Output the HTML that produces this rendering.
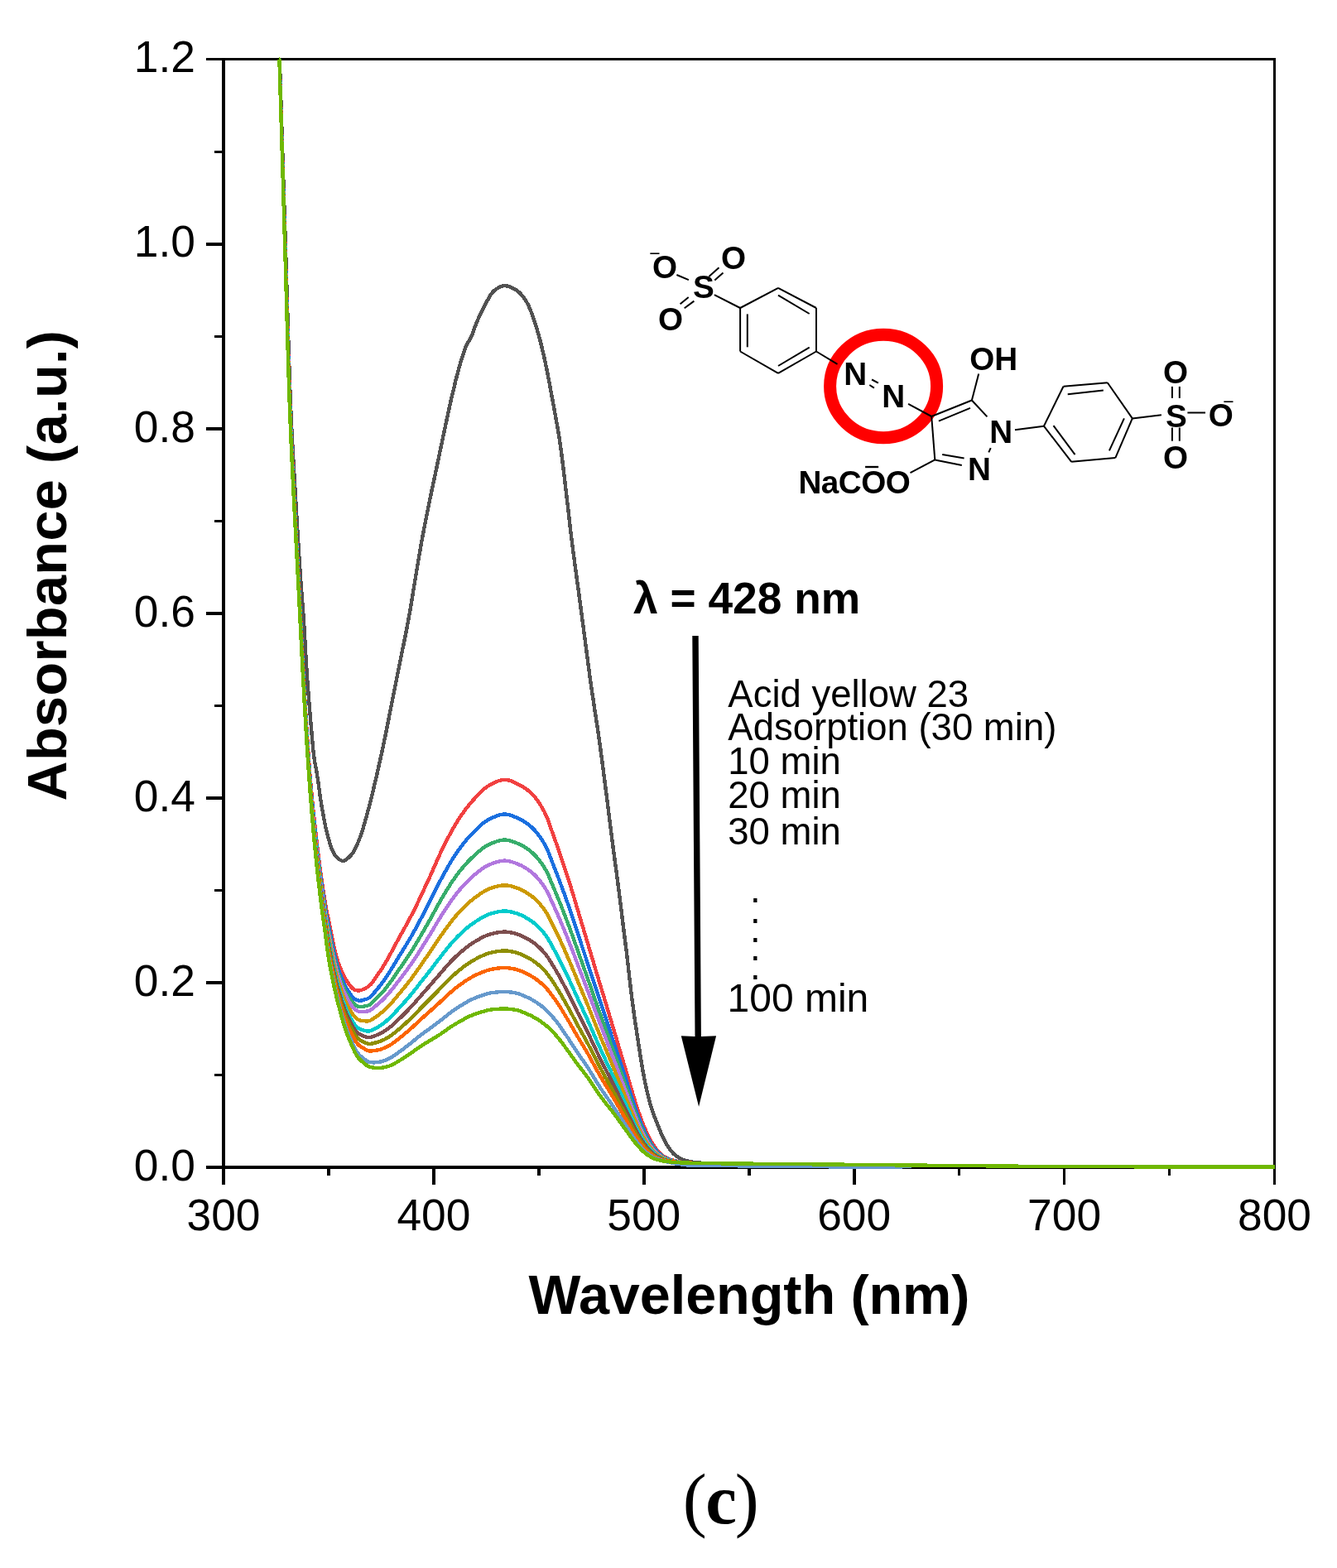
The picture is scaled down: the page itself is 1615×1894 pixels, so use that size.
<!DOCTYPE html>
<html lang="en"><head><meta charset="utf-8"><title>UV-Vis absorbance spectra - Acid yellow 23</title>
<style>
html,body{margin:0;padding:0;background:#fff}
body{width:1615px;height:1894px;overflow:hidden}
svg{display:block}
text{font-family:"Liberation Sans",Arial,Helvetica,sans-serif;fill:#000;font-kerning:none;font-variant-ligatures:none;letter-spacing:0}
.b{font-weight:bold}
.tick{font-size:53.33px}
.ttl{font-size:66.67px;font-weight:bold}
.lg{font-size:45.5px}
  .at{font-size:38.67px;font-weight:bold}
.ch{font-size:22px}
.cap{font-family:"Liberation Serif","DejaVu Serif",serif}
.bond line{stroke:#000;stroke-width:2;stroke-linecap:butt}
.cv path{fill:none;stroke-width:4.4;stroke-linejoin:round;stroke-linecap:butt}
</style></head><body>
<svg width="1615" height="1894" viewBox="0 0 1615 1894">
<rect width="1615" height="1894" fill="#fff"/>

<g fill="#000" shape-rendering="crispEdges">
<rect x="249" y="70" width="1292" height="3"/>
<rect x="268" y="70" width="4" height="1361"/>
<rect x="249" y="1408" width="1292" height="4"/>
<rect x="1538" y="70" width="3" height="1361"/>
<rect x="249" y="293" width="21" height="4"/>
<rect x="249" y="516" width="21" height="4"/>
<rect x="249" y="739" width="21" height="4"/>
<rect x="249" y="962" width="21" height="4"/>
<rect x="249" y="1185" width="21" height="4"/>
<rect x="259" y="182" width="11" height="3"/>
<rect x="259" y="405" width="11" height="3"/>
<rect x="259" y="628" width="11" height="3"/>
<rect x="259" y="851" width="11" height="3"/>
<rect x="259" y="1074" width="11" height="3"/>
<rect x="259" y="1297" width="11" height="3"/>
<rect x="522.1" y="1410" width="3.5" height="21"/>
<rect x="776.0" y="1410" width="3.5" height="21"/>
<rect x="1030.0" y="1410" width="3.5" height="21"/>
<rect x="1283.8" y="1410" width="3.5" height="21"/>
<rect x="395.2" y="1410" width="3.5" height="10"/>
<rect x="649.1" y="1410" width="3.5" height="10"/>
<rect x="903.0" y="1410" width="3.5" height="10"/>
<rect x="1156.9" y="1410" width="3.5" height="10"/>
<rect x="1410.8" y="1410" width="3.5" height="10"/>
</g>
<g class="cv" shape-rendering="crispEdges">
<path stroke="#515151" d="M337.8,71.5 L338.0,78.0 L338.2,86.0 L338.5,94.1 L338.8,102.1 L339.0,110.1 L339.2,118.1 L339.5,126.1 L339.8,134.1 L340.0,142.1 L340.2,150.1 L340.5,158.1 L340.8,166.0 L341.0,174.0 L341.2,181.9 L341.5,189.8 L341.8,197.8 L342.0,205.7 L342.2,213.6 L342.5,221.5 L342.8,229.4 L343.0,237.3 L343.2,245.1 L343.5,253.0 L343.8,260.8 L344.0,268.7 L344.2,276.5 L344.5,284.4 L344.8,292.2 L345.0,300.0 L345.2,307.9 L345.5,315.9 L345.8,324.1 L346.0,332.4 L346.2,340.8 L346.5,349.3 L346.8,357.8 L347.0,366.3 L347.2,374.8 L347.5,383.3 L347.8,391.7 L348.0,400.0 L348.2,408.2 L348.5,416.3 L348.8,424.2 L349.0,432.0 L349.2,439.6 L349.5,447.0 L349.8,454.3 L350.0,461.3 L350.2,468.2 L350.5,474.9 L350.8,481.4 L351.0,487.8 L351.2,494.0 L351.5,500.0 L351.8,505.8 L352.0,511.2 L352.2,516.5 L352.5,521.5 L352.8,526.4 L353.0,531.1 L353.2,535.8 L353.5,540.3 L353.8,544.8 L354.0,549.2 L354.2,553.5 L354.5,557.8 L354.8,562.1 L355.0,566.3 L355.2,570.5 L355.5,574.7 L355.8,578.9 L356.0,583.1 L356.2,587.3 L356.5,591.5 L356.8,595.7 L357.0,600.0 L357.2,604.3 L357.5,608.6 L357.8,612.8 L358.0,617.1 L358.2,621.3 L358.5,625.5 L358.8,629.7 L359.0,633.9 L359.2,638.1 L359.5,642.2 L359.8,646.4 L360.0,650.4 L360.2,654.5 L360.5,658.5 L360.8,662.5 L361.0,666.5 L361.2,670.4 L361.5,674.3 L361.8,678.2 L362.0,682.1 L362.2,685.9 L362.5,689.6 L362.8,693.4 L363.0,697.1 L363.2,700.7 L363.5,704.3 L363.8,707.7 L364.0,711.0 L364.2,714.3 L364.5,717.6 L364.8,720.8 L365.0,724.0 L365.2,727.1 L365.5,730.4 L365.8,733.6 L366.0,736.9 L366.2,740.2 L366.5,743.7 L366.8,747.3 L367.0,751.0 L367.2,754.9 L367.5,758.9 L367.8,763.1 L368.0,767.4 L368.2,771.8 L368.5,776.2 L368.8,780.7 L369.0,785.1 L369.2,789.6 L369.5,793.9 L369.8,798.1 L370.0,802.2 L370.2,806.2 L370.5,810.0 L370.8,813.7 L371.0,817.3 L371.2,820.8 L371.5,824.2 L371.8,827.6 L372.0,830.9 L372.2,834.2 L372.5,837.4 L372.8,840.6 L373.0,843.8 L373.2,846.9 L373.5,849.9 L373.8,853.0 L374.0,856.0 L374.2,858.9 L374.5,861.9 L374.8,864.8 L375.0,867.7 L375.2,870.5 L375.5,873.4 L375.8,876.3 L376.0,879.2 L376.2,882.2 L376.5,885.3 L376.8,888.3 L377.0,891.2 L377.2,894.2 L377.5,897.0 L377.8,899.7 L378.0,902.3 L378.2,904.8 L378.5,907.2 L378.8,909.4 L379.0,911.6 L379.2,913.7 L379.5,915.6 L379.8,917.5 L380.0,919.3 L380.2,920.9 L380.5,922.2 L380.8,923.4 L381.0,924.5 L381.2,925.7 L381.5,926.9 L381.8,928.2 L382.0,929.6 L382.2,931.0 L382.5,932.5 L382.8,934.1 L383.0,935.6 L383.2,937.2 L383.5,938.9 L383.8,940.6 L384.0,942.3 L384.2,944.0 L384.5,945.8 L384.8,947.6 L385.0,949.4 L385.2,951.2 L385.5,953.0 L385.8,954.8 L386.0,956.6 L386.2,958.4 L386.5,960.2 L386.8,961.9 L387.0,963.7 L387.2,965.4 L387.5,967.0 L387.8,968.7 L388.0,970.3 L388.2,971.8 L388.5,973.3 L388.8,974.8 L389.0,976.3 L389.2,977.7 L389.5,979.1 L389.8,980.5 L390.0,981.8 L390.2,983.2 L390.5,984.6 L390.8,985.9 L391.0,987.2 L391.2,988.6 L391.5,989.9 L391.8,991.2 L392.0,992.4 L392.2,993.7 L392.5,994.9 L392.8,996.1 L393.0,997.3 L393.2,998.4 L393.5,999.6 L393.8,1000.7 L394.0,1001.8 L394.2,1002.9 L394.5,1003.9 L394.8,1005.0 L395.0,1006.0 L395.2,1007.0 L395.5,1008.0 L395.8,1009.0 L396.0,1009.9 L396.2,1010.8 L396.5,1011.7 L396.8,1012.6 L397.0,1013.5 L397.2,1014.4 L397.5,1015.3 L397.8,1016.2 L398.0,1017.1 L398.2,1018.0 L398.5,1018.8 L398.8,1019.7 L399.0,1020.5 L399.2,1021.3 L399.5,1022.0 L399.8,1022.8 L400.0,1023.5 L400.2,1024.2 L400.5,1024.9 L400.8,1025.5 L401.0,1026.1 L401.2,1026.7 L401.5,1027.3 L401.8,1027.8 L402.0,1028.4 L402.2,1028.9 L402.5,1029.4 L402.8,1029.8 L403.0,1030.3 L403.2,1030.7 L403.5,1031.1 L403.8,1031.5 L404.0,1031.9 L404.2,1032.3 L404.5,1032.6 L404.8,1032.9 L405.0,1033.3 L405.2,1033.6 L405.5,1033.9 L405.8,1034.2 L406.0,1034.5 L406.2,1034.8 L406.5,1035.0 L406.8,1035.3 L407.0,1035.6 L407.2,1035.8 L407.5,1036.1 L407.8,1036.3 L408.0,1036.6 L408.2,1036.8 L408.5,1037.0 L408.8,1037.2 L409.0,1037.4 L409.2,1037.6 L409.5,1037.8 L409.8,1038.0 L410.0,1038.2 L410.2,1038.4 L410.5,1038.5 L410.8,1038.7 L411.0,1038.8 L411.2,1039.0 L411.5,1039.1 L411.8,1039.2 L412.0,1039.3 L412.2,1039.4 L412.5,1039.5 L412.8,1039.6 L413.0,1039.7 L413.2,1039.7 L413.5,1039.8 L413.8,1039.8 L414.0,1039.8 L414.2,1039.8 L414.5,1039.8 L414.8,1039.7 L415.0,1039.7 L415.2,1039.6 L415.5,1039.5 L415.8,1039.4 L416.0,1039.4 L416.2,1039.3 L416.5,1039.1 L416.8,1039.0 L417.0,1038.9 L417.2,1038.7 L417.5,1038.6 L417.8,1038.4 L418.0,1038.3 L418.2,1038.1 L418.5,1037.9 L418.8,1037.8 L419.0,1037.6 L419.2,1037.4 L419.5,1037.2 L419.8,1037.0 L420.0,1036.8 L421.0,1035.9 L422.0,1035.0 L423.0,1034.0 L424.0,1032.9 L425.0,1031.7 L426.0,1030.3 L427.0,1028.8 L428.0,1027.1 L429.0,1025.3 L430.0,1023.2 L431.0,1021.1 L432.0,1018.7 L433.0,1016.3 L434.0,1013.9 L435.0,1011.3 L436.0,1008.5 L437.0,1005.6 L438.0,1002.4 L439.0,999.2 L440.0,995.7 L441.0,992.2 L442.0,988.6 L443.0,984.9 L444.0,981.3 L445.0,977.6 L446.0,973.9 L447.0,970.0 L448.0,966.0 L449.0,962.0 L450.0,957.9 L451.0,953.7 L452.0,949.5 L453.0,945.3 L454.0,941.0 L455.0,936.7 L456.0,932.4 L457.0,927.9 L458.0,923.5 L459.0,919.0 L460.0,914.4 L461.0,909.8 L462.0,905.2 L463.0,900.5 L464.0,895.7 L465.0,890.9 L466.0,886.0 L467.0,881.0 L468.0,876.0 L469.0,870.9 L470.0,865.8 L471.0,860.7 L472.0,855.7 L473.0,850.6 L474.0,845.6 L475.0,840.6 L476.0,835.6 L477.0,830.6 L478.0,825.6 L479.0,820.6 L480.0,815.6 L481.0,810.6 L482.0,805.6 L483.0,800.6 L484.0,795.6 L485.0,790.7 L486.0,785.8 L487.0,780.9 L488.0,776.1 L489.0,771.2 L490.0,766.2 L491.0,761.1 L492.0,755.9 L493.0,750.6 L494.0,745.1 L495.0,739.3 L496.0,733.4 L497.0,727.4 L498.0,721.3 L499.0,715.1 L500.0,709.0 L501.0,703.0 L502.0,697.0 L503.0,691.1 L504.0,685.1 L505.0,679.1 L506.0,673.1 L507.0,667.2 L508.0,661.5 L509.0,655.9 L510.0,650.4 L511.0,645.0 L512.0,639.8 L513.0,634.6 L514.0,629.6 L515.0,624.5 L516.0,619.5 L517.0,614.6 L518.0,609.6 L519.0,604.7 L520.0,599.9 L521.0,595.1 L522.0,590.3 L523.0,585.6 L524.0,580.9 L525.0,576.2 L526.0,571.5 L527.0,566.8 L528.0,562.0 L529.0,557.3 L530.0,552.5 L531.0,547.7 L532.0,542.9 L533.0,538.1 L534.0,533.4 L535.0,528.6 L536.0,523.9 L537.0,519.2 L538.0,514.6 L539.0,509.9 L540.0,505.3 L541.0,500.6 L542.0,496.0 L543.0,491.4 L544.0,486.9 L545.0,482.4 L546.0,478.1 L547.0,473.8 L548.0,469.7 L549.0,465.6 L550.0,461.5 L551.0,457.5 L552.0,453.6 L553.0,449.8 L554.0,446.1 L555.0,442.5 L556.0,439.0 L557.0,435.7 L558.0,432.4 L559.0,429.3 L560.0,426.2 L561.0,423.3 L562.0,420.7 L563.0,418.2 L564.0,416.0 L565.0,414.2 L566.0,412.6 L567.0,411.0 L568.0,409.3 L569.0,407.4 L570.0,405.0 L571.0,402.4 L572.0,399.5 L573.0,396.6 L574.0,393.9 L575.0,391.4 L576.0,389.0 L577.0,386.7 L578.0,384.4 L579.0,382.1 L580.0,379.9 L581.0,377.8 L582.0,375.7 L583.0,373.7 L584.0,371.7 L585.0,369.8 L586.0,367.9 L587.0,366.1 L588.0,364.3 L589.0,362.5 L590.0,360.7 L591.0,358.9 L592.0,357.2 L593.0,355.6 L594.0,354.2 L595.0,352.9 L596.0,351.9 L597.0,351.0 L598.0,350.2 L599.0,349.5 L600.0,348.8 L601.0,348.2 L602.0,347.6 L603.0,347.0 L604.0,346.5 L605.0,346.1 L606.0,345.8 L607.0,345.5 L608.0,345.2 L609.0,345.1 L610.0,345.1 L611.0,345.2 L612.0,345.4 L613.0,345.6 L614.0,345.9 L615.0,346.2 L616.0,346.6 L617.0,347.0 L618.0,347.4 L619.0,347.9 L620.0,348.4 L621.0,349.0 L622.0,349.5 L623.0,350.1 L624.0,350.7 L625.0,351.5 L626.0,352.3 L627.0,353.1 L628.0,354.1 L629.0,355.1 L630.0,356.2 L631.0,357.3 L632.0,358.5 L633.0,359.9 L634.0,361.3 L635.0,362.9 L636.0,364.5 L637.0,366.4 L638.0,368.3 L639.0,370.5 L640.0,372.8 L641.0,375.2 L642.0,377.8 L643.0,380.6 L644.0,383.5 L645.0,386.4 L646.0,389.5 L647.0,392.5 L648.0,395.6 L649.0,398.9 L650.0,402.3 L651.0,405.9 L652.0,409.6 L653.0,413.4 L654.0,417.4 L655.0,421.5 L656.0,425.8 L657.0,430.1 L658.0,434.6 L659.0,439.3 L660.0,444.1 L661.0,449.1 L662.0,454.2 L663.0,459.5 L664.0,464.8 L665.0,470.2 L666.0,475.6 L667.0,481.0 L668.0,486.3 L669.0,491.6 L670.0,497.0 L671.0,502.4 L672.0,508.0 L673.0,513.6 L674.0,519.4 L675.0,525.5 L676.0,531.9 L677.0,538.8 L678.0,546.0 L679.0,553.7 L680.0,561.8 L681.0,570.1 L682.0,578.6 L683.0,587.3 L684.0,595.8 L685.0,604.2 L686.0,612.8 L687.0,621.5 L688.0,630.3 L689.0,639.0 L690.0,647.5 L691.0,655.7 L692.0,663.5 L693.0,671.1 L694.0,678.5 L695.0,685.8 L696.0,693.1 L697.0,700.4 L698.0,707.8 L699.0,715.2 L700.0,722.7 L701.0,730.3 L702.0,737.8 L703.0,745.3 L704.0,752.9 L705.0,760.4 L706.0,767.9 L707.0,775.5 L708.0,783.2 L709.0,790.8 L710.0,798.4 L711.0,806.0 L712.0,813.4 L713.0,820.7 L714.0,827.8 L715.0,834.7 L716.0,841.5 L717.0,848.1 L718.0,854.7 L719.0,861.3 L720.0,867.8 L721.0,874.4 L722.0,881.1 L723.0,887.9 L724.0,894.9 L725.0,902.1 L726.0,909.5 L727.0,917.0 L728.0,924.6 L729.0,932.3 L730.0,940.1 L731.0,947.9 L732.0,955.7 L733.0,963.5 L734.0,971.5 L735.0,979.5 L736.0,987.5 L737.0,995.5 L738.0,1003.4 L739.0,1011.3 L740.0,1019.0 L741.0,1026.6 L742.0,1034.1 L743.0,1041.5 L744.0,1048.9 L745.0,1056.4 L746.0,1064.0 L747.0,1071.7 L748.0,1079.5 L749.0,1087.5 L750.0,1095.6 L751.0,1103.7 L752.0,1111.9 L753.0,1120.0 L754.0,1128.0 L755.0,1135.9 L756.0,1143.6 L757.0,1151.6 L758.0,1160.1 L759.0,1168.9 L760.0,1177.8 L761.0,1186.6 L762.0,1195.2 L763.0,1203.3 L764.0,1211.0 L765.0,1218.4 L766.0,1225.5 L767.0,1232.5 L768.0,1239.3 L769.0,1245.9 L770.0,1252.5 L771.0,1259.0 L772.0,1265.5 L773.0,1272.0 L774.0,1278.3 L775.0,1284.5 L776.0,1290.3 L777.0,1296.0 L778.0,1301.3 L779.0,1306.3 L780.0,1311.1 L781.0,1315.7 L782.0,1320.0 L783.0,1324.1 L784.0,1328.0 L785.0,1331.8 L786.0,1335.3 L787.0,1338.5 L788.0,1341.6 L789.0,1344.5 L790.0,1347.3 L791.0,1349.9 L792.0,1352.6 L793.0,1355.1 L794.0,1357.6 L795.0,1360.1 L796.0,1362.6 L797.0,1365.1 L798.0,1367.5 L799.0,1369.8 L800.0,1372.1 L801.0,1374.2 L802.0,1376.3 L803.0,1378.2 L804.0,1380.0 L805.0,1381.8 L806.0,1383.5 L807.0,1385.1 L808.0,1386.6 L809.0,1388.1 L810.0,1389.4 L811.0,1390.7 L812.0,1391.8 L813.0,1392.9 L814.0,1393.9 L815.0,1394.8 L816.0,1395.6 L817.0,1396.4 L818.0,1397.1 L819.0,1397.8 L820.0,1398.4 L821.0,1399.0 L822.0,1399.5 L823.0,1400.0 L824.0,1400.4 L825.0,1400.8 L826.0,1401.2 L827.0,1401.5 L828.0,1401.8 L829.0,1402.1 L830.0,1402.3 L831.0,1402.6 L832.0,1402.8 L833.0,1403.0 L834.0,1403.1 L835.0,1403.3 L836.0,1403.5 L837.0,1403.7 L838.0,1403.8 L839.0,1404.0 L840.0,1404.1 L850.0,1405.0 L860.0,1405.2 L870.0,1405.4 L880.0,1405.6 L890.0,1405.7 L900.0,1405.8 L910.0,1405.9 L920.0,1406.0 L930.0,1406.0 L940.0,1406.1 L950.0,1406.2 L960.0,1406.2 L970.0,1406.3 L980.0,1406.3 L990.0,1406.4 L1000.0,1406.5 L1010.0,1406.6 L1020.0,1406.7 L1030.0,1406.8 L1040.0,1406.9 L1050.0,1407.0 L1060.0,1407.1 L1070.0,1407.2 L1080.0,1407.3 L1090.0,1407.4 L1100.0,1407.5 L1110.0,1407.6 L1120.0,1407.7 L1130.0,1407.8 L1140.0,1407.9 L1150.0,1408.0 L1160.0,1408.1 L1170.0,1408.1 L1180.0,1408.2 L1190.0,1408.3 L1200.0,1408.4 L1210.0,1408.5 L1220.0,1408.6 L1230.0,1408.7 L1240.0,1408.7 L1250.0,1408.8 L1260.0,1408.9 L1270.0,1408.9 L1280.0,1409.0 L1290.0,1409.0 L1300.0,1409.0 L1310.0,1409.1 L1320.0,1409.1 L1330.0,1409.1 L1340.0,1409.2 L1350.0,1409.2 L1360.0,1409.3 L1370.0,1409.3 L1380.0,1409.3 L1390.0,1409.3 L1400.0,1409.4 L1410.0,1409.4 L1420.0,1409.4 L1430.0,1409.5 L1440.0,1409.5 L1450.0,1409.5 L1460.0,1409.5 L1470.0,1409.5 L1480.0,1409.6 L1490.0,1409.6 L1500.0,1409.6 L1510.0,1409.6 L1520.0,1409.6 L1530.0,1409.6 L1539.5,1409.6"/>
<path stroke="#F14040" d="M337.5,71.5 L337.8,76.4 L338.0,84.6 L338.2,92.8 L338.5,101.0 L338.8,109.2 L339.0,117.4 L339.2,125.6 L339.5,133.8 L339.8,142.0 L340.0,150.2 L340.2,158.3 L340.5,166.5 L340.8,174.7 L341.0,182.8 L341.2,191.0 L341.5,199.1 L341.8,207.3 L342.0,215.5 L342.2,223.6 L342.5,231.7 L342.8,239.9 L343.0,248.0 L343.2,256.1 L343.5,264.3 L343.8,272.4 L344.0,280.5 L344.2,288.6 L344.5,296.7 L344.8,304.9 L345.0,313.1 L345.2,321.5 L345.5,330.0 L345.8,338.6 L346.0,347.3 L346.2,356.0 L346.5,364.8 L346.8,373.5 L347.0,382.2 L347.2,390.9 L347.5,399.5 L347.8,408.0 L348.0,416.4 L348.2,424.7 L348.5,432.8 L348.8,440.8 L349.0,448.6 L349.2,456.3 L349.5,463.8 L349.8,471.1 L350.0,478.2 L350.2,485.2 L350.5,492.0 L350.8,498.7 L351.0,505.1 L351.2,511.4 L351.5,517.5 L351.8,523.4 L352.0,529.2 L352.2,534.9 L352.5,540.4 L352.8,545.9 L353.0,551.2 L353.2,556.5 L353.5,561.7 L353.8,566.8 L354.0,571.9 L354.2,576.9 L354.5,581.9 L354.8,586.8 L355.0,591.6 L355.2,596.5 L355.5,601.3 L355.8,606.0 L356.0,610.8 L356.2,615.5 L356.5,620.2 L356.8,624.8 L357.0,629.5 L357.2,634.1 L357.5,638.8 L357.8,643.4 L358.0,648.0 L358.2,652.6 L358.5,657.2 L358.8,661.8 L359.0,666.4 L359.2,671.1 L359.5,675.7 L359.8,680.3 L360.0,685.0 L360.2,689.6 L360.5,694.3 L360.8,699.0 L361.0,703.8 L361.2,708.5 L361.5,713.4 L361.8,718.2 L362.0,723.1 L362.2,728.0 L362.5,732.9 L362.8,737.8 L363.0,742.8 L363.2,747.8 L363.5,752.8 L363.8,757.7 L364.0,762.7 L364.2,767.7 L364.5,772.6 L364.8,777.6 L365.0,782.5 L365.2,787.4 L365.5,792.3 L365.8,797.2 L366.0,802.0 L366.2,806.8 L366.5,811.5 L366.8,816.2 L367.0,820.9 L367.2,825.5 L367.5,830.0 L367.8,834.6 L368.0,839.0 L368.2,843.4 L368.5,847.8 L368.8,852.1 L369.0,856.4 L369.2,860.6 L369.5,864.7 L369.8,868.8 L370.0,872.8 L370.2,876.8 L370.5,880.7 L370.8,884.6 L371.0,888.5 L371.2,892.2 L371.5,896.0 L371.8,899.6 L372.0,903.3 L372.2,906.8 L372.5,910.4 L372.8,913.8 L373.0,917.3 L373.2,920.7 L373.5,924.0 L373.8,927.2 L374.0,930.4 L374.2,933.5 L374.5,936.5 L374.8,939.5 L375.0,942.4 L375.2,945.3 L375.5,948.1 L375.8,950.9 L376.0,953.7 L376.2,956.4 L376.5,959.0 L376.8,961.7 L377.0,964.3 L377.2,966.9 L377.5,969.4 L377.8,971.9 L378.0,974.4 L378.2,976.9 L378.5,979.3 L378.8,981.7 L379.0,984.1 L379.2,986.5 L379.5,988.8 L379.8,991.2 L380.0,993.5 L380.2,995.8 L380.5,998.0 L380.8,1000.3 L381.0,1002.5 L381.2,1004.8 L381.5,1007.0 L381.8,1009.2 L382.0,1011.4 L382.2,1013.5 L382.5,1015.7 L382.8,1017.9 L383.0,1020.0 L383.2,1022.1 L383.5,1024.2 L383.8,1026.3 L384.0,1028.4 L384.2,1030.4 L384.5,1032.5 L384.8,1034.5 L385.0,1036.5 L385.2,1038.5 L385.5,1040.5 L385.8,1042.5 L386.0,1044.4 L386.2,1046.3 L386.5,1048.2 L386.8,1050.1 L387.0,1052.0 L387.2,1053.8 L387.5,1055.7 L387.8,1057.5 L388.0,1059.3 L388.2,1061.0 L388.5,1062.8 L388.8,1064.5 L389.0,1066.3 L389.2,1068.0 L389.5,1069.6 L389.8,1071.3 L390.0,1073.0 L390.2,1074.6 L390.5,1076.2 L390.8,1077.8 L391.0,1079.4 L391.2,1081.0 L391.5,1082.5 L391.8,1084.1 L392.0,1085.6 L392.2,1087.1 L392.5,1088.6 L392.8,1090.1 L393.0,1091.5 L393.2,1093.0 L393.5,1094.4 L393.8,1095.8 L394.0,1097.2 L394.2,1098.6 L394.5,1100.0 L394.8,1101.3 L395.0,1102.5 L395.2,1103.7 L395.5,1104.8 L395.8,1105.9 L396.0,1107.0 L396.2,1108.1 L396.5,1109.2 L396.8,1110.3 L397.0,1111.5 L397.2,1112.6 L397.5,1113.9 L397.8,1115.1 L398.0,1116.4 L398.2,1117.6 L398.5,1118.9 L398.8,1120.2 L399.0,1121.6 L399.2,1122.9 L399.5,1124.2 L399.8,1125.5 L400.0,1126.8 L400.2,1128.1 L400.5,1129.4 L400.8,1130.7 L401.0,1132.0 L401.2,1133.2 L401.5,1134.4 L401.8,1135.6 L402.0,1136.7 L402.2,1137.9 L402.5,1139.0 L402.8,1140.1 L403.0,1141.3 L403.2,1142.4 L403.5,1143.5 L403.8,1144.6 L404.0,1145.7 L404.2,1146.8 L404.5,1147.9 L404.8,1148.9 L405.0,1150.0 L405.2,1151.0 L405.5,1152.0 L405.8,1153.0 L406.0,1153.9 L406.2,1154.9 L406.5,1155.8 L406.8,1156.7 L407.0,1157.6 L407.2,1158.5 L407.5,1159.3 L407.8,1160.1 L408.0,1160.9 L408.2,1161.7 L408.5,1162.5 L408.8,1163.3 L409.0,1164.0 L409.2,1164.7 L409.5,1165.4 L409.8,1166.0 L410.0,1166.7 L410.2,1167.3 L410.5,1167.9 L410.8,1168.6 L411.0,1169.2 L411.2,1169.8 L411.5,1170.3 L411.8,1170.9 L412.0,1171.5 L412.2,1172.0 L412.5,1172.6 L412.8,1173.1 L413.0,1173.7 L413.2,1174.2 L413.5,1174.7 L413.8,1175.3 L414.0,1175.8 L414.2,1176.3 L414.5,1176.8 L414.8,1177.3 L415.0,1177.8 L415.2,1178.3 L415.5,1178.8 L415.8,1179.3 L416.0,1179.7 L416.2,1180.2 L416.5,1180.7 L416.8,1181.2 L417.0,1181.6 L417.2,1182.1 L417.5,1182.5 L417.8,1182.9 L418.0,1183.4 L418.2,1183.8 L418.5,1184.2 L418.8,1184.6 L419.0,1185.0 L419.2,1185.4 L419.5,1185.8 L419.8,1186.2 L420.0,1186.6 L421.0,1188.0 L422.0,1189.3 L423.0,1190.6 L424.0,1191.9 L425.0,1193.0 L426.0,1194.0 L427.0,1194.8 L428.0,1195.4 L429.0,1195.7 L430.0,1196.1 L431.0,1196.3 L432.0,1196.5 L433.0,1196.6 L434.0,1196.5 L435.0,1196.3 L436.0,1196.1 L437.0,1195.7 L438.0,1195.3 L439.0,1194.8 L440.0,1194.3 L441.0,1193.9 L442.0,1193.4 L443.0,1192.8 L444.0,1192.2 L445.0,1191.5 L446.0,1190.8 L447.0,1189.9 L448.0,1188.9 L449.0,1187.7 L450.0,1186.4 L451.0,1184.9 L452.0,1183.4 L453.0,1181.9 L454.0,1180.4 L455.0,1179.0 L456.0,1177.6 L457.0,1176.2 L458.0,1174.8 L459.0,1173.4 L460.0,1171.9 L461.0,1170.4 L462.0,1168.9 L463.0,1167.3 L464.0,1165.6 L465.0,1164.0 L466.0,1162.2 L467.0,1160.5 L468.0,1158.7 L469.0,1156.8 L470.0,1155.0 L471.0,1153.2 L472.0,1151.4 L473.0,1149.6 L474.0,1147.7 L475.0,1145.9 L476.0,1144.0 L477.0,1142.2 L478.0,1140.3 L479.0,1138.5 L480.0,1136.6 L481.0,1134.8 L482.0,1132.9 L483.0,1131.1 L484.0,1129.3 L485.0,1127.5 L486.0,1125.7 L487.0,1123.9 L488.0,1122.2 L489.0,1120.4 L490.0,1118.6 L491.0,1116.7 L492.0,1114.9 L493.0,1113.1 L494.0,1111.2 L495.0,1109.4 L496.0,1107.5 L497.0,1105.6 L498.0,1103.7 L499.0,1101.7 L500.0,1099.7 L501.0,1097.7 L502.0,1095.7 L503.0,1093.7 L504.0,1091.6 L505.0,1089.5 L506.0,1087.5 L507.0,1085.4 L508.0,1083.2 L509.0,1081.1 L510.0,1079.0 L511.0,1076.8 L512.0,1074.7 L513.0,1072.5 L514.0,1070.4 L515.0,1068.2 L516.0,1066.1 L517.0,1063.9 L518.0,1061.8 L519.0,1059.6 L520.0,1057.4 L521.0,1055.1 L522.0,1052.9 L523.0,1050.6 L524.0,1048.3 L525.0,1046.1 L526.0,1043.8 L527.0,1041.5 L528.0,1039.3 L529.0,1037.0 L530.0,1034.8 L531.0,1032.6 L532.0,1030.5 L533.0,1028.3 L534.0,1026.3 L535.0,1024.2 L536.0,1022.2 L537.0,1020.2 L538.0,1018.2 L539.0,1016.3 L540.0,1014.3 L541.0,1012.4 L542.0,1010.5 L543.0,1008.6 L544.0,1006.7 L545.0,1004.9 L546.0,1003.1 L547.0,1001.3 L548.0,999.5 L549.0,997.8 L550.0,996.1 L551.0,994.4 L552.0,992.8 L553.0,991.2 L554.0,989.7 L555.0,988.1 L556.0,986.6 L557.0,985.2 L558.0,983.7 L559.0,982.3 L560.0,980.9 L561.0,979.5 L562.0,978.2 L563.0,976.8 L564.0,975.5 L565.0,974.2 L566.0,973.0 L567.0,971.8 L568.0,970.6 L569.0,969.4 L570.0,968.2 L571.0,967.1 L572.0,966.0 L573.0,964.9 L574.0,963.8 L575.0,962.7 L576.0,961.6 L577.0,960.6 L578.0,959.5 L579.0,958.5 L580.0,957.4 L581.0,956.5 L582.0,955.5 L583.0,954.6 L584.0,953.7 L585.0,952.8 L586.0,952.0 L587.0,951.2 L588.0,950.5 L589.0,949.8 L590.0,949.2 L591.0,948.6 L592.0,948.0 L593.0,947.5 L594.0,947.0 L595.0,946.5 L596.0,945.9 L597.0,945.5 L598.0,945.0 L599.0,944.5 L600.0,944.1 L601.0,943.7 L602.0,943.3 L603.0,943.0 L604.0,942.7 L605.0,942.4 L606.0,942.2 L607.0,942.0 L608.0,941.9 L609.0,941.8 L610.0,941.8 L611.0,941.9 L612.0,942.0 L613.0,942.2 L614.0,942.4 L615.0,942.6 L616.0,942.9 L617.0,943.3 L618.0,943.6 L619.0,944.0 L620.0,944.4 L621.0,944.9 L622.0,945.3 L623.0,945.8 L624.0,946.3 L625.0,946.8 L626.0,947.3 L627.0,947.8 L628.0,948.3 L629.0,948.8 L630.0,949.4 L631.0,949.9 L632.0,950.6 L633.0,951.2 L634.0,951.9 L635.0,952.6 L636.0,953.3 L637.0,954.1 L638.0,954.9 L639.0,955.8 L640.0,956.7 L641.0,957.6 L642.0,958.5 L643.0,959.5 L644.0,960.5 L645.0,961.6 L646.0,962.8 L647.0,964.0 L648.0,965.3 L649.0,966.7 L650.0,968.1 L651.0,969.6 L652.0,971.1 L653.0,972.7 L654.0,974.3 L655.0,976.0 L656.0,977.8 L657.0,979.6 L658.0,981.5 L659.0,983.6 L660.0,985.7 L661.0,988.0 L662.0,990.5 L663.0,993.2 L664.0,996.2 L665.0,999.1 L666.0,1002.0 L667.0,1004.8 L668.0,1007.6 L669.0,1010.5 L670.0,1013.3 L671.0,1016.1 L672.0,1018.9 L673.0,1021.8 L674.0,1024.6 L675.0,1027.5 L676.0,1030.4 L677.0,1033.3 L678.0,1036.2 L679.0,1039.2 L680.0,1042.2 L681.0,1045.2 L682.0,1048.2 L683.0,1051.2 L684.0,1054.3 L685.0,1057.3 L686.0,1060.4 L687.0,1063.5 L688.0,1066.7 L689.0,1069.8 L690.0,1073.0 L691.0,1076.2 L692.0,1079.5 L693.0,1082.8 L694.0,1086.1 L695.0,1089.5 L696.0,1092.8 L697.0,1096.2 L698.0,1099.6 L699.0,1103.0 L700.0,1106.4 L701.0,1109.7 L702.0,1113.1 L703.0,1116.4 L704.0,1119.7 L705.0,1123.0 L706.0,1126.4 L707.0,1129.7 L708.0,1133.0 L709.0,1136.3 L710.0,1139.6 L711.0,1143.0 L712.0,1146.3 L713.0,1149.7 L714.0,1153.0 L715.0,1156.4 L716.0,1159.8 L717.0,1163.1 L718.0,1166.5 L719.0,1169.8 L720.0,1173.1 L721.0,1176.4 L722.0,1179.7 L723.0,1182.9 L724.0,1186.2 L725.0,1189.5 L726.0,1192.8 L727.0,1196.1 L728.0,1199.4 L729.0,1202.7 L730.0,1206.0 L731.0,1209.3 L732.0,1212.7 L733.0,1216.0 L734.0,1219.3 L735.0,1222.6 L736.0,1226.0 L737.0,1229.3 L738.0,1232.6 L739.0,1236.0 L740.0,1239.3 L741.0,1242.7 L742.0,1246.1 L743.0,1249.4 L744.0,1252.8 L745.0,1256.1 L746.0,1259.5 L747.0,1262.8 L748.0,1266.2 L749.0,1269.5 L750.0,1272.9 L751.0,1276.2 L752.0,1279.6 L753.0,1282.9 L754.0,1286.2 L755.0,1289.6 L756.0,1292.9 L757.0,1296.3 L758.0,1299.6 L759.0,1303.0 L760.0,1306.4 L761.0,1309.8 L762.0,1313.3 L763.0,1316.7 L764.0,1320.1 L765.0,1323.5 L766.0,1326.7 L767.0,1329.9 L768.0,1333.1 L769.0,1336.1 L770.0,1339.1 L771.0,1342.0 L772.0,1344.9 L773.0,1347.8 L774.0,1350.6 L775.0,1353.3 L776.0,1355.9 L777.0,1358.4 L778.0,1360.9 L779.0,1363.2 L780.0,1365.5 L781.0,1367.7 L782.0,1369.8 L783.0,1371.9 L784.0,1373.9 L785.0,1375.9 L786.0,1377.7 L787.0,1379.5 L788.0,1381.1 L789.0,1382.7 L790.0,1384.2 L791.0,1385.6 L792.0,1387.0 L793.0,1388.2 L794.0,1389.5 L795.0,1390.6 L796.0,1391.7 L797.0,1392.8 L798.0,1393.8 L799.0,1394.7 L800.0,1395.5 L801.0,1396.2 L802.0,1396.9 L803.0,1397.5 L804.0,1398.1 L805.0,1398.6 L806.0,1399.0 L807.0,1399.5 L808.0,1399.9 L809.0,1400.3 L810.0,1400.7 L811.0,1401.0 L812.0,1401.3 L813.0,1401.6 L814.0,1401.8 L815.0,1402.1 L816.0,1402.3 L817.0,1402.5 L818.0,1402.8 L819.0,1403.0 L820.0,1403.2 L821.0,1403.4 L822.0,1403.6 L823.0,1403.8 L824.0,1403.9 L825.0,1404.1 L826.0,1404.2 L827.0,1404.3 L828.0,1404.4 L829.0,1404.5 L830.0,1404.5 L831.0,1404.5 L832.0,1404.6 L833.0,1404.6 L834.0,1404.6 L835.0,1404.6 L836.0,1404.7 L837.0,1404.7 L838.0,1404.7 L839.0,1404.7 L840.0,1404.8 L850.0,1405.0 L860.0,1405.2 L870.0,1405.4 L880.0,1405.5 L890.0,1405.7 L900.0,1405.8 L910.0,1405.8 L920.0,1405.9 L930.0,1406.0 L940.0,1406.1 L950.0,1406.1 L960.0,1406.2 L970.0,1406.2 L980.0,1406.3 L990.0,1406.4 L1000.0,1406.5 L1010.0,1406.6 L1020.0,1406.7 L1030.0,1406.8 L1040.0,1406.9 L1050.0,1407.0 L1060.0,1407.1 L1070.0,1407.2 L1080.0,1407.3 L1090.0,1407.4 L1100.0,1407.5 L1110.0,1407.6 L1120.0,1407.7 L1130.0,1407.8 L1140.0,1407.9 L1150.0,1408.0 L1160.0,1408.1 L1170.0,1408.1 L1180.0,1408.2 L1190.0,1408.3 L1200.0,1408.4 L1210.0,1408.5 L1220.0,1408.6 L1230.0,1408.7 L1240.0,1408.7 L1250.0,1408.8 L1260.0,1408.9 L1270.0,1408.9 L1280.0,1409.0 L1290.0,1409.0 L1300.0,1409.0 L1310.0,1409.1 L1320.0,1409.1 L1330.0,1409.1 L1340.0,1409.2 L1350.0,1409.2 L1360.0,1409.3 L1370.0,1409.3 L1380.0,1409.3 L1390.0,1409.3 L1400.0,1409.4 L1410.0,1409.4 L1420.0,1409.4 L1430.0,1409.5 L1440.0,1409.5 L1450.0,1409.5 L1460.0,1409.5 L1470.0,1409.5 L1480.0,1409.6 L1490.0,1409.6 L1500.0,1409.6 L1510.0,1409.6 L1520.0,1409.6 L1530.0,1409.6 L1539.5,1409.6"/>
<path stroke="#1A6FDF" d="M337.2,71.5 L337.5,72.0 L337.8,77.5 L338.0,85.7 L338.2,93.9 L338.5,102.2 L338.8,110.4 L339.0,118.6 L339.2,126.9 L339.5,135.1 L339.8,143.3 L340.0,151.5 L340.2,159.7 L340.5,167.9 L340.8,176.1 L341.0,184.3 L341.2,192.5 L341.5,200.7 L341.8,208.9 L342.0,217.1 L342.2,225.3 L342.5,233.4 L342.8,241.6 L343.0,249.8 L343.2,258.0 L343.5,266.1 L343.8,274.3 L344.0,282.4 L344.2,290.6 L344.5,298.8 L344.8,307.0 L345.0,315.3 L345.2,323.8 L345.5,332.4 L345.8,341.0 L346.0,349.7 L346.2,358.5 L346.5,367.3 L346.8,376.1 L347.0,384.8 L347.2,393.5 L347.5,402.1 L347.8,410.7 L348.0,419.0 L348.2,427.3 L348.5,435.4 L348.8,443.4 L349.0,451.2 L349.2,458.8 L349.5,466.3 L349.8,473.6 L350.0,480.7 L350.2,487.6 L350.5,494.4 L350.8,501.0 L351.0,507.4 L351.2,513.7 L351.5,519.7 L351.8,525.6 L352.0,531.4 L352.2,537.0 L352.5,542.5 L352.8,547.9 L353.0,553.3 L353.2,558.6 L353.5,563.7 L353.8,568.9 L354.0,573.9 L354.2,578.9 L354.5,583.9 L354.8,588.8 L355.0,593.7 L355.2,598.5 L355.5,603.3 L355.8,608.1 L356.0,612.8 L356.2,617.5 L356.5,622.2 L356.8,626.9 L357.0,631.5 L357.2,636.2 L357.5,640.8 L357.8,645.5 L358.0,650.1 L358.2,654.7 L358.5,659.4 L358.8,664.0 L359.0,668.6 L359.2,673.3 L359.5,677.9 L359.8,682.6 L360.0,687.2 L360.2,691.9 L360.5,696.7 L360.8,701.4 L361.0,706.2 L361.2,711.0 L361.5,715.8 L361.8,720.6 L362.0,725.5 L362.2,730.4 L362.5,735.4 L362.8,740.3 L363.0,745.3 L363.2,750.3 L363.5,755.2 L363.8,760.2 L364.0,765.2 L364.2,770.1 L364.5,775.1 L364.8,780.0 L365.0,784.9 L365.2,789.8 L365.5,794.7 L365.8,799.5 L366.0,804.4 L366.2,809.1 L366.5,813.9 L366.8,818.6 L367.0,823.2 L367.2,827.8 L367.5,832.4 L367.8,836.9 L368.0,841.3 L368.2,845.8 L368.5,850.1 L368.8,854.4 L369.0,858.7 L369.2,862.9 L369.5,867.0 L369.8,871.2 L370.0,875.2 L370.2,879.2 L370.5,883.1 L370.8,887.0 L371.0,890.9 L371.2,894.7 L371.5,898.4 L371.8,902.1 L372.0,905.8 L372.2,909.4 L372.5,912.9 L372.8,916.4 L373.0,919.9 L373.2,923.3 L373.5,926.6 L373.8,929.9 L374.0,933.1 L374.2,936.2 L374.5,939.3 L374.8,942.3 L375.0,945.3 L375.2,948.2 L375.5,951.1 L375.8,954.0 L376.0,956.8 L376.2,959.5 L376.5,962.3 L376.8,965.0 L377.0,967.6 L377.2,970.2 L377.5,972.8 L377.8,975.4 L378.0,978.0 L378.2,980.5 L378.5,983.0 L378.8,985.4 L379.0,987.9 L379.2,990.3 L379.5,992.7 L379.8,995.1 L380.0,997.5 L380.2,999.8 L380.5,1002.1 L380.8,1004.4 L381.0,1006.7 L381.2,1009.0 L381.5,1011.3 L381.8,1013.5 L382.0,1015.7 L382.2,1017.9 L382.5,1020.1 L382.8,1022.3 L383.0,1024.4 L383.2,1026.6 L383.5,1028.7 L383.8,1030.8 L384.0,1032.9 L384.2,1035.0 L384.5,1037.1 L384.8,1039.1 L385.0,1041.2 L385.2,1043.2 L385.5,1045.2 L385.8,1047.2 L386.0,1049.1 L386.2,1051.1 L386.5,1053.0 L386.8,1054.9 L387.0,1056.8 L387.2,1058.7 L387.5,1060.5 L387.8,1062.4 L388.0,1064.2 L388.2,1066.0 L388.5,1067.8 L388.8,1069.6 L389.0,1071.3 L389.2,1073.1 L389.5,1074.8 L389.8,1076.5 L390.0,1078.2 L390.2,1079.8 L390.5,1081.4 L390.8,1083.1 L391.0,1084.7 L391.2,1086.3 L391.5,1087.8 L391.8,1089.4 L392.0,1091.0 L392.2,1092.5 L392.5,1094.0 L392.8,1095.6 L393.0,1097.1 L393.2,1098.6 L393.5,1100.1 L393.8,1101.6 L394.0,1103.1 L394.2,1104.6 L394.5,1106.0 L394.8,1107.4 L395.0,1108.8 L395.2,1110.0 L395.5,1111.3 L395.8,1112.5 L396.0,1113.7 L396.2,1114.8 L396.5,1116.0 L396.8,1117.2 L397.0,1118.4 L397.2,1119.6 L397.5,1120.9 L397.8,1122.2 L398.0,1123.5 L398.2,1124.8 L398.5,1126.1 L398.8,1127.4 L399.0,1128.7 L399.2,1130.0 L399.5,1131.4 L399.8,1132.7 L400.0,1134.0 L400.2,1135.3 L400.5,1136.6 L400.8,1137.8 L401.0,1139.1 L401.2,1140.3 L401.5,1141.5 L401.8,1142.7 L402.0,1143.9 L402.2,1145.0 L402.5,1146.2 L402.8,1147.3 L403.0,1148.4 L403.2,1149.6 L403.5,1150.7 L403.8,1151.8 L404.0,1152.9 L404.2,1154.0 L404.5,1155.1 L404.8,1156.1 L405.0,1157.2 L405.2,1158.2 L405.5,1159.2 L405.8,1160.2 L406.0,1161.2 L406.2,1162.2 L406.5,1163.1 L406.8,1164.0 L407.0,1164.9 L407.2,1165.8 L407.5,1166.7 L407.8,1167.5 L408.0,1168.4 L408.2,1169.2 L408.5,1170.0 L408.8,1170.8 L409.0,1171.5 L409.2,1172.3 L409.5,1173.0 L409.8,1173.7 L410.0,1174.4 L410.2,1175.1 L410.5,1175.8 L410.8,1176.4 L411.0,1177.1 L411.2,1177.7 L411.5,1178.4 L411.8,1179.0 L412.0,1179.6 L412.2,1180.2 L412.5,1180.8 L412.8,1181.4 L413.0,1182.0 L413.2,1182.6 L413.5,1183.2 L413.8,1183.7 L414.0,1184.3 L414.2,1184.9 L414.5,1185.4 L414.8,1186.0 L415.0,1186.5 L415.2,1187.1 L415.5,1187.6 L415.8,1188.1 L416.0,1188.7 L416.2,1189.2 L416.5,1189.7 L416.8,1190.2 L417.0,1190.7 L417.2,1191.2 L417.5,1191.7 L417.8,1192.1 L418.0,1192.6 L418.2,1193.1 L418.5,1193.5 L418.8,1194.0 L419.0,1194.4 L419.2,1194.8 L419.5,1195.3 L419.8,1195.7 L420.0,1196.1 L421.0,1197.7 L422.0,1199.2 L423.0,1200.6 L424.0,1202.0 L425.0,1203.4 L426.0,1204.5 L427.0,1205.5 L428.0,1206.3 L429.0,1207.0 L430.0,1207.5 L431.0,1208.0 L432.0,1208.3 L433.0,1208.6 L434.0,1208.7 L435.0,1208.7 L436.0,1208.6 L437.0,1208.4 L438.0,1208.2 L439.0,1207.9 L440.0,1207.6 L441.0,1207.3 L442.0,1207.0 L443.0,1206.7 L444.0,1206.3 L445.0,1205.8 L446.0,1205.2 L447.0,1204.5 L448.0,1203.7 L449.0,1202.7 L450.0,1201.6 L451.0,1200.4 L452.0,1199.1 L453.0,1197.9 L454.0,1196.6 L455.0,1195.5 L456.0,1194.3 L457.0,1193.1 L458.0,1191.9 L459.0,1190.7 L460.0,1189.4 L461.0,1188.1 L462.0,1186.8 L463.0,1185.5 L464.0,1184.0 L465.0,1182.6 L466.0,1181.1 L467.0,1179.6 L468.0,1178.0 L469.0,1176.4 L470.0,1174.9 L471.0,1173.3 L472.0,1171.7 L473.0,1170.1 L474.0,1168.5 L475.0,1166.8 L476.0,1165.2 L477.0,1163.5 L478.0,1161.8 L479.0,1160.2 L480.0,1158.5 L481.0,1156.9 L482.0,1155.3 L483.0,1153.6 L484.0,1152.0 L485.0,1150.4 L486.0,1148.8 L487.0,1147.2 L488.0,1145.6 L489.0,1144.0 L490.0,1142.3 L491.0,1140.7 L492.0,1139.1 L493.0,1137.4 L494.0,1135.7 L495.0,1134.0 L496.0,1132.4 L497.0,1130.6 L498.0,1128.9 L499.0,1127.1 L500.0,1125.3 L501.0,1123.5 L502.0,1121.7 L503.0,1119.9 L504.0,1118.0 L505.0,1116.2 L506.0,1114.3 L507.0,1112.4 L508.0,1110.5 L509.0,1108.6 L510.0,1106.7 L511.0,1104.8 L512.0,1102.9 L513.0,1101.0 L514.0,1099.0 L515.0,1097.1 L516.0,1095.2 L517.0,1093.3 L518.0,1091.4 L519.0,1089.4 L520.0,1087.4 L521.0,1085.4 L522.0,1083.4 L523.0,1081.4 L524.0,1079.4 L525.0,1077.4 L526.0,1075.3 L527.0,1073.3 L528.0,1071.3 L529.0,1069.3 L530.0,1067.4 L531.0,1065.4 L532.0,1063.5 L533.0,1061.6 L534.0,1059.7 L535.0,1057.9 L536.0,1056.1 L537.0,1054.3 L538.0,1052.5 L539.0,1050.7 L540.0,1048.9 L541.0,1047.2 L542.0,1045.4 L543.0,1043.7 L544.0,1042.0 L545.0,1040.4 L546.0,1038.7 L547.0,1037.1 L548.0,1035.5 L549.0,1034.0 L550.0,1032.5 L551.0,1031.0 L552.0,1029.5 L553.0,1028.0 L554.0,1026.6 L555.0,1025.3 L556.0,1023.9 L557.0,1022.6 L558.0,1021.2 L559.0,1020.0 L560.0,1018.7 L561.0,1017.4 L562.0,1016.2 L563.0,1015.0 L564.0,1013.8 L565.0,1012.7 L566.0,1011.5 L567.0,1010.4 L568.0,1009.3 L569.0,1008.2 L570.0,1007.2 L571.0,1006.2 L572.0,1005.2 L573.0,1004.2 L574.0,1003.2 L575.0,1002.2 L576.0,1001.3 L577.0,1000.3 L578.0,999.4 L579.0,998.4 L580.0,997.5 L581.0,996.6 L582.0,995.8 L583.0,994.9 L584.0,994.1 L585.0,993.3 L586.0,992.6 L587.0,991.9 L588.0,991.2 L589.0,990.6 L590.0,990.1 L591.0,989.5 L592.0,989.0 L593.0,988.6 L594.0,988.1 L595.0,987.6 L596.0,987.2 L597.0,986.8 L598.0,986.4 L599.0,986.0 L600.0,985.6 L601.0,985.2 L602.0,984.9 L603.0,984.6 L604.0,984.3 L605.0,984.1 L606.0,983.9 L607.0,983.7 L608.0,983.6 L609.0,983.6 L610.0,983.6 L611.0,983.6 L612.0,983.7 L613.0,983.9 L614.0,984.1 L615.0,984.3 L616.0,984.6 L617.0,984.9 L618.0,985.2 L619.0,985.6 L620.0,986.0 L621.0,986.3 L622.0,986.8 L623.0,987.2 L624.0,987.6 L625.0,988.1 L626.0,988.5 L627.0,989.0 L628.0,989.5 L629.0,990.0 L630.0,990.5 L631.0,991.1 L632.0,991.6 L633.0,992.3 L634.0,992.9 L635.0,993.6 L636.0,994.3 L637.0,995.0 L638.0,995.8 L639.0,996.5 L640.0,997.4 L641.0,998.2 L642.0,999.1 L643.0,1000.0 L644.0,1001.0 L645.0,1002.0 L646.0,1003.0 L647.0,1004.2 L648.0,1005.4 L649.0,1006.6 L650.0,1007.9 L651.0,1009.2 L652.0,1010.6 L653.0,1012.1 L654.0,1013.6 L655.0,1015.1 L656.0,1016.7 L657.0,1018.4 L658.0,1020.2 L659.0,1022.0 L660.0,1024.0 L661.0,1026.0 L662.0,1028.2 L663.0,1030.7 L664.0,1033.4 L665.0,1036.0 L666.0,1038.6 L667.0,1041.2 L668.0,1043.7 L669.0,1046.3 L670.0,1048.8 L671.0,1051.4 L672.0,1054.0 L673.0,1056.5 L674.0,1059.1 L675.0,1061.8 L676.0,1064.4 L677.0,1067.1 L678.0,1069.8 L679.0,1072.5 L680.0,1075.2 L681.0,1078.0 L682.0,1080.7 L683.0,1083.5 L684.0,1086.3 L685.0,1089.1 L686.0,1091.9 L687.0,1094.8 L688.0,1097.7 L689.0,1100.6 L690.0,1103.5 L691.0,1106.4 L692.0,1109.4 L693.0,1112.4 L694.0,1115.5 L695.0,1118.5 L696.0,1121.6 L697.0,1124.7 L698.0,1127.7 L699.0,1130.8 L700.0,1133.9 L701.0,1136.9 L702.0,1139.9 L703.0,1143.0 L704.0,1146.0 L705.0,1149.0 L706.0,1152.0 L707.0,1155.0 L708.0,1158.0 L709.0,1161.1 L710.0,1164.1 L711.0,1167.1 L712.0,1170.2 L713.0,1173.2 L714.0,1176.3 L715.0,1179.4 L716.0,1182.5 L717.0,1185.6 L718.0,1188.7 L719.0,1191.7 L720.0,1194.8 L721.0,1197.8 L722.0,1200.8 L723.0,1203.8 L724.0,1206.8 L725.0,1209.8 L726.0,1212.8 L727.0,1215.8 L728.0,1218.8 L729.0,1221.8 L730.0,1224.8 L731.0,1227.8 L732.0,1230.8 L733.0,1233.8 L734.0,1236.8 L735.0,1239.8 L736.0,1242.9 L737.0,1245.9 L738.0,1248.9 L739.0,1252.0 L740.0,1255.0 L741.0,1258.1 L742.0,1261.1 L743.0,1264.2 L744.0,1267.2 L745.0,1270.3 L746.0,1273.3 L747.0,1276.4 L748.0,1279.4 L749.0,1282.5 L750.0,1285.5 L751.0,1288.6 L752.0,1291.6 L753.0,1294.7 L754.0,1297.7 L755.0,1300.8 L756.0,1303.8 L757.0,1306.9 L758.0,1309.9 L759.0,1313.0 L760.0,1316.1 L761.0,1319.2 L762.0,1322.3 L763.0,1325.5 L764.0,1328.6 L765.0,1331.6 L766.0,1334.6 L767.0,1337.5 L768.0,1340.3 L769.0,1343.1 L770.0,1345.8 L771.0,1348.4 L772.0,1351.1 L773.0,1353.7 L774.0,1356.2 L775.0,1358.7 L776.0,1361.0 L777.0,1363.3 L778.0,1365.5 L779.0,1367.7 L780.0,1369.7 L781.0,1371.7 L782.0,1373.6 L783.0,1375.5 L784.0,1377.3 L785.0,1379.0 L786.0,1380.7 L787.0,1382.3 L788.0,1383.8 L789.0,1385.2 L790.0,1386.5 L791.0,1387.8 L792.0,1389.0 L793.0,1390.1 L794.0,1391.2 L795.0,1392.2 L796.0,1393.2 L797.0,1394.1 L798.0,1395.0 L799.0,1395.8 L800.0,1396.5 L801.0,1397.2 L802.0,1397.8 L803.0,1398.3 L804.0,1398.8 L805.0,1399.2 L806.0,1399.7 L807.0,1400.1 L808.0,1400.4 L809.0,1400.8 L810.0,1401.1 L811.0,1401.4 L812.0,1401.7 L813.0,1401.9 L814.0,1402.1 L815.0,1402.4 L816.0,1402.6 L817.0,1402.8 L818.0,1403.0 L819.0,1403.2 L820.0,1403.4 L821.0,1403.5 L822.0,1403.7 L823.0,1403.9 L824.0,1404.0 L825.0,1404.1 L826.0,1404.2 L827.0,1404.3 L828.0,1404.4 L829.0,1404.5 L830.0,1404.5 L831.0,1404.5 L832.0,1404.6 L833.0,1404.6 L834.0,1404.6 L835.0,1404.7 L836.0,1404.7 L837.0,1404.7 L838.0,1404.7 L839.0,1404.8 L840.0,1404.8 L850.0,1405.0 L860.0,1405.2 L870.0,1405.4 L880.0,1405.5 L890.0,1405.6 L900.0,1405.7 L910.0,1405.8 L920.0,1405.9 L930.0,1406.0 L940.0,1406.0 L950.0,1406.1 L960.0,1406.2 L970.0,1406.2 L980.0,1406.3 L990.0,1406.4 L1000.0,1406.5 L1010.0,1406.6 L1020.0,1406.7 L1030.0,1406.8 L1040.0,1406.9 L1050.0,1407.0 L1060.0,1407.1 L1070.0,1407.2 L1080.0,1407.3 L1090.0,1407.4 L1100.0,1407.5 L1110.0,1407.6 L1120.0,1407.7 L1130.0,1407.8 L1140.0,1407.9 L1150.0,1408.0 L1160.0,1408.1 L1170.0,1408.1 L1180.0,1408.2 L1190.0,1408.3 L1200.0,1408.4 L1210.0,1408.5 L1220.0,1408.6 L1230.0,1408.7 L1240.0,1408.7 L1250.0,1408.8 L1260.0,1408.9 L1270.0,1408.9 L1280.0,1409.0 L1290.0,1409.0 L1300.0,1409.0 L1310.0,1409.1 L1320.0,1409.1 L1330.0,1409.1 L1340.0,1409.2 L1350.0,1409.2 L1360.0,1409.3 L1370.0,1409.3 L1380.0,1409.3 L1390.0,1409.3 L1400.0,1409.4 L1410.0,1409.4 L1420.0,1409.4 L1430.0,1409.5 L1440.0,1409.5 L1450.0,1409.5 L1460.0,1409.5 L1470.0,1409.5 L1480.0,1409.6 L1490.0,1409.6 L1500.0,1409.6 L1510.0,1409.6 L1520.0,1409.6 L1530.0,1409.6 L1539.5,1409.6"/>
<path stroke="#37AD6B" d="M337.2,71.5 L337.5,72.4 L337.8,78.2 L338.0,86.5 L338.2,94.8 L338.5,103.0 L338.8,111.3 L339.0,119.5 L339.2,127.8 L339.5,136.0 L339.8,144.3 L340.0,152.5 L340.2,160.7 L340.5,169.0 L340.8,177.2 L341.0,185.4 L341.2,193.7 L341.5,201.9 L341.8,210.1 L342.0,218.3 L342.2,226.5 L342.5,234.7 L342.8,242.9 L343.0,251.1 L343.2,259.3 L343.5,267.5 L343.8,275.7 L344.0,283.9 L344.2,292.1 L344.5,300.3 L344.8,308.5 L345.0,316.9 L345.2,325.4 L345.5,334.1 L345.8,342.8 L346.0,351.5 L346.2,360.3 L346.5,369.2 L346.8,378.0 L347.0,386.7 L347.2,395.5 L347.5,404.1 L347.8,412.6 L348.0,421.0 L348.2,429.3 L348.5,437.4 L348.8,445.3 L349.0,453.1 L349.2,460.7 L349.5,468.2 L349.8,475.4 L350.0,482.5 L350.2,489.5 L350.5,496.2 L350.8,502.8 L351.0,509.1 L351.2,515.3 L351.5,521.4 L351.8,527.2 L352.0,533.0 L352.2,538.6 L352.5,544.1 L352.8,549.5 L353.0,554.8 L353.2,560.1 L353.5,565.3 L353.8,570.4 L354.0,575.4 L354.2,580.4 L354.5,585.4 L354.8,590.3 L355.0,595.2 L355.2,600.0 L355.5,604.8 L355.8,609.6 L356.0,614.3 L356.2,619.0 L356.5,623.7 L356.8,628.4 L357.0,633.1 L357.2,637.7 L357.5,642.4 L357.8,647.0 L358.0,651.7 L358.2,656.3 L358.5,660.9 L358.8,665.6 L359.0,670.2 L359.2,674.9 L359.5,679.5 L359.8,684.2 L360.0,688.9 L360.2,693.6 L360.5,698.4 L360.8,703.1 L361.0,707.9 L361.2,712.7 L361.5,717.6 L361.8,722.5 L362.0,727.4 L362.2,732.3 L362.5,737.2 L362.8,742.2 L363.0,747.1 L363.2,752.1 L363.5,757.1 L363.8,762.0 L364.0,767.0 L364.2,772.0 L364.5,776.9 L364.8,781.8 L365.0,786.7 L365.2,791.6 L365.5,796.5 L365.8,801.3 L366.0,806.1 L366.2,810.9 L366.5,815.6 L366.8,820.3 L367.0,824.9 L367.2,829.5 L367.5,834.1 L367.8,838.6 L368.0,843.1 L368.2,847.5 L368.5,851.8 L368.8,856.2 L369.0,860.4 L369.2,864.6 L369.5,868.8 L369.8,872.9 L370.0,877.0 L370.2,881.0 L370.5,884.9 L370.8,888.8 L371.0,892.7 L371.2,896.5 L371.5,900.3 L371.8,904.0 L372.0,907.6 L372.2,911.3 L372.5,914.8 L372.8,918.3 L373.0,921.8 L373.2,925.2 L373.5,928.6 L373.8,931.9 L374.0,935.1 L374.2,938.3 L374.5,941.4 L374.8,944.5 L375.0,947.5 L375.2,950.4 L375.5,953.3 L375.8,956.2 L376.0,959.1 L376.2,961.9 L376.5,964.6 L376.8,967.4 L377.0,970.1 L377.2,972.7 L377.5,975.4 L377.8,978.0 L378.0,980.6 L378.2,983.1 L378.5,985.7 L378.8,988.2 L379.0,990.7 L379.2,993.1 L379.5,995.6 L379.8,998.0 L380.0,1000.4 L380.2,1002.8 L380.5,1005.2 L380.8,1007.5 L381.0,1009.8 L381.2,1012.1 L381.5,1014.4 L381.8,1016.7 L382.0,1018.9 L382.2,1021.1 L382.5,1023.3 L382.8,1025.5 L383.0,1027.7 L383.2,1029.9 L383.5,1032.0 L383.8,1034.2 L384.0,1036.3 L384.2,1038.4 L384.5,1040.5 L384.8,1042.5 L385.0,1044.6 L385.2,1046.6 L385.5,1048.6 L385.8,1050.6 L386.0,1052.6 L386.2,1054.6 L386.5,1056.5 L386.8,1058.4 L387.0,1060.3 L387.2,1062.2 L387.5,1064.1 L387.8,1066.0 L388.0,1067.8 L388.2,1069.7 L388.5,1071.5 L388.8,1073.3 L389.0,1075.0 L389.2,1076.8 L389.5,1078.5 L389.8,1080.2 L390.0,1081.9 L390.2,1083.6 L390.5,1085.2 L390.8,1086.9 L391.0,1088.5 L391.2,1090.1 L391.5,1091.7 L391.8,1093.3 L392.0,1094.8 L392.2,1096.4 L392.5,1098.0 L392.8,1099.6 L393.0,1101.1 L393.2,1102.7 L393.5,1104.2 L393.8,1105.8 L394.0,1107.3 L394.2,1108.9 L394.5,1110.4 L394.8,1111.9 L395.0,1113.3 L395.2,1114.6 L395.5,1115.9 L395.8,1117.2 L396.0,1118.5 L396.2,1119.7 L396.5,1120.9 L396.8,1122.2 L397.0,1123.4 L397.2,1124.7 L397.5,1125.9 L397.8,1127.2 L398.0,1128.5 L398.2,1129.9 L398.5,1131.2 L398.8,1132.5 L399.0,1133.8 L399.2,1135.1 L399.5,1136.5 L399.8,1137.8 L400.0,1139.1 L400.2,1140.4 L400.5,1141.6 L400.8,1142.9 L401.0,1144.1 L401.2,1145.4 L401.5,1146.6 L401.8,1147.8 L402.0,1148.9 L402.2,1150.1 L402.5,1151.2 L402.8,1152.4 L403.0,1153.5 L403.2,1154.6 L403.5,1155.7 L403.8,1156.9 L404.0,1157.9 L404.2,1159.0 L404.5,1160.1 L404.8,1161.2 L405.0,1162.2 L405.2,1163.2 L405.5,1164.2 L405.8,1165.2 L406.0,1166.2 L406.2,1167.2 L406.5,1168.1 L406.8,1169.1 L407.0,1170.0 L407.2,1170.9 L407.5,1171.7 L407.8,1172.6 L408.0,1173.5 L408.2,1174.3 L408.5,1175.1 L408.8,1175.9 L409.0,1176.7 L409.2,1177.4 L409.5,1178.2 L409.8,1178.9 L410.0,1179.6 L410.2,1180.4 L410.5,1181.1 L410.8,1181.7 L411.0,1182.4 L411.2,1183.1 L411.5,1183.8 L411.8,1184.4 L412.0,1185.1 L412.2,1185.7 L412.5,1186.3 L412.8,1187.0 L413.0,1187.6 L413.2,1188.2 L413.5,1188.8 L413.8,1189.4 L414.0,1190.0 L414.2,1190.6 L414.5,1191.1 L414.8,1191.7 L415.0,1192.3 L415.2,1192.8 L415.5,1193.4 L415.8,1194.0 L416.0,1194.5 L416.2,1195.0 L416.5,1195.6 L416.8,1196.1 L417.0,1196.6 L417.2,1197.1 L417.5,1197.6 L417.8,1198.1 L418.0,1198.6 L418.2,1199.1 L418.5,1199.5 L418.8,1200.0 L419.0,1200.5 L419.2,1200.9 L419.5,1201.4 L419.8,1201.8 L420.0,1202.2 L421.0,1203.9 L422.0,1205.4 L423.0,1206.9 L424.0,1208.4 L425.0,1209.8 L426.0,1211.0 L427.0,1212.1 L428.0,1213.0 L429.0,1213.8 L430.0,1214.5 L431.0,1215.0 L432.0,1215.5 L433.0,1215.8 L434.0,1216.0 L435.0,1216.1 L436.0,1216.1 L437.0,1216.0 L438.0,1215.8 L439.0,1215.7 L440.0,1215.5 L441.0,1215.3 L442.0,1215.2 L443.0,1214.9 L444.0,1214.7 L445.0,1214.3 L446.0,1213.8 L447.0,1213.3 L448.0,1212.6 L449.0,1211.8 L450.0,1210.8 L451.0,1209.8 L452.0,1208.8 L453.0,1207.7 L454.0,1206.7 L455.0,1205.7 L456.0,1204.7 L457.0,1203.8 L458.0,1202.8 L459.0,1201.7 L460.0,1200.7 L461.0,1199.6 L462.0,1198.5 L463.0,1197.4 L464.0,1196.2 L465.0,1194.9 L466.0,1193.7 L467.0,1192.4 L468.0,1191.0 L469.0,1189.7 L470.0,1188.4 L471.0,1187.0 L472.0,1185.6 L473.0,1184.3 L474.0,1182.8 L475.0,1181.4 L476.0,1180.0 L477.0,1178.5 L478.0,1177.1 L479.0,1175.6 L480.0,1174.1 L481.0,1172.7 L482.0,1171.2 L483.0,1169.8 L484.0,1168.4 L485.0,1166.9 L486.0,1165.5 L487.0,1164.0 L488.0,1162.6 L489.0,1161.1 L490.0,1159.7 L491.0,1158.2 L492.0,1156.7 L493.0,1155.2 L494.0,1153.7 L495.0,1152.1 L496.0,1150.6 L497.0,1149.0 L498.0,1147.5 L499.0,1145.9 L500.0,1144.2 L501.0,1142.6 L502.0,1140.9 L503.0,1139.2 L504.0,1137.5 L505.0,1135.8 L506.0,1134.1 L507.0,1132.4 L508.0,1130.7 L509.0,1129.0 L510.0,1127.2 L511.0,1125.5 L512.0,1123.7 L513.0,1122.0 L514.0,1120.3 L515.0,1118.5 L516.0,1116.8 L517.0,1115.0 L518.0,1113.3 L519.0,1111.5 L520.0,1109.7 L521.0,1107.9 L522.0,1106.1 L523.0,1104.3 L524.0,1102.4 L525.0,1100.6 L526.0,1098.8 L527.0,1096.9 L528.0,1095.1 L529.0,1093.3 L530.0,1091.5 L531.0,1089.7 L532.0,1088.0 L533.0,1086.2 L534.0,1084.5 L535.0,1082.8 L536.0,1081.2 L537.0,1079.5 L538.0,1077.8 L539.0,1076.2 L540.0,1074.6 L541.0,1073.0 L542.0,1071.4 L543.0,1069.8 L544.0,1068.2 L545.0,1066.7 L546.0,1065.2 L547.0,1063.7 L548.0,1062.3 L549.0,1060.8 L550.0,1059.4 L551.0,1058.0 L552.0,1056.7 L553.0,1055.4 L554.0,1054.1 L555.0,1052.8 L556.0,1051.5 L557.0,1050.3 L558.0,1049.1 L559.0,1047.9 L560.0,1046.7 L561.0,1045.6 L562.0,1044.4 L563.0,1043.3 L564.0,1042.2 L565.0,1041.1 L566.0,1040.1 L567.0,1039.1 L568.0,1038.0 L569.0,1037.1 L570.0,1036.1 L571.0,1035.2 L572.0,1034.2 L573.0,1033.3 L574.0,1032.4 L575.0,1031.6 L576.0,1030.7 L577.0,1029.8 L578.0,1028.9 L579.0,1028.1 L580.0,1027.2 L581.0,1026.4 L582.0,1025.6 L583.0,1024.9 L584.0,1024.1 L585.0,1023.4 L586.0,1022.7 L587.0,1022.1 L588.0,1021.5 L589.0,1020.9 L590.0,1020.4 L591.0,1019.9 L592.0,1019.5 L593.0,1019.0 L594.0,1018.6 L595.0,1018.2 L596.0,1017.8 L597.0,1017.4 L598.0,1017.0 L599.0,1016.7 L600.0,1016.3 L601.0,1016.0 L602.0,1015.7 L603.0,1015.5 L604.0,1015.2 L605.0,1015.0 L606.0,1014.8 L607.0,1014.7 L608.0,1014.6 L609.0,1014.6 L610.0,1014.6 L611.0,1014.6 L612.0,1014.7 L613.0,1014.8 L614.0,1015.0 L615.0,1015.2 L616.0,1015.5 L617.0,1015.8 L618.0,1016.1 L619.0,1016.4 L620.0,1016.7 L621.0,1017.1 L622.0,1017.5 L623.0,1017.9 L624.0,1018.3 L625.0,1018.7 L626.0,1019.1 L627.0,1019.6 L628.0,1020.0 L629.0,1020.5 L630.0,1021.0 L631.0,1021.6 L632.0,1022.1 L633.0,1022.7 L634.0,1023.3 L635.0,1024.0 L636.0,1024.6 L637.0,1025.3 L638.0,1026.0 L639.0,1026.8 L640.0,1027.5 L641.0,1028.3 L642.0,1029.2 L643.0,1030.0 L644.0,1030.9 L645.0,1031.9 L646.0,1032.9 L647.0,1033.9 L648.0,1035.1 L649.0,1036.2 L650.0,1037.4 L651.0,1038.7 L652.0,1040.0 L653.0,1041.3 L654.0,1042.7 L655.0,1044.1 L656.0,1045.6 L657.0,1047.2 L658.0,1048.8 L659.0,1050.5 L660.0,1052.3 L661.0,1054.2 L662.0,1056.3 L663.0,1058.5 L664.0,1061.0 L665.0,1063.4 L666.0,1065.8 L667.0,1068.1 L668.0,1070.5 L669.0,1072.8 L670.0,1075.2 L671.0,1077.6 L672.0,1080.0 L673.0,1082.3 L674.0,1084.8 L675.0,1087.2 L676.0,1089.6 L677.0,1092.1 L678.0,1094.6 L679.0,1097.2 L680.0,1099.7 L681.0,1102.3 L682.0,1104.9 L683.0,1107.5 L684.0,1110.1 L685.0,1112.7 L686.0,1115.3 L687.0,1118.0 L688.0,1120.7 L689.0,1123.4 L690.0,1126.1 L691.0,1128.8 L692.0,1131.6 L693.0,1134.4 L694.0,1137.2 L695.0,1140.1 L696.0,1142.9 L697.0,1145.8 L698.0,1148.6 L699.0,1151.4 L700.0,1154.3 L701.0,1157.1 L702.0,1159.9 L703.0,1162.7 L704.0,1165.5 L705.0,1168.2 L706.0,1171.0 L707.0,1173.8 L708.0,1176.6 L709.0,1179.4 L710.0,1182.2 L711.0,1185.1 L712.0,1187.9 L713.0,1190.7 L714.0,1193.6 L715.0,1196.5 L716.0,1199.4 L717.0,1202.3 L718.0,1205.1 L719.0,1208.0 L720.0,1210.8 L721.0,1213.6 L722.0,1216.4 L723.0,1219.2 L724.0,1222.0 L725.0,1224.8 L726.0,1227.6 L727.0,1230.4 L728.0,1233.2 L729.0,1235.9 L730.0,1238.7 L731.0,1241.5 L732.0,1244.3 L733.0,1247.1 L734.0,1249.8 L735.0,1252.6 L736.0,1255.4 L737.0,1258.2 L738.0,1261.0 L739.0,1263.8 L740.0,1266.6 L741.0,1269.4 L742.0,1272.3 L743.0,1275.1 L744.0,1277.9 L745.0,1280.7 L746.0,1283.6 L747.0,1286.4 L748.0,1289.2 L749.0,1292.1 L750.0,1294.9 L751.0,1297.7 L752.0,1300.6 L753.0,1303.4 L754.0,1306.2 L755.0,1309.1 L756.0,1311.9 L757.0,1314.7 L758.0,1317.5 L759.0,1320.4 L760.0,1323.3 L761.0,1326.2 L762.0,1329.1 L763.0,1332.0 L764.0,1334.8 L765.0,1337.6 L766.0,1340.4 L767.0,1343.1 L768.0,1345.7 L769.0,1348.2 L770.0,1350.7 L771.0,1353.2 L772.0,1355.7 L773.0,1358.1 L774.0,1360.4 L775.0,1362.7 L776.0,1364.9 L777.0,1367.0 L778.0,1369.0 L779.0,1371.0 L780.0,1372.8 L781.0,1374.6 L782.0,1376.4 L783.0,1378.1 L784.0,1379.8 L785.0,1381.4 L786.0,1382.9 L787.0,1384.3 L788.0,1385.7 L789.0,1387.0 L790.0,1388.2 L791.0,1389.4 L792.0,1390.4 L793.0,1391.5 L794.0,1392.4 L795.0,1393.4 L796.0,1394.3 L797.0,1395.1 L798.0,1395.9 L799.0,1396.6 L800.0,1397.3 L801.0,1397.9 L802.0,1398.4 L803.0,1398.9 L804.0,1399.3 L805.0,1399.7 L806.0,1400.1 L807.0,1400.5 L808.0,1400.8 L809.0,1401.1 L810.0,1401.4 L811.0,1401.7 L812.0,1401.9 L813.0,1402.2 L814.0,1402.4 L815.0,1402.6 L816.0,1402.8 L817.0,1403.0 L818.0,1403.1 L819.0,1403.3 L820.0,1403.5 L821.0,1403.6 L822.0,1403.8 L823.0,1403.9 L824.0,1404.0 L825.0,1404.2 L826.0,1404.3 L827.0,1404.4 L828.0,1404.4 L829.0,1404.5 L830.0,1404.5 L831.0,1404.5 L832.0,1404.6 L833.0,1404.6 L834.0,1404.6 L835.0,1404.7 L836.0,1404.7 L837.0,1404.7 L838.0,1404.7 L839.0,1404.8 L840.0,1404.8 L850.0,1405.0 L860.0,1405.2 L870.0,1405.4 L880.0,1405.5 L890.0,1405.6 L900.0,1405.7 L910.0,1405.8 L920.0,1405.9 L930.0,1406.0 L940.0,1406.0 L950.0,1406.1 L960.0,1406.2 L970.0,1406.2 L980.0,1406.3 L990.0,1406.4 L1000.0,1406.5 L1010.0,1406.6 L1020.0,1406.7 L1030.0,1406.8 L1040.0,1406.9 L1050.0,1407.0 L1060.0,1407.1 L1070.0,1407.2 L1080.0,1407.3 L1090.0,1407.4 L1100.0,1407.5 L1110.0,1407.6 L1120.0,1407.7 L1130.0,1407.8 L1140.0,1407.9 L1150.0,1408.0 L1160.0,1408.1 L1170.0,1408.1 L1180.0,1408.2 L1190.0,1408.3 L1200.0,1408.4 L1210.0,1408.5 L1220.0,1408.6 L1230.0,1408.7 L1240.0,1408.7 L1250.0,1408.8 L1260.0,1408.9 L1270.0,1408.9 L1280.0,1409.0 L1290.0,1409.0 L1300.0,1409.0 L1310.0,1409.1 L1320.0,1409.1 L1330.0,1409.1 L1340.0,1409.2 L1350.0,1409.2 L1360.0,1409.3 L1370.0,1409.3 L1380.0,1409.3 L1390.0,1409.3 L1400.0,1409.4 L1410.0,1409.4 L1420.0,1409.4 L1430.0,1409.5 L1440.0,1409.5 L1450.0,1409.5 L1460.0,1409.5 L1470.0,1409.5 L1480.0,1409.6 L1490.0,1409.6 L1500.0,1409.6 L1510.0,1409.6 L1520.0,1409.6 L1530.0,1409.6 L1539.5,1409.6"/>
<path stroke="#B177DE" d="M337.2,71.5 L337.5,72.7 L337.8,78.9 L338.0,87.1 L338.2,95.4 L338.5,103.7 L338.8,112.0 L339.0,120.3 L339.2,128.5 L339.5,136.8 L339.8,145.1 L340.0,153.3 L340.2,161.6 L340.5,169.8 L340.8,178.1 L341.0,186.3 L341.2,194.6 L341.5,202.8 L341.8,211.0 L342.0,219.3 L342.2,227.5 L342.5,235.7 L342.8,244.0 L343.0,252.2 L343.2,260.4 L343.5,268.6 L343.8,276.8 L344.0,285.0 L344.2,293.2 L344.5,301.5 L344.8,309.8 L345.0,318.2 L345.2,326.8 L345.5,335.5 L345.8,344.2 L346.0,353.0 L346.2,361.8 L346.5,370.7 L346.8,379.5 L347.0,388.3 L347.2,397.0 L347.5,405.7 L347.8,414.2 L348.0,422.6 L348.2,430.8 L348.5,438.9 L348.8,446.9 L349.0,454.7 L349.2,462.3 L349.5,469.7 L349.8,476.9 L350.0,484.0 L350.2,490.9 L350.5,497.6 L350.8,504.2 L351.0,510.5 L351.2,516.7 L351.5,522.7 L351.8,528.5 L352.0,534.3 L352.2,539.9 L352.5,545.4 L352.8,550.8 L353.0,556.1 L353.2,561.3 L353.5,566.5 L353.8,571.6 L354.0,576.7 L354.2,581.6 L354.5,586.6 L354.8,591.5 L355.0,596.4 L355.2,601.2 L355.5,606.0 L355.8,610.8 L356.0,615.5 L356.2,620.2 L356.5,624.9 L356.8,629.6 L357.0,634.3 L357.2,639.0 L357.5,643.6 L357.8,648.3 L358.0,652.9 L358.2,657.6 L358.5,662.2 L358.8,666.9 L359.0,671.5 L359.2,676.2 L359.5,680.9 L359.8,685.6 L360.0,690.3 L360.2,695.0 L360.5,699.8 L360.8,704.5 L361.0,709.3 L361.2,714.2 L361.5,719.0 L361.8,723.9 L362.0,728.8 L362.2,733.8 L362.5,738.7 L362.8,743.6 L363.0,748.6 L363.2,753.6 L363.5,758.6 L363.8,763.5 L364.0,768.5 L364.2,773.4 L364.5,778.4 L364.8,783.3 L365.0,788.2 L365.2,793.1 L365.5,797.9 L365.8,802.8 L366.0,807.5 L366.2,812.3 L366.5,817.0 L366.8,821.7 L367.0,826.3 L367.2,830.9 L367.5,835.5 L367.8,840.0 L368.0,844.5 L368.2,848.9 L368.5,853.2 L368.8,857.6 L369.0,861.8 L369.2,866.0 L369.5,870.2 L369.8,874.3 L370.0,878.4 L370.2,882.4 L370.5,886.4 L370.8,890.3 L371.0,894.2 L371.2,898.0 L371.5,901.7 L371.8,905.5 L372.0,909.2 L372.2,912.8 L372.5,916.4 L372.8,919.9 L373.0,923.4 L373.2,926.8 L373.5,930.2 L373.8,933.5 L374.0,936.8 L374.2,939.9 L374.5,943.1 L374.8,946.2 L375.0,949.2 L375.2,952.2 L375.5,955.1 L375.8,958.1 L376.0,960.9 L376.2,963.8 L376.5,966.6 L376.8,969.3 L377.0,972.1 L377.2,974.8 L377.5,977.4 L377.8,980.1 L378.0,982.7 L378.2,985.3 L378.5,987.9 L378.8,990.4 L379.0,992.9 L379.2,995.4 L379.5,997.9 L379.8,1000.4 L380.0,1002.8 L380.2,1005.2 L380.5,1007.6 L380.8,1010.0 L381.0,1012.3 L381.2,1014.6 L381.5,1016.9 L381.8,1019.2 L382.0,1021.5 L382.2,1023.7 L382.5,1026.0 L382.8,1028.2 L383.0,1030.4 L383.2,1032.5 L383.5,1034.7 L383.8,1036.8 L384.0,1039.0 L384.2,1041.1 L384.5,1043.2 L384.8,1045.3 L385.0,1047.3 L385.2,1049.4 L385.5,1051.4 L385.8,1053.4 L386.0,1055.4 L386.2,1057.4 L386.5,1059.3 L386.8,1061.3 L387.0,1063.2 L387.2,1065.1 L387.5,1067.0 L387.8,1068.9 L388.0,1070.7 L388.2,1072.6 L388.5,1074.4 L388.8,1076.2 L389.0,1078.0 L389.2,1079.8 L389.5,1081.6 L389.8,1083.3 L390.0,1085.0 L390.2,1086.7 L390.5,1088.3 L390.8,1090.0 L391.0,1091.6 L391.2,1093.2 L391.5,1094.8 L391.8,1096.4 L392.0,1098.0 L392.2,1099.6 L392.5,1101.2 L392.8,1102.8 L393.0,1104.4 L393.2,1106.0 L393.5,1107.6 L393.8,1109.2 L394.0,1110.8 L394.2,1112.4 L394.5,1113.9 L394.8,1115.5 L395.0,1116.9 L395.2,1118.3 L395.5,1119.7 L395.8,1121.0 L396.0,1122.3 L396.2,1123.6 L396.5,1124.9 L396.8,1126.2 L397.0,1127.4 L397.2,1128.7 L397.5,1130.0 L397.8,1131.4 L398.0,1132.7 L398.2,1134.0 L398.5,1135.3 L398.8,1136.6 L399.0,1138.0 L399.2,1139.3 L399.5,1140.6 L399.8,1141.9 L400.0,1143.2 L400.2,1144.5 L400.5,1145.7 L400.8,1147.0 L401.0,1148.2 L401.2,1149.5 L401.5,1150.7 L401.8,1151.9 L402.0,1153.0 L402.2,1154.2 L402.5,1155.3 L402.8,1156.4 L403.0,1157.6 L403.2,1158.7 L403.5,1159.8 L403.8,1160.9 L404.0,1162.0 L404.2,1163.1 L404.5,1164.2 L404.8,1165.2 L405.0,1166.3 L405.2,1167.3 L405.5,1168.3 L405.8,1169.3 L406.0,1170.3 L406.2,1171.3 L406.5,1172.2 L406.8,1173.1 L407.0,1174.1 L407.2,1175.0 L407.5,1175.9 L407.8,1176.7 L408.0,1177.6 L408.2,1178.4 L408.5,1179.3 L408.8,1180.1 L409.0,1180.9 L409.2,1181.6 L409.5,1182.4 L409.8,1183.1 L410.0,1183.9 L410.2,1184.6 L410.5,1185.3 L410.8,1186.0 L411.0,1186.8 L411.2,1187.4 L411.5,1188.1 L411.8,1188.8 L412.0,1189.5 L412.2,1190.1 L412.5,1190.8 L412.8,1191.4 L413.0,1192.1 L413.2,1192.7 L413.5,1193.3 L413.8,1194.0 L414.0,1194.6 L414.2,1195.2 L414.5,1195.8 L414.8,1196.4 L415.0,1196.9 L415.2,1197.5 L415.5,1198.1 L415.8,1198.7 L416.0,1199.2 L416.2,1199.8 L416.5,1200.3 L416.8,1200.9 L417.0,1201.4 L417.2,1201.9 L417.5,1202.4 L417.8,1202.9 L418.0,1203.4 L418.2,1203.9 L418.5,1204.4 L418.8,1204.9 L419.0,1205.4 L419.2,1205.8 L419.5,1206.3 L419.8,1206.7 L420.0,1207.2 L421.0,1208.9 L422.0,1210.5 L423.0,1212.0 L424.0,1213.5 L425.0,1214.9 L426.0,1216.3 L427.0,1217.5 L428.0,1218.5 L429.0,1219.3 L430.0,1220.1 L431.0,1220.7 L432.0,1221.3 L433.0,1221.7 L434.0,1221.9 L435.0,1222.1 L436.0,1222.1 L437.0,1222.1 L438.0,1222.1 L439.0,1222.0 L440.0,1221.9 L441.0,1221.8 L442.0,1221.8 L443.0,1221.6 L444.0,1221.5 L445.0,1221.2 L446.0,1220.9 L447.0,1220.4 L448.0,1219.8 L449.0,1219.1 L450.0,1218.3 L451.0,1217.5 L452.0,1216.6 L453.0,1215.7 L454.0,1214.9 L455.0,1214.0 L456.0,1213.2 L457.0,1212.4 L458.0,1211.6 L459.0,1210.7 L460.0,1209.8 L461.0,1208.9 L462.0,1208.0 L463.0,1207.0 L464.0,1206.0 L465.0,1204.9 L466.0,1203.8 L467.0,1202.7 L468.0,1201.6 L469.0,1200.5 L470.0,1199.3 L471.0,1198.1 L472.0,1197.0 L473.0,1195.7 L474.0,1194.5 L475.0,1193.2 L476.0,1192.0 L477.0,1190.7 L478.0,1189.4 L479.0,1188.1 L480.0,1186.8 L481.0,1185.5 L482.0,1184.2 L483.0,1182.9 L484.0,1181.6 L485.0,1180.3 L486.0,1179.0 L487.0,1177.7 L488.0,1176.4 L489.0,1175.0 L490.0,1173.7 L491.0,1172.3 L492.0,1171.0 L493.0,1169.6 L494.0,1168.2 L495.0,1166.8 L496.0,1165.4 L497.0,1164.0 L498.0,1162.5 L499.0,1161.0 L500.0,1159.5 L501.0,1158.0 L502.0,1156.5 L503.0,1154.9 L504.0,1153.3 L505.0,1151.8 L506.0,1150.2 L507.0,1148.6 L508.0,1147.0 L509.0,1145.4 L510.0,1143.8 L511.0,1142.2 L512.0,1140.6 L513.0,1139.0 L514.0,1137.4 L515.0,1135.8 L516.0,1134.2 L517.0,1132.6 L518.0,1131.0 L519.0,1129.4 L520.0,1127.8 L521.0,1126.1 L522.0,1124.4 L523.0,1122.8 L524.0,1121.1 L525.0,1119.4 L526.0,1117.7 L527.0,1116.0 L528.0,1114.4 L529.0,1112.7 L530.0,1111.0 L531.0,1109.4 L532.0,1107.8 L533.0,1106.2 L534.0,1104.6 L535.0,1103.0 L536.0,1101.5 L537.0,1099.9 L538.0,1098.4 L539.0,1096.9 L540.0,1095.4 L541.0,1093.9 L542.0,1092.4 L543.0,1090.9 L544.0,1089.5 L545.0,1088.0 L546.0,1086.6 L547.0,1085.3 L548.0,1083.9 L549.0,1082.6 L550.0,1081.3 L551.0,1080.0 L552.0,1078.7 L553.0,1077.5 L554.0,1076.3 L555.0,1075.1 L556.0,1073.9 L557.0,1072.8 L558.0,1071.6 L559.0,1070.5 L560.0,1069.4 L561.0,1068.3 L562.0,1067.3 L563.0,1066.2 L564.0,1065.2 L565.0,1064.2 L566.0,1063.2 L567.0,1062.3 L568.0,1061.3 L569.0,1060.4 L570.0,1059.5 L571.0,1058.6 L572.0,1057.8 L573.0,1056.9 L574.0,1056.1 L575.0,1055.3 L576.0,1054.5 L577.0,1053.6 L578.0,1052.8 L579.0,1052.1 L580.0,1051.3 L581.0,1050.5 L582.0,1049.8 L583.0,1049.1 L584.0,1048.4 L585.0,1047.8 L586.0,1047.1 L587.0,1046.5 L588.0,1046.0 L589.0,1045.4 L590.0,1045.0 L591.0,1044.5 L592.0,1044.1 L593.0,1043.7 L594.0,1043.3 L595.0,1042.9 L596.0,1042.6 L597.0,1042.2 L598.0,1041.9 L599.0,1041.6 L600.0,1041.2 L601.0,1041.0 L602.0,1040.7 L603.0,1040.5 L604.0,1040.2 L605.0,1040.0 L606.0,1039.9 L607.0,1039.8 L608.0,1039.7 L609.0,1039.6 L610.0,1039.6 L611.0,1039.7 L612.0,1039.8 L613.0,1039.9 L614.0,1040.1 L615.0,1040.3 L616.0,1040.5 L617.0,1040.8 L618.0,1041.0 L619.0,1041.3 L620.0,1041.7 L621.0,1042.0 L622.0,1042.3 L623.0,1042.7 L624.0,1043.1 L625.0,1043.5 L626.0,1043.9 L627.0,1044.3 L628.0,1044.8 L629.0,1045.2 L630.0,1045.7 L631.0,1046.2 L632.0,1046.8 L633.0,1047.4 L634.0,1048.0 L635.0,1048.6 L636.0,1049.2 L637.0,1049.8 L638.0,1050.5 L639.0,1051.2 L640.0,1052.0 L641.0,1052.7 L642.0,1053.5 L643.0,1054.3 L644.0,1055.2 L645.0,1056.1 L646.0,1057.1 L647.0,1058.1 L648.0,1059.1 L649.0,1060.2 L650.0,1061.3 L651.0,1062.5 L652.0,1063.7 L653.0,1065.0 L654.0,1066.3 L655.0,1067.6 L656.0,1069.0 L657.0,1070.5 L658.0,1072.0 L659.0,1073.6 L660.0,1075.3 L661.0,1077.1 L662.0,1079.0 L663.0,1081.1 L664.0,1083.3 L665.0,1085.6 L666.0,1087.8 L667.0,1090.0 L668.0,1092.2 L669.0,1094.4 L670.0,1096.6 L671.0,1098.8 L672.0,1101.0 L673.0,1103.2 L674.0,1105.5 L675.0,1107.8 L676.0,1110.1 L677.0,1112.4 L678.0,1114.8 L679.0,1117.2 L680.0,1119.6 L681.0,1122.0 L682.0,1124.4 L683.0,1126.9 L684.0,1129.3 L685.0,1131.8 L686.0,1134.3 L687.0,1136.8 L688.0,1139.3 L689.0,1141.8 L690.0,1144.4 L691.0,1147.0 L692.0,1149.6 L693.0,1152.2 L694.0,1154.8 L695.0,1157.5 L696.0,1160.2 L697.0,1162.8 L698.0,1165.5 L699.0,1168.2 L700.0,1170.8 L701.0,1173.4 L702.0,1176.0 L703.0,1178.6 L704.0,1181.2 L705.0,1183.8 L706.0,1186.4 L707.0,1189.0 L708.0,1191.6 L709.0,1194.3 L710.0,1196.9 L711.0,1199.6 L712.0,1202.2 L713.0,1204.9 L714.0,1207.6 L715.0,1210.3 L716.0,1213.0 L717.0,1215.8 L718.0,1218.5 L719.0,1221.2 L720.0,1223.8 L721.0,1226.5 L722.0,1229.1 L723.0,1231.7 L724.0,1234.3 L725.0,1237.0 L726.0,1239.6 L727.0,1242.2 L728.0,1244.8 L729.0,1247.4 L730.0,1250.0 L731.0,1252.6 L732.0,1255.2 L733.0,1257.8 L734.0,1260.4 L735.0,1263.0 L736.0,1265.6 L737.0,1268.2 L738.0,1270.8 L739.0,1273.4 L740.0,1276.0 L741.0,1278.7 L742.0,1281.3 L743.0,1283.9 L744.0,1286.6 L745.0,1289.2 L746.0,1291.9 L747.0,1294.5 L748.0,1297.2 L749.0,1299.9 L750.0,1302.5 L751.0,1305.2 L752.0,1307.8 L753.0,1310.5 L754.0,1313.1 L755.0,1315.8 L756.0,1318.4 L757.0,1321.1 L758.0,1323.7 L759.0,1326.4 L760.0,1329.1 L761.0,1331.8 L762.0,1334.5 L763.0,1337.2 L764.0,1339.9 L765.0,1342.5 L766.0,1345.1 L767.0,1347.6 L768.0,1350.1 L769.0,1352.4 L770.0,1354.8 L771.0,1357.1 L772.0,1359.4 L773.0,1361.6 L774.0,1363.8 L775.0,1365.9 L776.0,1367.9 L777.0,1369.9 L778.0,1371.8 L779.0,1373.6 L780.0,1375.4 L781.0,1377.0 L782.0,1378.7 L783.0,1380.3 L784.0,1381.8 L785.0,1383.3 L786.0,1384.7 L787.0,1386.0 L788.0,1387.3 L789.0,1388.5 L790.0,1389.6 L791.0,1390.6 L792.0,1391.6 L793.0,1392.6 L794.0,1393.5 L795.0,1394.3 L796.0,1395.1 L797.0,1395.9 L798.0,1396.6 L799.0,1397.3 L800.0,1397.9 L801.0,1398.4 L802.0,1398.9 L803.0,1399.3 L804.0,1399.8 L805.0,1400.1 L806.0,1400.5 L807.0,1400.8 L808.0,1401.1 L809.0,1401.4 L810.0,1401.7 L811.0,1401.9 L812.0,1402.2 L813.0,1402.4 L814.0,1402.6 L815.0,1402.7 L816.0,1402.9 L817.0,1403.1 L818.0,1403.3 L819.0,1403.4 L820.0,1403.6 L821.0,1403.7 L822.0,1403.8 L823.0,1404.0 L824.0,1404.1 L825.0,1404.2 L826.0,1404.3 L827.0,1404.4 L828.0,1404.4 L829.0,1404.5 L830.0,1404.5 L831.0,1404.6 L832.0,1404.6 L833.0,1404.6 L834.0,1404.6 L835.0,1404.7 L836.0,1404.7 L837.0,1404.7 L838.0,1404.7 L839.0,1404.8 L840.0,1404.8 L850.0,1405.0 L860.0,1405.2 L870.0,1405.4 L880.0,1405.5 L890.0,1405.6 L900.0,1405.7 L910.0,1405.8 L920.0,1405.9 L930.0,1406.0 L940.0,1406.0 L950.0,1406.1 L960.0,1406.2 L970.0,1406.2 L980.0,1406.3 L990.0,1406.4 L1000.0,1406.5 L1010.0,1406.6 L1020.0,1406.7 L1030.0,1406.8 L1040.0,1406.9 L1050.0,1407.0 L1060.0,1407.1 L1070.0,1407.2 L1080.0,1407.3 L1090.0,1407.4 L1100.0,1407.5 L1110.0,1407.6 L1120.0,1407.7 L1130.0,1407.8 L1140.0,1407.9 L1150.0,1408.0 L1160.0,1408.1 L1170.0,1408.1 L1180.0,1408.2 L1190.0,1408.3 L1200.0,1408.4 L1210.0,1408.5 L1220.0,1408.6 L1230.0,1408.7 L1240.0,1408.7 L1250.0,1408.8 L1260.0,1408.9 L1270.0,1408.9 L1280.0,1409.0 L1290.0,1409.0 L1300.0,1409.0 L1310.0,1409.1 L1320.0,1409.1 L1330.0,1409.1 L1340.0,1409.2 L1350.0,1409.2 L1360.0,1409.3 L1370.0,1409.3 L1380.0,1409.3 L1390.0,1409.3 L1400.0,1409.4 L1410.0,1409.4 L1420.0,1409.4 L1430.0,1409.5 L1440.0,1409.5 L1450.0,1409.5 L1460.0,1409.5 L1470.0,1409.5 L1480.0,1409.6 L1490.0,1409.6 L1500.0,1409.6 L1510.0,1409.6 L1520.0,1409.6 L1530.0,1409.6 L1539.5,1409.6"/>
<path stroke="#CC9900" d="M337.2,71.5 L337.5,73.1 L337.8,79.6 L338.0,87.9 L338.2,96.2 L338.5,104.5 L338.8,112.8 L339.0,121.1 L339.2,129.4 L339.5,137.7 L339.8,146.0 L340.0,154.3 L340.2,162.6 L340.5,170.8 L340.8,179.1 L341.0,187.4 L341.2,195.7 L341.5,203.9 L341.8,212.2 L342.0,220.4 L342.2,228.7 L342.5,236.9 L342.8,245.2 L343.0,253.4 L343.2,261.7 L343.5,269.9 L343.8,278.2 L344.0,286.4 L344.2,294.6 L344.5,302.9 L344.8,311.3 L345.0,319.8 L345.2,328.4 L345.5,337.1 L345.8,345.9 L346.0,354.7 L346.2,363.6 L346.5,372.5 L346.8,381.3 L347.0,390.1 L347.2,398.9 L347.5,407.5 L347.8,416.0 L348.0,424.4 L348.2,432.7 L348.5,440.8 L348.8,448.7 L349.0,456.5 L349.2,464.1 L349.5,471.5 L349.8,478.7 L350.0,485.8 L350.2,492.6 L350.5,499.3 L350.8,505.8 L351.0,512.2 L351.2,518.3 L351.5,524.3 L351.8,530.1 L352.0,535.8 L352.2,541.4 L352.5,546.9 L352.8,552.3 L353.0,557.6 L353.2,562.8 L353.5,568.0 L353.8,573.1 L354.0,578.1 L354.2,583.1 L354.5,588.0 L354.8,592.9 L355.0,597.8 L355.2,602.6 L355.5,607.4 L355.8,612.2 L356.0,616.9 L356.2,621.7 L356.5,626.4 L356.8,631.1 L357.0,635.8 L357.2,640.4 L357.5,645.1 L357.8,649.7 L358.0,654.4 L358.2,659.1 L358.5,663.7 L358.8,668.4 L359.0,673.1 L359.2,677.7 L359.5,682.4 L359.8,687.2 L360.0,691.9 L360.2,696.6 L360.5,701.4 L360.8,706.2 L361.0,711.0 L361.2,715.9 L361.5,720.8 L361.8,725.7 L362.0,730.6 L362.2,735.5 L362.5,740.5 L362.8,745.4 L363.0,750.4 L363.2,755.3 L363.5,760.3 L363.8,765.3 L364.0,770.2 L364.2,775.2 L364.5,780.1 L364.8,785.0 L365.0,789.9 L365.2,794.8 L365.5,799.6 L365.8,804.5 L366.0,809.2 L366.2,814.0 L366.5,818.7 L366.8,823.4 L367.0,828.0 L367.2,832.6 L367.5,837.2 L367.8,841.7 L368.0,846.1 L368.2,850.5 L368.5,854.9 L368.8,859.2 L369.0,863.5 L369.2,867.7 L369.5,871.9 L369.8,876.0 L370.0,880.1 L370.2,884.1 L370.5,888.1 L370.8,892.0 L371.0,895.9 L371.2,899.7 L371.5,903.5 L371.8,907.3 L372.0,911.0 L372.2,914.6 L372.5,918.2 L372.8,921.7 L373.0,925.3 L373.2,928.7 L373.5,932.1 L373.8,935.4 L374.0,938.7 L374.2,941.9 L374.5,945.1 L374.8,948.2 L375.0,951.3 L375.2,954.3 L375.5,957.3 L375.8,960.2 L376.0,963.1 L376.2,966.0 L376.5,968.9 L376.8,971.7 L377.0,974.4 L377.2,977.2 L377.5,979.9 L377.8,982.6 L378.0,985.2 L378.2,987.9 L378.5,990.5 L378.8,993.1 L379.0,995.6 L379.2,998.2 L379.5,1000.7 L379.8,1003.2 L380.0,1005.7 L380.2,1008.1 L380.5,1010.5 L380.8,1012.9 L381.0,1015.3 L381.2,1017.7 L381.5,1020.0 L381.8,1022.3 L382.0,1024.6 L382.2,1026.9 L382.5,1029.1 L382.8,1031.3 L383.0,1033.6 L383.2,1035.8 L383.5,1037.9 L383.8,1040.1 L384.0,1042.2 L384.2,1044.4 L384.5,1046.5 L384.8,1048.6 L385.0,1050.7 L385.2,1052.7 L385.5,1054.8 L385.8,1056.8 L386.0,1058.8 L386.2,1060.8 L386.5,1062.8 L386.8,1064.7 L387.0,1066.7 L387.2,1068.6 L387.5,1070.5 L387.8,1072.4 L388.0,1074.3 L388.2,1076.2 L388.5,1078.0 L388.8,1079.9 L389.0,1081.7 L389.2,1083.5 L389.5,1085.3 L389.8,1087.0 L390.0,1088.7 L390.2,1090.4 L390.5,1092.1 L390.8,1093.8 L391.0,1095.4 L391.2,1097.0 L391.5,1098.7 L391.8,1100.3 L392.0,1101.9 L392.2,1103.5 L392.5,1105.2 L392.8,1106.8 L393.0,1108.4 L393.2,1110.1 L393.5,1111.8 L393.8,1113.4 L394.0,1115.1 L394.2,1116.7 L394.5,1118.4 L394.8,1119.9 L395.0,1121.5 L395.2,1123.0 L395.5,1124.4 L395.8,1125.8 L396.0,1127.2 L396.2,1128.6 L396.5,1129.9 L396.8,1131.2 L397.0,1132.5 L397.2,1133.9 L397.5,1135.2 L397.8,1136.5 L398.0,1137.9 L398.2,1139.2 L398.5,1140.5 L398.8,1141.9 L399.0,1143.2 L399.2,1144.5 L399.5,1145.9 L399.8,1147.2 L400.0,1148.5 L400.2,1149.7 L400.5,1151.0 L400.8,1152.3 L401.0,1153.5 L401.2,1154.8 L401.5,1156.0 L401.8,1157.2 L402.0,1158.3 L402.2,1159.5 L402.5,1160.7 L402.8,1161.8 L403.0,1163.0 L403.2,1164.1 L403.5,1165.2 L403.8,1166.3 L404.0,1167.4 L404.2,1168.5 L404.5,1169.6 L404.8,1170.7 L405.0,1171.7 L405.2,1172.8 L405.5,1173.8 L405.8,1174.8 L406.0,1175.8 L406.2,1176.8 L406.5,1177.8 L406.8,1178.7 L407.0,1179.6 L407.2,1180.6 L407.5,1181.5 L407.8,1182.4 L408.0,1183.3 L408.2,1184.1 L408.5,1185.0 L408.8,1185.8 L409.0,1186.7 L409.2,1187.5 L409.5,1188.3 L409.8,1189.1 L410.0,1189.9 L410.2,1190.6 L410.5,1191.4 L410.8,1192.2 L411.0,1192.9 L411.2,1193.6 L411.5,1194.4 L411.8,1195.1 L412.0,1195.8 L412.2,1196.5 L412.5,1197.2 L412.8,1197.9 L413.0,1198.6 L413.2,1199.3 L413.5,1199.9 L413.8,1200.6 L414.0,1201.3 L414.2,1201.9 L414.5,1202.6 L414.8,1203.2 L415.0,1203.8 L415.2,1204.5 L415.5,1205.1 L415.8,1205.7 L416.0,1206.3 L416.2,1206.9 L416.5,1207.5 L416.8,1208.1 L417.0,1208.6 L417.2,1209.2 L417.5,1209.8 L417.8,1210.3 L418.0,1210.8 L418.2,1211.4 L418.5,1211.9 L418.8,1212.4 L419.0,1212.9 L419.2,1213.4 L419.5,1213.9 L419.8,1214.4 L420.0,1214.9 L421.0,1216.7 L422.0,1218.5 L423.0,1220.2 L424.0,1221.9 L425.0,1223.5 L426.0,1225.0 L427.0,1226.4 L428.0,1227.7 L429.0,1228.7 L430.0,1229.7 L431.0,1230.5 L432.0,1231.2 L433.0,1231.8 L434.0,1232.2 L435.0,1232.5 L436.0,1232.8 L437.0,1232.9 L438.0,1233.0 L439.0,1233.1 L440.0,1233.2 L441.0,1233.3 L442.0,1233.4 L443.0,1233.4 L444.0,1233.4 L445.0,1233.3 L446.0,1233.1 L447.0,1232.7 L448.0,1232.3 L449.0,1231.7 L450.0,1231.1 L451.0,1230.4 L452.0,1229.7 L453.0,1228.9 L454.0,1228.2 L455.0,1227.6 L456.0,1226.9 L457.0,1226.2 L458.0,1225.5 L459.0,1224.7 L460.0,1223.9 L461.0,1223.1 L462.0,1222.3 L463.0,1221.4 L464.0,1220.5 L465.0,1219.6 L466.0,1218.6 L467.0,1217.6 L468.0,1216.6 L469.0,1215.6 L470.0,1214.5 L471.0,1213.5 L472.0,1212.4 L473.0,1211.3 L474.0,1210.2 L475.0,1209.0 L476.0,1207.8 L477.0,1206.6 L478.0,1205.4 L479.0,1204.2 L480.0,1203.0 L481.0,1201.8 L482.0,1200.6 L483.0,1199.4 L484.0,1198.2 L485.0,1197.0 L486.0,1195.8 L487.0,1194.6 L488.0,1193.4 L489.0,1192.1 L490.0,1190.9 L491.0,1189.6 L492.0,1188.4 L493.0,1187.1 L494.0,1185.8 L495.0,1184.5 L496.0,1183.2 L497.0,1181.9 L498.0,1180.6 L499.0,1179.2 L500.0,1177.8 L501.0,1176.4 L502.0,1175.0 L503.0,1173.6 L504.0,1172.2 L505.0,1170.8 L506.0,1169.3 L507.0,1167.9 L508.0,1166.4 L509.0,1165.0 L510.0,1163.6 L511.0,1162.1 L512.0,1160.7 L513.0,1159.2 L514.0,1157.8 L515.0,1156.4 L516.0,1154.9 L517.0,1153.5 L518.0,1152.1 L519.0,1150.6 L520.0,1149.1 L521.0,1147.6 L522.0,1146.1 L523.0,1144.6 L524.0,1143.1 L525.0,1141.6 L526.0,1140.1 L527.0,1138.6 L528.0,1137.1 L529.0,1135.7 L530.0,1134.2 L531.0,1132.7 L532.0,1131.2 L533.0,1129.8 L534.0,1128.4 L535.0,1126.9 L536.0,1125.5 L537.0,1124.1 L538.0,1122.7 L539.0,1121.3 L540.0,1119.9 L541.0,1118.6 L542.0,1117.2 L543.0,1115.9 L544.0,1114.6 L545.0,1113.3 L546.0,1112.0 L547.0,1110.7 L548.0,1109.5 L549.0,1108.3 L550.0,1107.1 L551.0,1105.9 L552.0,1104.8 L553.0,1103.6 L554.0,1102.5 L555.0,1101.4 L556.0,1100.4 L557.0,1099.3 L558.0,1098.3 L559.0,1097.3 L560.0,1096.3 L561.0,1095.3 L562.0,1094.3 L563.0,1093.3 L564.0,1092.4 L565.0,1091.5 L566.0,1090.6 L567.0,1089.7 L568.0,1088.8 L569.0,1088.0 L570.0,1087.2 L571.0,1086.4 L572.0,1085.6 L573.0,1084.9 L574.0,1084.1 L575.0,1083.4 L576.0,1082.6 L577.0,1081.9 L578.0,1081.2 L579.0,1080.4 L580.0,1079.8 L581.0,1079.1 L582.0,1078.4 L583.0,1077.8 L584.0,1077.2 L585.0,1076.6 L586.0,1076.0 L587.0,1075.5 L588.0,1074.9 L589.0,1074.5 L590.0,1074.0 L591.0,1073.6 L592.0,1073.2 L593.0,1072.9 L594.0,1072.5 L595.0,1072.2 L596.0,1071.9 L597.0,1071.6 L598.0,1071.3 L599.0,1071.0 L600.0,1070.7 L601.0,1070.5 L602.0,1070.2 L603.0,1070.0 L604.0,1069.8 L605.0,1069.7 L606.0,1069.5 L607.0,1069.4 L608.0,1069.4 L609.0,1069.3 L610.0,1069.3 L611.0,1069.4 L612.0,1069.4 L613.0,1069.6 L614.0,1069.7 L615.0,1069.9 L616.0,1070.1 L617.0,1070.3 L618.0,1070.6 L619.0,1070.9 L620.0,1071.1 L621.0,1071.4 L622.0,1071.8 L623.0,1072.1 L624.0,1072.4 L625.0,1072.8 L626.0,1073.2 L627.0,1073.6 L628.0,1074.0 L629.0,1074.5 L630.0,1075.0 L631.0,1075.5 L632.0,1076.0 L633.0,1076.5 L634.0,1077.1 L635.0,1077.7 L636.0,1078.3 L637.0,1078.9 L638.0,1079.5 L639.0,1080.2 L640.0,1080.9 L641.0,1081.6 L642.0,1082.3 L643.0,1083.1 L644.0,1083.9 L645.0,1084.8 L646.0,1085.6 L647.0,1086.6 L648.0,1087.5 L649.0,1088.5 L650.0,1089.6 L651.0,1090.7 L652.0,1091.8 L653.0,1093.0 L654.0,1094.2 L655.0,1095.4 L656.0,1096.7 L657.0,1098.1 L658.0,1099.5 L659.0,1100.9 L660.0,1102.5 L661.0,1104.1 L662.0,1105.8 L663.0,1107.7 L664.0,1109.7 L665.0,1111.8 L666.0,1113.8 L667.0,1115.8 L668.0,1117.8 L669.0,1119.8 L670.0,1121.8 L671.0,1123.9 L672.0,1125.9 L673.0,1128.0 L674.0,1130.0 L675.0,1132.1 L676.0,1134.3 L677.0,1136.4 L678.0,1138.6 L679.0,1140.8 L680.0,1143.1 L681.0,1145.3 L682.0,1147.5 L683.0,1149.8 L684.0,1152.1 L685.0,1154.4 L686.0,1156.7 L687.0,1159.0 L688.0,1161.3 L689.0,1163.7 L690.0,1166.0 L691.0,1168.4 L692.0,1170.8 L693.0,1173.3 L694.0,1175.7 L695.0,1178.1 L696.0,1180.6 L697.0,1183.1 L698.0,1185.5 L699.0,1187.9 L700.0,1190.3 L701.0,1192.7 L702.0,1195.1 L703.0,1197.5 L704.0,1199.9 L705.0,1202.3 L706.0,1204.6 L707.0,1207.0 L708.0,1209.4 L709.0,1211.8 L710.0,1214.3 L711.0,1216.7 L712.0,1219.2 L713.0,1221.7 L714.0,1224.2 L715.0,1226.7 L716.0,1229.2 L717.0,1231.7 L718.0,1234.2 L719.0,1236.7 L720.0,1239.2 L721.0,1241.7 L722.0,1244.1 L723.0,1246.5 L724.0,1249.0 L725.0,1251.4 L726.0,1253.8 L727.0,1256.2 L728.0,1258.6 L729.0,1260.9 L730.0,1263.3 L731.0,1265.7 L732.0,1268.1 L733.0,1270.4 L734.0,1272.8 L735.0,1275.2 L736.0,1277.6 L737.0,1280.0 L738.0,1282.4 L739.0,1284.7 L740.0,1287.1 L741.0,1289.6 L742.0,1292.0 L743.0,1294.4 L744.0,1296.8 L745.0,1299.3 L746.0,1301.7 L747.0,1304.2 L748.0,1306.6 L749.0,1309.1 L750.0,1311.5 L751.0,1314.0 L752.0,1316.4 L753.0,1318.9 L754.0,1321.3 L755.0,1323.7 L756.0,1326.2 L757.0,1328.6 L758.0,1331.0 L759.0,1333.5 L760.0,1336.0 L761.0,1338.5 L762.0,1340.9 L763.0,1343.4 L764.0,1345.9 L765.0,1348.3 L766.0,1350.7 L767.0,1353.0 L768.0,1355.2 L769.0,1357.4 L770.0,1359.5 L771.0,1361.6 L772.0,1363.7 L773.0,1365.8 L774.0,1367.8 L775.0,1369.7 L776.0,1371.6 L777.0,1373.4 L778.0,1375.1 L779.0,1376.8 L780.0,1378.4 L781.0,1379.9 L782.0,1381.4 L783.0,1382.8 L784.0,1384.2 L785.0,1385.5 L786.0,1386.8 L787.0,1388.0 L788.0,1389.2 L789.0,1390.2 L790.0,1391.2 L791.0,1392.2 L792.0,1393.0 L793.0,1393.9 L794.0,1394.7 L795.0,1395.4 L796.0,1396.2 L797.0,1396.8 L798.0,1397.5 L799.0,1398.1 L800.0,1398.6 L801.0,1399.1 L802.0,1399.5 L803.0,1399.9 L804.0,1400.3 L805.0,1400.6 L806.0,1400.9 L807.0,1401.2 L808.0,1401.5 L809.0,1401.8 L810.0,1402.0 L811.0,1402.2 L812.0,1402.4 L813.0,1402.6 L814.0,1402.8 L815.0,1402.9 L816.0,1403.1 L817.0,1403.3 L818.0,1403.4 L819.0,1403.5 L820.0,1403.7 L821.0,1403.8 L822.0,1403.9 L823.0,1404.0 L824.0,1404.1 L825.0,1404.2 L826.0,1404.3 L827.0,1404.4 L828.0,1404.4 L829.0,1404.5 L830.0,1404.5 L831.0,1404.6 L832.0,1404.6 L833.0,1404.6 L834.0,1404.6 L835.0,1404.7 L836.0,1404.7 L837.0,1404.7 L838.0,1404.7 L839.0,1404.8 L840.0,1404.8 L850.0,1405.0 L860.0,1405.2 L870.0,1405.3 L880.0,1405.5 L890.0,1405.6 L900.0,1405.7 L910.0,1405.8 L920.0,1405.9 L930.0,1406.0 L940.0,1406.0 L950.0,1406.1 L960.0,1406.2 L970.0,1406.2 L980.0,1406.3 L990.0,1406.4 L1000.0,1406.5 L1010.0,1406.6 L1020.0,1406.7 L1030.0,1406.8 L1040.0,1406.9 L1050.0,1407.0 L1060.0,1407.1 L1070.0,1407.2 L1080.0,1407.3 L1090.0,1407.4 L1100.0,1407.5 L1110.0,1407.6 L1120.0,1407.7 L1130.0,1407.8 L1140.0,1407.9 L1150.0,1408.0 L1160.0,1408.1 L1170.0,1408.1 L1180.0,1408.2 L1190.0,1408.3 L1200.0,1408.4 L1210.0,1408.5 L1220.0,1408.6 L1230.0,1408.7 L1240.0,1408.7 L1250.0,1408.8 L1260.0,1408.9 L1270.0,1408.9 L1280.0,1409.0 L1290.0,1409.0 L1300.0,1409.0 L1310.0,1409.1 L1320.0,1409.1 L1330.0,1409.1 L1340.0,1409.2 L1350.0,1409.2 L1360.0,1409.3 L1370.0,1409.3 L1380.0,1409.3 L1390.0,1409.3 L1400.0,1409.4 L1410.0,1409.4 L1420.0,1409.4 L1430.0,1409.5 L1440.0,1409.5 L1450.0,1409.5 L1460.0,1409.5 L1470.0,1409.5 L1480.0,1409.6 L1490.0,1409.6 L1500.0,1409.6 L1510.0,1409.6 L1520.0,1409.6 L1530.0,1409.6 L1539.5,1409.6"/>
<path stroke="#00CBCC" d="M337.2,71.5 L337.5,73.4 L337.8,80.4 L338.0,88.7 L338.2,97.0 L338.5,105.4 L338.8,113.7 L339.0,122.0 L339.2,130.3 L339.5,138.7 L339.8,147.0 L340.0,155.3 L340.2,163.6 L340.5,171.9 L340.8,180.2 L341.0,188.5 L341.2,196.8 L341.5,205.1 L341.8,213.4 L342.0,221.7 L342.2,229.9 L342.5,238.2 L342.8,246.5 L343.0,254.8 L343.2,263.0 L343.5,271.3 L343.8,279.6 L344.0,287.8 L344.2,296.1 L344.5,304.4 L344.8,312.8 L345.0,321.4 L345.2,330.1 L345.5,338.8 L345.8,347.7 L346.0,356.5 L346.2,365.5 L346.5,374.4 L346.8,383.2 L347.0,392.1 L347.2,400.8 L347.5,409.5 L347.8,418.0 L348.0,426.4 L348.2,434.7 L348.5,442.7 L348.8,450.7 L349.0,458.4 L349.2,466.0 L349.5,473.4 L349.8,480.6 L350.0,487.6 L350.2,494.5 L350.5,501.1 L350.8,507.6 L351.0,513.9 L351.2,520.0 L351.5,525.9 L351.8,531.7 L352.0,537.4 L352.2,543.0 L352.5,548.4 L352.8,553.8 L353.0,559.1 L353.2,564.3 L353.5,569.5 L353.8,574.6 L354.0,579.6 L354.2,584.6 L354.5,589.5 L354.8,594.4 L355.0,599.3 L355.2,604.1 L355.5,608.9 L355.8,613.7 L356.0,618.5 L356.2,623.2 L356.5,627.9 L356.8,632.6 L357.0,637.3 L357.2,642.0 L357.5,646.6 L357.8,651.3 L358.0,656.0 L358.2,660.6 L358.5,665.3 L358.8,670.0 L359.0,674.7 L359.2,679.4 L359.5,684.1 L359.8,688.8 L360.0,693.6 L360.2,698.4 L360.5,703.2 L360.8,708.0 L361.0,712.8 L361.2,717.7 L361.5,722.6 L361.8,727.5 L362.0,732.4 L362.2,737.3 L362.5,742.3 L362.8,747.3 L363.0,752.2 L363.2,757.2 L363.5,762.2 L363.8,767.1 L364.0,772.1 L364.2,777.0 L364.5,781.9 L364.8,786.8 L365.0,791.7 L365.2,796.6 L365.5,801.4 L365.8,806.2 L366.0,811.0 L366.2,815.8 L366.5,820.5 L366.8,825.1 L367.0,829.8 L367.2,834.3 L367.5,838.9 L367.8,843.4 L368.0,847.9 L368.2,852.3 L368.5,856.6 L368.8,861.0 L369.0,865.2 L369.2,869.5 L369.5,873.6 L369.8,877.8 L370.0,881.8 L370.2,885.9 L370.5,889.9 L370.8,893.8 L371.0,897.7 L371.2,901.6 L371.5,905.4 L371.8,909.1 L372.0,912.8 L372.2,916.5 L372.5,920.1 L372.8,923.7 L373.0,927.2 L373.2,930.7 L373.5,934.1 L373.8,937.4 L374.0,940.7 L374.2,944.0 L374.5,947.2 L374.8,950.3 L375.0,953.5 L375.2,956.5 L375.5,959.5 L375.8,962.5 L376.0,965.5 L376.2,968.4 L376.5,971.3 L376.8,974.1 L377.0,976.9 L377.2,979.7 L377.5,982.5 L377.8,985.2 L378.0,987.9 L378.2,990.6 L378.5,993.2 L378.8,995.9 L379.0,998.5 L379.2,1001.1 L379.5,1003.6 L379.8,1006.1 L380.0,1008.7 L380.2,1011.2 L380.5,1013.6 L380.8,1016.1 L381.0,1018.5 L381.2,1020.8 L381.5,1023.2 L381.8,1025.5 L382.0,1027.8 L382.2,1030.1 L382.5,1032.4 L382.8,1034.7 L383.0,1036.9 L383.2,1039.1 L383.5,1041.3 L383.8,1043.5 L384.0,1045.7 L384.2,1047.8 L384.5,1049.9 L384.8,1052.0 L385.0,1054.1 L385.2,1056.2 L385.5,1058.3 L385.8,1060.3 L386.0,1062.4 L386.2,1064.4 L386.5,1066.4 L386.8,1068.4 L387.0,1070.3 L387.2,1072.3 L387.5,1074.2 L387.8,1076.1 L388.0,1078.1 L388.2,1080.0 L388.5,1081.8 L388.8,1083.7 L389.0,1085.6 L389.2,1087.4 L389.5,1089.2 L389.8,1090.9 L390.0,1092.7 L390.2,1094.4 L390.5,1096.1 L390.8,1097.7 L391.0,1099.4 L391.2,1101.0 L391.5,1102.7 L391.8,1104.3 L392.0,1106.0 L392.2,1107.6 L392.5,1109.3 L392.8,1111.0 L393.0,1112.7 L393.2,1114.4 L393.5,1116.1 L393.8,1117.8 L394.0,1119.5 L394.2,1121.3 L394.5,1123.0 L394.8,1124.6 L395.0,1126.2 L395.2,1127.8 L395.5,1129.3 L395.8,1130.8 L396.0,1132.3 L396.2,1133.7 L396.5,1135.1 L396.8,1136.5 L397.0,1137.9 L397.2,1139.2 L397.5,1140.6 L397.8,1142.0 L398.0,1143.3 L398.2,1144.7 L398.5,1146.0 L398.8,1147.4 L399.0,1148.7 L399.2,1150.0 L399.5,1151.4 L399.8,1152.7 L400.0,1154.0 L400.2,1155.3 L400.5,1156.5 L400.8,1157.8 L401.0,1159.0 L401.2,1160.3 L401.5,1161.5 L401.8,1162.7 L402.0,1163.9 L402.2,1165.1 L402.5,1166.2 L402.8,1167.4 L403.0,1168.5 L403.2,1169.7 L403.5,1170.8 L403.8,1171.9 L404.0,1173.1 L404.2,1174.2 L404.5,1175.3 L404.8,1176.3 L405.0,1177.4 L405.2,1178.4 L405.5,1179.5 L405.8,1180.5 L406.0,1181.5 L406.2,1182.5 L406.5,1183.5 L406.8,1184.5 L407.0,1185.4 L407.2,1186.4 L407.5,1187.3 L407.8,1188.3 L408.0,1189.2 L408.2,1190.1 L408.5,1191.0 L408.8,1191.8 L409.0,1192.7 L409.2,1193.6 L409.5,1194.4 L409.8,1195.2 L410.0,1196.0 L410.2,1196.9 L410.5,1197.7 L410.8,1198.5 L411.0,1199.3 L411.2,1200.0 L411.5,1200.8 L411.8,1201.6 L412.0,1202.4 L412.2,1203.1 L412.5,1203.9 L412.8,1204.6 L413.0,1205.3 L413.2,1206.1 L413.5,1206.8 L413.8,1207.5 L414.0,1208.2 L414.2,1208.9 L414.5,1209.6 L414.8,1210.3 L415.0,1210.9 L415.2,1211.6 L415.5,1212.3 L415.8,1212.9 L416.0,1213.6 L416.2,1214.2 L416.5,1214.8 L416.8,1215.5 L417.0,1216.1 L417.2,1216.7 L417.5,1217.3 L417.8,1217.9 L418.0,1218.4 L418.2,1219.0 L418.5,1219.6 L418.8,1220.1 L419.0,1220.7 L419.2,1221.2 L419.5,1221.8 L419.8,1222.3 L420.0,1222.8 L421.0,1224.8 L422.0,1226.7 L423.0,1228.6 L424.0,1230.4 L425.0,1232.2 L426.0,1233.9 L427.0,1235.5 L428.0,1237.0 L429.0,1238.3 L430.0,1239.5 L431.0,1240.5 L432.0,1241.4 L433.0,1242.1 L434.0,1242.7 L435.0,1243.2 L436.0,1243.6 L437.0,1243.9 L438.0,1244.2 L439.0,1244.5 L440.0,1244.7 L441.0,1245.0 L442.0,1245.3 L443.0,1245.5 L444.0,1245.6 L445.0,1245.6 L446.0,1245.5 L447.0,1245.3 L448.0,1245.0 L449.0,1244.6 L450.0,1244.1 L451.0,1243.6 L452.0,1243.1 L453.0,1242.5 L454.0,1241.9 L455.0,1241.4 L456.0,1240.8 L457.0,1240.3 L458.0,1239.7 L459.0,1239.1 L460.0,1238.4 L461.0,1237.8 L462.0,1237.1 L463.0,1236.3 L464.0,1235.5 L465.0,1234.7 L466.0,1233.9 L467.0,1233.0 L468.0,1232.1 L469.0,1231.2 L470.0,1230.3 L471.0,1229.4 L472.0,1228.4 L473.0,1227.4 L474.0,1226.4 L475.0,1225.4 L476.0,1224.3 L477.0,1223.2 L478.0,1222.1 L479.0,1221.0 L480.0,1219.9 L481.0,1218.8 L482.0,1217.7 L483.0,1216.6 L484.0,1215.5 L485.0,1214.5 L486.0,1213.4 L487.0,1212.3 L488.0,1211.1 L489.0,1210.0 L490.0,1208.9 L491.0,1207.7 L492.0,1206.6 L493.0,1205.4 L494.0,1204.3 L495.0,1203.1 L496.0,1201.9 L497.0,1200.7 L498.0,1199.5 L499.0,1198.3 L500.0,1197.0 L501.0,1195.8 L502.0,1194.5 L503.0,1193.2 L504.0,1192.0 L505.0,1190.7 L506.0,1189.4 L507.0,1188.1 L508.0,1186.8 L509.0,1185.5 L510.0,1184.3 L511.0,1183.0 L512.0,1181.7 L513.0,1180.5 L514.0,1179.2 L515.0,1177.9 L516.0,1176.7 L517.0,1175.4 L518.0,1174.1 L519.0,1172.9 L520.0,1171.6 L521.0,1170.3 L522.0,1169.0 L523.0,1167.6 L524.0,1166.3 L525.0,1165.0 L526.0,1163.7 L527.0,1162.4 L528.0,1161.1 L529.0,1159.8 L530.0,1158.5 L531.0,1157.2 L532.0,1155.9 L533.0,1154.6 L534.0,1153.3 L535.0,1152.1 L536.0,1150.8 L537.0,1149.5 L538.0,1148.3 L539.0,1147.0 L540.0,1145.8 L541.0,1144.5 L542.0,1143.3 L543.0,1142.1 L544.0,1140.9 L545.0,1139.8 L546.0,1138.6 L547.0,1137.5 L548.0,1136.4 L549.0,1135.3 L550.0,1134.2 L551.0,1133.2 L552.0,1132.1 L553.0,1131.1 L554.0,1130.1 L555.0,1129.2 L556.0,1128.2 L557.0,1127.2 L558.0,1126.3 L559.0,1125.4 L560.0,1124.5 L561.0,1123.6 L562.0,1122.7 L563.0,1121.8 L564.0,1121.0 L565.0,1120.1 L566.0,1119.3 L567.0,1118.5 L568.0,1117.8 L569.0,1117.0 L570.0,1116.3 L571.0,1115.6 L572.0,1114.9 L573.0,1114.2 L574.0,1113.5 L575.0,1112.8 L576.0,1112.2 L577.0,1111.5 L578.0,1110.9 L579.0,1110.3 L580.0,1109.7 L581.0,1109.1 L582.0,1108.5 L583.0,1107.9 L584.0,1107.4 L585.0,1106.8 L586.0,1106.3 L587.0,1105.8 L588.0,1105.4 L589.0,1104.9 L590.0,1104.5 L591.0,1104.2 L592.0,1103.8 L593.0,1103.5 L594.0,1103.2 L595.0,1102.9 L596.0,1102.7 L597.0,1102.4 L598.0,1102.2 L599.0,1101.9 L600.0,1101.7 L601.0,1101.5 L602.0,1101.3 L603.0,1101.1 L604.0,1100.9 L605.0,1100.8 L606.0,1100.7 L607.0,1100.6 L608.0,1100.5 L609.0,1100.5 L610.0,1100.5 L611.0,1100.5 L612.0,1100.6 L613.0,1100.7 L614.0,1100.8 L615.0,1101.0 L616.0,1101.2 L617.0,1101.4 L618.0,1101.6 L619.0,1101.9 L620.0,1102.1 L621.0,1102.4 L622.0,1102.7 L623.0,1103.0 L624.0,1103.3 L625.0,1103.6 L626.0,1104.0 L627.0,1104.4 L628.0,1104.8 L629.0,1105.2 L630.0,1105.7 L631.0,1106.2 L632.0,1106.7 L633.0,1107.2 L634.0,1107.7 L635.0,1108.3 L636.0,1108.8 L637.0,1109.4 L638.0,1110.0 L639.0,1110.6 L640.0,1111.3 L641.0,1111.9 L642.0,1112.6 L643.0,1113.3 L644.0,1114.1 L645.0,1114.9 L646.0,1115.7 L647.0,1116.5 L648.0,1117.4 L649.0,1118.3 L650.0,1119.3 L651.0,1120.3 L652.0,1121.3 L653.0,1122.4 L654.0,1123.5 L655.0,1124.6 L656.0,1125.8 L657.0,1127.0 L658.0,1128.3 L659.0,1129.6 L660.0,1131.0 L661.0,1132.5 L662.0,1134.0 L663.0,1135.7 L664.0,1137.5 L665.0,1139.3 L666.0,1141.1 L667.0,1142.9 L668.0,1144.7 L669.0,1146.5 L670.0,1148.4 L671.0,1150.2 L672.0,1152.1 L673.0,1153.9 L674.0,1155.8 L675.0,1157.7 L676.0,1159.7 L677.0,1161.7 L678.0,1163.7 L679.0,1165.7 L680.0,1167.7 L681.0,1169.8 L682.0,1171.8 L683.0,1173.9 L684.0,1176.0 L685.0,1178.1 L686.0,1180.2 L687.0,1182.3 L688.0,1184.4 L689.0,1186.6 L690.0,1188.8 L691.0,1191.0 L692.0,1193.2 L693.0,1195.4 L694.0,1197.6 L695.0,1199.8 L696.0,1202.1 L697.0,1204.3 L698.0,1206.5 L699.0,1208.7 L700.0,1210.9 L701.0,1213.0 L702.0,1215.2 L703.0,1217.3 L704.0,1219.5 L705.0,1221.6 L706.0,1223.8 L707.0,1225.9 L708.0,1228.1 L709.0,1230.3 L710.0,1232.5 L711.0,1234.8 L712.0,1237.0 L713.0,1239.3 L714.0,1241.6 L715.0,1243.9 L716.0,1246.2 L717.0,1248.5 L718.0,1250.8 L719.0,1253.1 L720.0,1255.4 L721.0,1257.6 L722.0,1259.9 L723.0,1262.1 L724.0,1264.3 L725.0,1266.5 L726.0,1268.7 L727.0,1270.9 L728.0,1273.0 L729.0,1275.2 L730.0,1277.3 L731.0,1279.5 L732.0,1281.6 L733.0,1283.8 L734.0,1285.9 L735.0,1288.1 L736.0,1290.2 L737.0,1292.3 L738.0,1294.5 L739.0,1296.7 L740.0,1298.8 L741.0,1301.0 L742.0,1303.2 L743.0,1305.4 L744.0,1307.6 L745.0,1309.8 L746.0,1312.0 L747.0,1314.3 L748.0,1316.5 L749.0,1318.7 L750.0,1320.9 L751.0,1323.2 L752.0,1325.4 L753.0,1327.6 L754.0,1329.9 L755.0,1332.1 L756.0,1334.3 L757.0,1336.5 L758.0,1338.7 L759.0,1340.9 L760.0,1343.2 L761.0,1345.4 L762.0,1347.7 L763.0,1350.0 L764.0,1352.2 L765.0,1354.4 L766.0,1356.5 L767.0,1358.6 L768.0,1360.6 L769.0,1362.6 L770.0,1364.5 L771.0,1366.4 L772.0,1368.3 L773.0,1370.2 L774.0,1372.0 L775.0,1373.7 L776.0,1375.4 L777.0,1377.0 L778.0,1378.6 L779.0,1380.1 L780.0,1381.5 L781.0,1382.9 L782.0,1384.2 L783.0,1385.5 L784.0,1386.7 L785.0,1387.9 L786.0,1389.0 L787.0,1390.1 L788.0,1391.1 L789.0,1392.1 L790.0,1392.9 L791.0,1393.8 L792.0,1394.5 L793.0,1395.3 L794.0,1396.0 L795.0,1396.6 L796.0,1397.2 L797.0,1397.8 L798.0,1398.4 L799.0,1398.9 L800.0,1399.3 L801.0,1399.8 L802.0,1400.1 L803.0,1400.5 L804.0,1400.8 L805.0,1401.1 L806.0,1401.4 L807.0,1401.6 L808.0,1401.9 L809.0,1402.1 L810.0,1402.3 L811.0,1402.5 L812.0,1402.7 L813.0,1402.9 L814.0,1403.0 L815.0,1403.2 L816.0,1403.3 L817.0,1403.4 L818.0,1403.6 L819.0,1403.7 L820.0,1403.8 L821.0,1403.9 L822.0,1404.0 L823.0,1404.1 L824.0,1404.2 L825.0,1404.3 L826.0,1404.3 L827.0,1404.4 L828.0,1404.5 L829.0,1404.5 L830.0,1404.5 L831.0,1404.6 L832.0,1404.6 L833.0,1404.6 L834.0,1404.7 L835.0,1404.7 L836.0,1404.7 L837.0,1404.7 L838.0,1404.8 L839.0,1404.8 L840.0,1404.8 L850.0,1405.0 L860.0,1405.2 L870.0,1405.3 L880.0,1405.5 L890.0,1405.6 L900.0,1405.7 L910.0,1405.8 L920.0,1405.9 L930.0,1405.9 L940.0,1406.0 L950.0,1406.1 L960.0,1406.2 L970.0,1406.2 L980.0,1406.3 L990.0,1406.4 L1000.0,1406.5 L1010.0,1406.6 L1020.0,1406.7 L1030.0,1406.8 L1040.0,1406.9 L1050.0,1407.0 L1060.0,1407.1 L1070.0,1407.2 L1080.0,1407.3 L1090.0,1407.4 L1100.0,1407.5 L1110.0,1407.6 L1120.0,1407.7 L1130.0,1407.8 L1140.0,1407.9 L1150.0,1408.0 L1160.0,1408.1 L1170.0,1408.1 L1180.0,1408.2 L1190.0,1408.3 L1200.0,1408.4 L1210.0,1408.5 L1220.0,1408.6 L1230.0,1408.7 L1240.0,1408.7 L1250.0,1408.8 L1260.0,1408.9 L1270.0,1408.9 L1280.0,1409.0 L1290.0,1409.0 L1300.0,1409.0 L1310.0,1409.1 L1320.0,1409.1 L1330.0,1409.1 L1340.0,1409.2 L1350.0,1409.2 L1360.0,1409.3 L1370.0,1409.3 L1380.0,1409.3 L1390.0,1409.3 L1400.0,1409.4 L1410.0,1409.4 L1420.0,1409.4 L1430.0,1409.5 L1440.0,1409.5 L1450.0,1409.5 L1460.0,1409.5 L1470.0,1409.5 L1480.0,1409.6 L1490.0,1409.6 L1500.0,1409.6 L1510.0,1409.6 L1520.0,1409.6 L1530.0,1409.6 L1539.5,1409.6"/>
<path stroke="#7D4E4E" d="M337.2,71.5 L337.5,73.7 L337.8,81.0 L338.0,89.4 L338.2,97.7 L338.5,106.1 L338.8,114.4 L339.0,122.7 L339.2,131.1 L339.5,139.4 L339.8,147.8 L340.0,156.1 L340.2,164.4 L340.5,172.7 L340.8,181.1 L341.0,189.4 L341.2,197.7 L341.5,206.0 L341.8,214.3 L342.0,222.6 L342.2,230.9 L342.5,239.2 L342.8,247.5 L343.0,255.8 L343.2,264.1 L343.5,272.4 L343.8,280.7 L344.0,289.0 L344.2,297.3 L344.5,305.6 L344.8,314.1 L345.0,322.7 L345.2,331.4 L345.5,340.2 L345.8,349.1 L346.0,358.0 L346.2,366.9 L346.5,375.9 L346.8,384.8 L347.0,393.6 L347.2,402.4 L347.5,411.1 L347.8,419.6 L348.0,428.0 L348.2,436.2 L348.5,444.3 L348.8,452.2 L349.0,459.9 L349.2,467.5 L349.5,474.9 L349.8,482.1 L350.0,489.1 L350.2,495.9 L350.5,502.5 L350.8,509.0 L351.0,515.2 L351.2,521.3 L351.5,527.3 L351.8,533.0 L352.0,538.7 L352.2,544.3 L352.5,549.7 L352.8,555.1 L353.0,560.4 L353.2,565.6 L353.5,570.7 L353.8,575.8 L354.0,580.8 L354.2,585.8 L354.5,590.8 L354.8,595.7 L355.0,600.5 L355.2,605.4 L355.5,610.2 L355.8,614.9 L356.0,619.7 L356.2,624.4 L356.5,629.1 L356.8,633.8 L357.0,638.5 L357.2,643.2 L357.5,647.9 L357.8,652.6 L358.0,657.2 L358.2,661.9 L358.5,666.6 L358.8,671.3 L359.0,676.0 L359.2,680.7 L359.5,685.4 L359.8,690.2 L360.0,694.9 L360.2,699.7 L360.5,704.6 L360.8,709.4 L361.0,714.2 L361.2,719.1 L361.5,724.0 L361.8,728.9 L362.0,733.9 L362.2,738.8 L362.5,743.8 L362.8,748.7 L363.0,753.7 L363.2,758.7 L363.5,763.6 L363.8,768.6 L364.0,773.6 L364.2,778.5 L364.5,783.4 L364.8,788.3 L365.0,793.2 L365.2,798.0 L365.5,802.9 L365.8,807.7 L366.0,812.4 L366.2,817.2 L366.5,821.9 L366.8,826.5 L367.0,831.2 L367.2,835.8 L367.5,840.3 L367.8,844.8 L368.0,849.2 L368.2,853.7 L368.5,858.0 L368.8,862.4 L369.0,866.6 L369.2,870.9 L369.5,875.0 L369.8,879.2 L370.0,883.3 L370.2,887.3 L370.5,891.3 L370.8,895.3 L371.0,899.2 L371.2,903.0 L371.5,906.9 L371.8,910.6 L372.0,914.4 L372.2,918.0 L372.5,921.7 L372.8,925.2 L373.0,928.8 L373.2,932.3 L373.5,935.7 L373.8,939.1 L374.0,942.4 L374.2,945.7 L374.5,948.9 L374.8,952.1 L375.0,955.2 L375.2,958.3 L375.5,961.3 L375.8,964.4 L376.0,967.3 L376.2,970.3 L376.5,973.2 L376.8,976.1 L377.0,978.9 L377.2,981.8 L377.5,984.5 L377.8,987.3 L378.0,990.0 L378.2,992.8 L378.5,995.4 L378.8,998.1 L379.0,1000.7 L379.2,1003.4 L379.5,1005.9 L379.8,1008.5 L380.0,1011.1 L380.2,1013.6 L380.5,1016.1 L380.8,1018.5 L381.0,1021.0 L381.2,1023.4 L381.5,1025.7 L381.8,1028.1 L382.0,1030.4 L382.2,1032.7 L382.5,1035.0 L382.8,1037.3 L383.0,1039.6 L383.2,1041.8 L383.5,1044.0 L383.8,1046.2 L384.0,1048.4 L384.2,1050.5 L384.5,1052.7 L384.8,1054.8 L385.0,1056.9 L385.2,1059.0 L385.5,1061.1 L385.8,1063.1 L386.0,1065.2 L386.2,1067.2 L386.5,1069.2 L386.8,1071.2 L387.0,1073.2 L387.2,1075.2 L387.5,1077.1 L387.8,1079.1 L388.0,1081.0 L388.2,1082.9 L388.5,1084.8 L388.8,1086.7 L389.0,1088.6 L389.2,1090.4 L389.5,1092.2 L389.8,1094.0 L390.0,1095.7 L390.2,1097.5 L390.5,1099.2 L390.8,1100.8 L391.0,1102.5 L391.2,1104.2 L391.5,1105.8 L391.8,1107.5 L392.0,1109.2 L392.2,1110.8 L392.5,1112.5 L392.8,1114.2 L393.0,1116.0 L393.2,1117.7 L393.5,1119.5 L393.8,1121.3 L394.0,1123.0 L394.2,1124.8 L394.5,1126.5 L394.8,1128.3 L395.0,1129.9 L395.2,1131.6 L395.5,1133.1 L395.8,1134.7 L396.0,1136.2 L396.2,1137.7 L396.5,1139.1 L396.8,1140.5 L397.0,1141.9 L397.2,1143.3 L397.5,1144.7 L397.8,1146.1 L398.0,1147.5 L398.2,1148.9 L398.5,1150.2 L398.8,1151.6 L399.0,1152.9 L399.2,1154.2 L399.5,1155.5 L399.8,1156.8 L400.0,1158.1 L400.2,1159.4 L400.5,1160.7 L400.8,1162.0 L401.0,1163.2 L401.2,1164.4 L401.5,1165.6 L401.8,1166.9 L402.0,1168.0 L402.2,1169.2 L402.5,1170.4 L402.8,1171.6 L403.0,1172.7 L403.2,1173.9 L403.5,1175.0 L403.8,1176.1 L404.0,1177.2 L404.2,1178.3 L404.5,1179.4 L404.8,1180.5 L405.0,1181.6 L405.2,1182.6 L405.5,1183.7 L405.8,1184.7 L406.0,1185.7 L406.2,1186.7 L406.5,1187.7 L406.8,1188.7 L407.0,1189.6 L407.2,1190.6 L407.5,1191.6 L407.8,1192.5 L408.0,1193.4 L408.2,1194.3 L408.5,1195.2 L408.8,1196.1 L409.0,1197.0 L409.2,1197.9 L409.5,1198.7 L409.8,1199.6 L410.0,1200.4 L410.2,1201.3 L410.5,1202.1 L410.8,1202.9 L411.0,1203.7 L411.2,1204.6 L411.5,1205.4 L411.8,1206.1 L412.0,1206.9 L412.2,1207.7 L412.5,1208.5 L412.8,1209.3 L413.0,1210.0 L413.2,1210.8 L413.5,1211.5 L413.8,1212.2 L414.0,1213.0 L414.2,1213.7 L414.5,1214.4 L414.8,1215.1 L415.0,1215.8 L415.2,1216.5 L415.5,1217.2 L415.8,1217.9 L416.0,1218.5 L416.2,1219.2 L416.5,1219.8 L416.8,1220.5 L417.0,1221.1 L417.2,1221.7 L417.5,1222.3 L417.8,1223.0 L418.0,1223.6 L418.2,1224.1 L418.5,1224.7 L418.8,1225.3 L419.0,1225.8 L419.2,1226.4 L419.5,1227.0 L419.8,1227.5 L420.0,1228.0 L421.0,1230.1 L422.0,1232.1 L423.0,1234.0 L424.0,1235.9 L425.0,1237.7 L426.0,1239.6 L427.0,1241.3 L428.0,1242.9 L429.0,1244.3 L430.0,1245.6 L431.0,1246.7 L432.0,1247.7 L433.0,1248.5 L434.0,1249.1 L435.0,1249.7 L436.0,1250.2 L437.0,1250.6 L438.0,1251.0 L439.0,1251.4 L440.0,1251.7 L441.0,1252.1 L442.0,1252.4 L443.0,1252.8 L444.0,1253.0 L445.0,1253.1 L446.0,1253.2 L447.0,1253.0 L448.0,1252.8 L449.0,1252.6 L450.0,1252.2 L451.0,1251.9 L452.0,1251.5 L453.0,1251.1 L454.0,1250.7 L455.0,1250.3 L456.0,1249.9 L457.0,1249.5 L458.0,1249.0 L459.0,1248.6 L460.0,1248.1 L461.0,1247.6 L462.0,1247.0 L463.0,1246.4 L464.0,1245.8 L465.0,1245.1 L466.0,1244.5 L467.0,1243.8 L468.0,1243.1 L469.0,1242.3 L470.0,1241.6 L471.0,1240.8 L472.0,1240.1 L473.0,1239.2 L474.0,1238.4 L475.0,1237.5 L476.0,1236.6 L477.0,1235.6 L478.0,1234.7 L479.0,1233.7 L480.0,1232.7 L481.0,1231.8 L482.0,1230.8 L483.0,1229.9 L484.0,1228.9 L485.0,1228.0 L486.0,1227.0 L487.0,1226.0 L488.0,1225.0 L489.0,1224.0 L490.0,1223.0 L491.0,1222.0 L492.0,1220.9 L493.0,1219.9 L494.0,1218.8 L495.0,1217.8 L496.0,1216.7 L497.0,1215.7 L498.0,1214.6 L499.0,1213.5 L500.0,1212.3 L501.0,1211.2 L502.0,1210.1 L503.0,1208.9 L504.0,1207.8 L505.0,1206.6 L506.0,1205.5 L507.0,1204.3 L508.0,1203.2 L509.0,1202.0 L510.0,1200.9 L511.0,1199.8 L512.0,1198.6 L513.0,1197.5 L514.0,1196.4 L515.0,1195.3 L516.0,1194.1 L517.0,1193.0 L518.0,1191.9 L519.0,1190.8 L520.0,1189.6 L521.0,1188.5 L522.0,1187.3 L523.0,1186.1 L524.0,1185.0 L525.0,1183.8 L526.0,1182.7 L527.0,1181.5 L528.0,1180.3 L529.0,1179.2 L530.0,1178.0 L531.0,1176.9 L532.0,1175.7 L533.0,1174.6 L534.0,1173.4 L535.0,1172.3 L536.0,1171.1 L537.0,1170.0 L538.0,1168.8 L539.0,1167.7 L540.0,1166.5 L541.0,1165.4 L542.0,1164.3 L543.0,1163.2 L544.0,1162.1 L545.0,1161.1 L546.0,1160.0 L547.0,1159.0 L548.0,1158.0 L549.0,1157.0 L550.0,1156.1 L551.0,1155.1 L552.0,1154.2 L553.0,1153.2 L554.0,1152.3 L555.0,1151.4 L556.0,1150.6 L557.0,1149.7 L558.0,1148.9 L559.0,1148.0 L560.0,1147.2 L561.0,1146.4 L562.0,1145.5 L563.0,1144.8 L564.0,1144.0 L565.0,1143.2 L566.0,1142.5 L567.0,1141.7 L568.0,1141.0 L569.0,1140.3 L570.0,1139.7 L571.0,1139.0 L572.0,1138.4 L573.0,1137.8 L574.0,1137.2 L575.0,1136.6 L576.0,1136.0 L577.0,1135.4 L578.0,1134.8 L579.0,1134.3 L580.0,1133.7 L581.0,1133.2 L582.0,1132.7 L583.0,1132.2 L584.0,1131.7 L585.0,1131.2 L586.0,1130.7 L587.0,1130.3 L588.0,1129.9 L589.0,1129.5 L590.0,1129.1 L591.0,1128.8 L592.0,1128.5 L593.0,1128.2 L594.0,1127.9 L595.0,1127.7 L596.0,1127.4 L597.0,1127.2 L598.0,1127.0 L599.0,1126.8 L600.0,1126.6 L601.0,1126.4 L602.0,1126.2 L603.0,1126.1 L604.0,1125.9 L605.0,1125.8 L606.0,1125.7 L607.0,1125.7 L608.0,1125.6 L609.0,1125.6 L610.0,1125.6 L611.0,1125.6 L612.0,1125.7 L613.0,1125.8 L614.0,1125.9 L615.0,1126.0 L616.0,1126.2 L617.0,1126.4 L618.0,1126.6 L619.0,1126.8 L620.0,1127.0 L621.0,1127.3 L622.0,1127.5 L623.0,1127.8 L624.0,1128.1 L625.0,1128.4 L626.0,1128.8 L627.0,1129.1 L628.0,1129.5 L629.0,1129.9 L630.0,1130.4 L631.0,1130.8 L632.0,1131.3 L633.0,1131.8 L634.0,1132.3 L635.0,1132.9 L636.0,1133.4 L637.0,1133.9 L638.0,1134.5 L639.0,1135.1 L640.0,1135.7 L641.0,1136.3 L642.0,1137.0 L643.0,1137.7 L644.0,1138.4 L645.0,1139.1 L646.0,1139.8 L647.0,1140.6 L648.0,1141.5 L649.0,1142.3 L650.0,1143.2 L651.0,1144.1 L652.0,1145.1 L653.0,1146.1 L654.0,1147.1 L655.0,1148.1 L656.0,1149.2 L657.0,1150.3 L658.0,1151.5 L659.0,1152.7 L660.0,1154.0 L661.0,1155.3 L662.0,1156.7 L663.0,1158.3 L664.0,1159.9 L665.0,1161.5 L666.0,1163.1 L667.0,1164.8 L668.0,1166.4 L669.0,1168.0 L670.0,1169.7 L671.0,1171.4 L672.0,1173.1 L673.0,1174.8 L674.0,1176.5 L675.0,1178.3 L676.0,1180.1 L677.0,1181.9 L678.0,1183.8 L679.0,1185.7 L680.0,1187.6 L681.0,1189.5 L682.0,1191.4 L683.0,1193.3 L684.0,1195.2 L685.0,1197.2 L686.0,1199.1 L687.0,1201.1 L688.0,1203.1 L689.0,1205.1 L690.0,1207.1 L691.0,1209.1 L692.0,1211.1 L693.0,1213.2 L694.0,1215.2 L695.0,1217.3 L696.0,1219.3 L697.0,1221.4 L698.0,1223.4 L699.0,1225.4 L700.0,1227.4 L701.0,1229.4 L702.0,1231.3 L703.0,1233.3 L704.0,1235.3 L705.0,1237.2 L706.0,1239.2 L707.0,1241.2 L708.0,1243.2 L709.0,1245.2 L710.0,1247.2 L711.0,1249.3 L712.0,1251.3 L713.0,1253.4 L714.0,1255.6 L715.0,1257.7 L716.0,1259.8 L717.0,1262.0 L718.0,1264.1 L719.0,1266.3 L720.0,1268.4 L721.0,1270.5 L722.0,1272.5 L723.0,1274.6 L724.0,1276.6 L725.0,1278.7 L726.0,1280.7 L727.0,1282.7 L728.0,1284.7 L729.0,1286.6 L730.0,1288.6 L731.0,1290.6 L732.0,1292.5 L733.0,1294.5 L734.0,1296.4 L735.0,1298.4 L736.0,1300.4 L737.0,1302.3 L738.0,1304.3 L739.0,1306.3 L740.0,1308.2 L741.0,1310.2 L742.0,1312.2 L743.0,1314.2 L744.0,1316.3 L745.0,1318.3 L746.0,1320.3 L747.0,1322.4 L748.0,1324.4 L749.0,1326.5 L750.0,1328.5 L751.0,1330.6 L752.0,1332.7 L753.0,1334.7 L754.0,1336.8 L755.0,1338.8 L756.0,1340.8 L757.0,1342.9 L758.0,1344.9 L759.0,1346.9 L760.0,1349.0 L761.0,1351.1 L762.0,1353.2 L763.0,1355.2 L764.0,1357.3 L765.0,1359.3 L766.0,1361.2 L767.0,1363.1 L768.0,1365.0 L769.0,1366.8 L770.0,1368.6 L771.0,1370.3 L772.0,1372.0 L773.0,1373.7 L774.0,1375.4 L775.0,1377.0 L776.0,1378.5 L777.0,1380.0 L778.0,1381.4 L779.0,1382.7 L780.0,1384.0 L781.0,1385.3 L782.0,1386.5 L783.0,1387.6 L784.0,1388.7 L785.0,1389.8 L786.0,1390.8 L787.0,1391.8 L788.0,1392.7 L789.0,1393.5 L790.0,1394.3 L791.0,1395.1 L792.0,1395.7 L793.0,1396.4 L794.0,1397.0 L795.0,1397.6 L796.0,1398.1 L797.0,1398.6 L798.0,1399.1 L799.0,1399.6 L800.0,1400.0 L801.0,1400.3 L802.0,1400.7 L803.0,1401.0 L804.0,1401.2 L805.0,1401.5 L806.0,1401.7 L807.0,1402.0 L808.0,1402.2 L809.0,1402.4 L810.0,1402.6 L811.0,1402.8 L812.0,1402.9 L813.0,1403.1 L814.0,1403.2 L815.0,1403.3 L816.0,1403.5 L817.0,1403.6 L818.0,1403.7 L819.0,1403.8 L820.0,1403.9 L821.0,1404.0 L822.0,1404.1 L823.0,1404.2 L824.0,1404.2 L825.0,1404.3 L826.0,1404.4 L827.0,1404.4 L828.0,1404.5 L829.0,1404.5 L830.0,1404.6 L831.0,1404.6 L832.0,1404.6 L833.0,1404.6 L834.0,1404.7 L835.0,1404.7 L836.0,1404.7 L837.0,1404.7 L838.0,1404.8 L839.0,1404.8 L840.0,1404.8 L850.0,1405.0 L860.0,1405.2 L870.0,1405.3 L880.0,1405.5 L890.0,1405.6 L900.0,1405.7 L910.0,1405.8 L920.0,1405.9 L930.0,1405.9 L940.0,1406.0 L950.0,1406.1 L960.0,1406.2 L970.0,1406.2 L980.0,1406.3 L990.0,1406.4 L1000.0,1406.5 L1010.0,1406.6 L1020.0,1406.7 L1030.0,1406.8 L1040.0,1406.9 L1050.0,1407.0 L1060.0,1407.1 L1070.0,1407.2 L1080.0,1407.3 L1090.0,1407.4 L1100.0,1407.5 L1110.0,1407.6 L1120.0,1407.7 L1130.0,1407.8 L1140.0,1407.9 L1150.0,1408.0 L1160.0,1408.1 L1170.0,1408.1 L1180.0,1408.2 L1190.0,1408.3 L1200.0,1408.4 L1210.0,1408.5 L1220.0,1408.6 L1230.0,1408.7 L1240.0,1408.7 L1250.0,1408.8 L1260.0,1408.9 L1270.0,1408.9 L1280.0,1409.0 L1290.0,1409.0 L1300.0,1409.0 L1310.0,1409.1 L1320.0,1409.1 L1330.0,1409.1 L1340.0,1409.2 L1350.0,1409.2 L1360.0,1409.3 L1370.0,1409.3 L1380.0,1409.3 L1390.0,1409.3 L1400.0,1409.4 L1410.0,1409.4 L1420.0,1409.4 L1430.0,1409.5 L1440.0,1409.5 L1450.0,1409.5 L1460.0,1409.5 L1470.0,1409.5 L1480.0,1409.6 L1490.0,1409.6 L1500.0,1409.6 L1510.0,1409.6 L1520.0,1409.6 L1530.0,1409.6 L1539.5,1409.6"/>
<path stroke="#8E8E00" d="M337.2,71.5 L337.5,74.0 L337.8,81.6 L338.0,89.9 L338.2,98.3 L338.5,106.7 L338.8,115.0 L339.0,123.4 L339.2,131.8 L339.5,140.1 L339.8,148.5 L340.0,156.8 L340.2,165.2 L340.5,173.5 L340.8,181.9 L341.0,190.2 L341.2,198.5 L341.5,206.9 L341.8,215.2 L342.0,223.5 L342.2,231.9 L342.5,240.2 L342.8,248.5 L343.0,256.8 L343.2,265.1 L343.5,273.4 L343.8,281.8 L344.0,290.1 L344.2,298.4 L344.5,306.7 L344.8,315.2 L345.0,323.9 L345.2,332.6 L345.5,341.5 L345.8,350.4 L346.0,359.3 L346.2,368.3 L346.5,377.3 L346.8,386.2 L347.0,395.0 L347.2,403.8 L347.5,412.5 L347.8,421.0 L348.0,429.4 L348.2,437.7 L348.5,445.7 L348.8,453.6 L349.0,461.4 L349.2,468.9 L349.5,476.2 L349.8,483.4 L350.0,490.4 L350.2,497.2 L350.5,503.9 L350.8,510.3 L351.0,516.5 L351.2,522.6 L351.5,528.5 L351.8,534.2 L352.0,539.9 L352.2,545.4 L352.5,550.9 L352.8,556.2 L353.0,561.5 L353.2,566.7 L353.5,571.9 L353.8,576.9 L354.0,582.0 L354.2,586.9 L354.5,591.9 L354.8,596.8 L355.0,601.6 L355.2,606.5 L355.5,611.3 L355.8,616.0 L356.0,620.8 L356.2,625.5 L356.5,630.2 L356.8,634.9 L357.0,639.6 L357.2,644.3 L357.5,649.0 L357.8,653.7 L358.0,658.4 L358.2,663.1 L358.5,667.8 L358.8,672.5 L359.0,677.2 L359.2,681.9 L359.5,686.6 L359.8,691.4 L360.0,696.2 L360.2,701.0 L360.5,705.8 L360.8,710.7 L361.0,715.5 L361.2,720.4 L361.5,725.4 L361.8,730.3 L362.0,735.2 L362.2,740.2 L362.5,745.1 L362.8,750.1 L363.0,755.1 L363.2,760.0 L363.5,765.0 L363.8,770.0 L364.0,774.9 L364.2,779.8 L364.5,784.7 L364.8,789.6 L365.0,794.5 L365.2,799.4 L365.5,804.2 L365.8,809.0 L366.0,813.7 L366.2,818.5 L366.5,823.2 L366.8,827.8 L367.0,832.5 L367.2,837.0 L367.5,841.6 L367.8,846.1 L368.0,850.5 L368.2,854.9 L368.5,859.3 L368.8,863.6 L369.0,867.9 L369.2,872.1 L369.5,876.3 L369.8,880.5 L370.0,884.6 L370.2,888.6 L370.5,892.6 L370.8,896.6 L371.0,900.5 L371.2,904.4 L371.5,908.2 L371.8,912.0 L372.0,915.7 L372.2,919.4 L372.5,923.1 L372.8,926.7 L373.0,930.2 L373.2,933.7 L373.5,937.1 L373.8,940.5 L374.0,943.9 L374.2,947.2 L374.5,950.4 L374.8,953.6 L375.0,956.8 L375.2,959.9 L375.5,963.0 L375.8,966.0 L376.0,969.0 L376.2,972.0 L376.5,975.0 L376.8,977.9 L377.0,980.8 L377.2,983.6 L377.5,986.4 L377.8,989.2 L378.0,992.0 L378.2,994.7 L378.5,997.4 L378.8,1000.1 L379.0,1002.8 L379.2,1005.5 L379.5,1008.1 L379.8,1010.7 L380.0,1013.2 L380.2,1015.8 L380.5,1018.3 L380.8,1020.8 L381.0,1023.3 L381.2,1025.7 L381.5,1028.1 L381.8,1030.5 L382.0,1032.8 L382.2,1035.1 L382.5,1037.4 L382.8,1039.7 L383.0,1042.0 L383.2,1044.2 L383.5,1046.5 L383.8,1048.7 L384.0,1050.9 L384.2,1053.0 L384.5,1055.2 L384.8,1057.3 L385.0,1059.4 L385.2,1061.5 L385.5,1063.6 L385.8,1065.7 L386.0,1067.8 L386.2,1069.8 L386.5,1071.8 L386.8,1073.8 L387.0,1075.8 L387.2,1077.8 L387.5,1079.8 L387.8,1081.8 L388.0,1083.7 L388.2,1085.6 L388.5,1087.6 L388.8,1089.5 L389.0,1091.4 L389.2,1093.2 L389.5,1095.1 L389.8,1096.8 L390.0,1098.6 L390.2,1100.3 L390.5,1102.0 L390.8,1103.7 L391.0,1105.4 L391.2,1107.1 L391.5,1108.7 L391.8,1110.4 L392.0,1112.1 L392.2,1113.8 L392.5,1115.5 L392.8,1117.2 L393.0,1119.0 L393.2,1120.8 L393.5,1122.6 L393.8,1124.4 L394.0,1126.2 L394.2,1128.0 L394.5,1129.8 L394.8,1131.6 L395.0,1133.3 L395.2,1135.0 L395.5,1136.7 L395.8,1138.3 L396.0,1139.8 L396.2,1141.4 L396.5,1142.8 L396.8,1144.3 L397.0,1145.7 L397.2,1147.2 L397.5,1148.6 L397.8,1150.0 L398.0,1151.4 L398.2,1152.7 L398.5,1154.1 L398.8,1155.5 L399.0,1156.8 L399.2,1158.1 L399.5,1159.4 L399.8,1160.7 L400.0,1162.0 L400.2,1163.3 L400.5,1164.6 L400.8,1165.8 L401.0,1167.1 L401.2,1168.3 L401.5,1169.5 L401.8,1170.7 L402.0,1171.9 L402.2,1173.1 L402.5,1174.3 L402.8,1175.5 L403.0,1176.6 L403.2,1177.8 L403.5,1178.9 L403.8,1180.0 L404.0,1181.1 L404.2,1182.3 L404.5,1183.3 L404.8,1184.4 L405.0,1185.5 L405.2,1186.5 L405.5,1187.6 L405.8,1188.6 L406.0,1189.7 L406.2,1190.7 L406.5,1191.7 L406.8,1192.7 L407.0,1193.6 L407.2,1194.6 L407.5,1195.6 L407.8,1196.5 L408.0,1197.5 L408.2,1198.4 L408.5,1199.3 L408.8,1200.2 L409.0,1201.1 L409.2,1202.0 L409.5,1202.9 L409.8,1203.8 L410.0,1204.6 L410.2,1205.5 L410.5,1206.3 L410.8,1207.2 L411.0,1208.0 L411.2,1208.9 L411.5,1209.7 L411.8,1210.5 L412.0,1211.3 L412.2,1212.2 L412.5,1213.0 L412.8,1213.7 L413.0,1214.5 L413.2,1215.3 L413.5,1216.1 L413.8,1216.8 L414.0,1217.6 L414.2,1218.3 L414.5,1219.1 L414.8,1219.8 L415.0,1220.5 L415.2,1221.2 L415.5,1222.0 L415.8,1222.7 L416.0,1223.3 L416.2,1224.0 L416.5,1224.7 L416.8,1225.4 L417.0,1226.0 L417.2,1226.7 L417.5,1227.3 L417.8,1227.9 L418.0,1228.5 L418.2,1229.2 L418.5,1229.7 L418.8,1230.3 L419.0,1230.9 L419.2,1231.5 L419.5,1232.1 L419.8,1232.6 L420.0,1233.2 L421.0,1235.3 L422.0,1237.4 L423.0,1239.4 L424.0,1241.4 L425.0,1243.3 L426.0,1245.2 L427.0,1247.1 L428.0,1248.8 L429.0,1250.3 L430.0,1251.7 L431.0,1253.0 L432.0,1254.0 L433.0,1254.9 L434.0,1255.7 L435.0,1256.3 L436.0,1256.9 L437.0,1257.4 L438.0,1257.9 L439.0,1258.4 L440.0,1258.8 L441.0,1259.3 L442.0,1259.8 L443.0,1260.2 L444.0,1260.5 L445.0,1260.8 L446.0,1260.9 L447.0,1260.9 L448.0,1260.8 L449.0,1260.6 L450.0,1260.4 L451.0,1260.2 L452.0,1259.9 L453.0,1259.6 L454.0,1259.4 L455.0,1259.1 L456.0,1258.9 L457.0,1258.6 L458.0,1258.3 L459.0,1257.9 L460.0,1257.6 L461.0,1257.1 L462.0,1256.7 L463.0,1256.2 L464.0,1255.8 L465.0,1255.2 L466.0,1254.7 L467.0,1254.1 L468.0,1253.6 L469.0,1253.0 L470.0,1252.4 L471.0,1251.7 L472.0,1251.1 L473.0,1250.4 L474.0,1249.6 L475.0,1248.9 L476.0,1248.1 L477.0,1247.2 L478.0,1246.4 L479.0,1245.6 L480.0,1244.7 L481.0,1243.9 L482.0,1243.0 L483.0,1242.2 L484.0,1241.3 L485.0,1240.5 L486.0,1239.6 L487.0,1238.7 L488.0,1237.8 L489.0,1236.9 L490.0,1236.0 L491.0,1235.1 L492.0,1234.1 L493.0,1233.2 L494.0,1232.2 L495.0,1231.3 L496.0,1230.3 L497.0,1229.4 L498.0,1228.4 L499.0,1227.4 L500.0,1226.4 L501.0,1225.3 L502.0,1224.3 L503.0,1223.3 L504.0,1222.2 L505.0,1221.2 L506.0,1220.2 L507.0,1219.1 L508.0,1218.1 L509.0,1217.1 L510.0,1216.1 L511.0,1215.1 L512.0,1214.1 L513.0,1213.1 L514.0,1212.1 L515.0,1211.1 L516.0,1210.1 L517.0,1209.1 L518.0,1208.1 L519.0,1207.1 L520.0,1206.1 L521.0,1205.1 L522.0,1204.0 L523.0,1203.0 L524.0,1202.0 L525.0,1201.0 L526.0,1199.9 L527.0,1198.9 L528.0,1197.9 L529.0,1196.9 L530.0,1195.8 L531.0,1194.8 L532.0,1193.8 L533.0,1192.8 L534.0,1191.7 L535.0,1190.7 L536.0,1189.7 L537.0,1188.6 L538.0,1187.6 L539.0,1186.5 L540.0,1185.5 L541.0,1184.5 L542.0,1183.5 L543.0,1182.5 L544.0,1181.5 L545.0,1180.5 L546.0,1179.6 L547.0,1178.7 L548.0,1177.8 L549.0,1176.9 L550.0,1176.0 L551.0,1175.1 L552.0,1174.3 L553.0,1173.4 L554.0,1172.6 L555.0,1171.8 L556.0,1171.0 L557.0,1170.2 L558.0,1169.4 L559.0,1168.6 L560.0,1167.9 L561.0,1167.1 L562.0,1166.4 L563.0,1165.7 L564.0,1164.9 L565.0,1164.3 L566.0,1163.6 L567.0,1162.9 L568.0,1162.3 L569.0,1161.6 L570.0,1161.0 L571.0,1160.4 L572.0,1159.9 L573.0,1159.3 L574.0,1158.8 L575.0,1158.2 L576.0,1157.7 L577.0,1157.2 L578.0,1156.7 L579.0,1156.2 L580.0,1155.7 L581.0,1155.2 L582.0,1154.7 L583.0,1154.3 L584.0,1153.8 L585.0,1153.4 L586.0,1153.0 L587.0,1152.6 L588.0,1152.2 L589.0,1151.8 L590.0,1151.5 L591.0,1151.2 L592.0,1150.9 L593.0,1150.7 L594.0,1150.5 L595.0,1150.3 L596.0,1150.1 L597.0,1149.9 L598.0,1149.7 L599.0,1149.5 L600.0,1149.3 L601.0,1149.2 L602.0,1149.0 L603.0,1148.9 L604.0,1148.8 L605.0,1148.7 L606.0,1148.6 L607.0,1148.5 L608.0,1148.5 L609.0,1148.5 L610.0,1148.5 L611.0,1148.5 L612.0,1148.6 L613.0,1148.6 L614.0,1148.8 L615.0,1148.9 L616.0,1149.0 L617.0,1149.2 L618.0,1149.4 L619.0,1149.6 L620.0,1149.8 L621.0,1150.0 L622.0,1150.2 L623.0,1150.5 L624.0,1150.7 L625.0,1151.0 L626.0,1151.4 L627.0,1151.7 L628.0,1152.1 L629.0,1152.5 L630.0,1152.9 L631.0,1153.4 L632.0,1153.8 L633.0,1154.3 L634.0,1154.8 L635.0,1155.3 L636.0,1155.8 L637.0,1156.3 L638.0,1156.9 L639.0,1157.4 L640.0,1158.0 L641.0,1158.6 L642.0,1159.2 L643.0,1159.8 L644.0,1160.5 L645.0,1161.2 L646.0,1161.9 L647.0,1162.6 L648.0,1163.4 L649.0,1164.2 L650.0,1165.0 L651.0,1165.9 L652.0,1166.7 L653.0,1167.7 L654.0,1168.6 L655.0,1169.6 L656.0,1170.6 L657.0,1171.6 L658.0,1172.7 L659.0,1173.8 L660.0,1174.9 L661.0,1176.2 L662.0,1177.4 L663.0,1178.8 L664.0,1180.3 L665.0,1181.7 L666.0,1183.2 L667.0,1184.7 L668.0,1186.2 L669.0,1187.7 L670.0,1189.2 L671.0,1190.7 L672.0,1192.3 L673.0,1193.9 L674.0,1195.5 L675.0,1197.1 L676.0,1198.8 L677.0,1200.5 L678.0,1202.2 L679.0,1203.9 L680.0,1205.7 L681.0,1207.5 L682.0,1209.2 L683.0,1211.0 L684.0,1212.8 L685.0,1214.6 L686.0,1216.4 L687.0,1218.2 L688.0,1220.1 L689.0,1221.9 L690.0,1223.8 L691.0,1225.6 L692.0,1227.5 L693.0,1229.4 L694.0,1231.3 L695.0,1233.2 L696.0,1235.1 L697.0,1237.0 L698.0,1238.8 L699.0,1240.6 L700.0,1242.5 L701.0,1244.3 L702.0,1246.1 L703.0,1247.9 L704.0,1249.6 L705.0,1251.4 L706.0,1253.2 L707.0,1255.0 L708.0,1256.9 L709.0,1258.7 L710.0,1260.6 L711.0,1262.5 L712.0,1264.4 L713.0,1266.4 L714.0,1268.3 L715.0,1270.3 L716.0,1272.3 L717.0,1274.3 L718.0,1276.3 L719.0,1278.3 L720.0,1280.2 L721.0,1282.2 L722.0,1284.1 L723.0,1286.0 L724.0,1287.9 L725.0,1289.8 L726.0,1291.6 L727.0,1293.5 L728.0,1295.3 L729.0,1297.1 L730.0,1298.9 L731.0,1300.7 L732.0,1302.5 L733.0,1304.3 L734.0,1306.0 L735.0,1307.8 L736.0,1309.6 L737.0,1311.4 L738.0,1313.2 L739.0,1315.0 L740.0,1316.8 L741.0,1318.6 L742.0,1320.5 L743.0,1322.3 L744.0,1324.2 L745.0,1326.0 L746.0,1327.9 L747.0,1329.8 L748.0,1331.7 L749.0,1333.6 L750.0,1335.5 L751.0,1337.4 L752.0,1339.3 L753.0,1341.2 L754.0,1343.1 L755.0,1344.9 L756.0,1346.8 L757.0,1348.7 L758.0,1350.5 L759.0,1352.4 L760.0,1354.3 L761.0,1356.2 L762.0,1358.1 L763.0,1360.0 L764.0,1361.9 L765.0,1363.7 L766.0,1365.5 L767.0,1367.3 L768.0,1369.0 L769.0,1370.6 L770.0,1372.2 L771.0,1373.8 L772.0,1375.4 L773.0,1377.0 L774.0,1378.5 L775.0,1379.9 L776.0,1381.3 L777.0,1382.7 L778.0,1384.0 L779.0,1385.2 L780.0,1386.3 L781.0,1387.4 L782.0,1388.5 L783.0,1389.6 L784.0,1390.6 L785.0,1391.5 L786.0,1392.4 L787.0,1393.3 L788.0,1394.1 L789.0,1394.9 L790.0,1395.6 L791.0,1396.2 L792.0,1396.8 L793.0,1397.4 L794.0,1397.9 L795.0,1398.4 L796.0,1398.9 L797.0,1399.4 L798.0,1399.8 L799.0,1400.2 L800.0,1400.5 L801.0,1400.8 L802.0,1401.1 L803.0,1401.4 L804.0,1401.6 L805.0,1401.9 L806.0,1402.1 L807.0,1402.3 L808.0,1402.5 L809.0,1402.7 L810.0,1402.8 L811.0,1403.0 L812.0,1403.1 L813.0,1403.3 L814.0,1403.4 L815.0,1403.5 L816.0,1403.6 L817.0,1403.7 L818.0,1403.8 L819.0,1403.9 L820.0,1404.0 L821.0,1404.0 L822.0,1404.1 L823.0,1404.2 L824.0,1404.3 L825.0,1404.3 L826.0,1404.4 L827.0,1404.4 L828.0,1404.5 L829.0,1404.5 L830.0,1404.6 L831.0,1404.6 L832.0,1404.6 L833.0,1404.6 L834.0,1404.7 L835.0,1404.7 L836.0,1404.7 L837.0,1404.7 L838.0,1404.8 L839.0,1404.8 L840.0,1404.8 L850.0,1405.0 L860.0,1405.2 L870.0,1405.3 L880.0,1405.4 L890.0,1405.6 L900.0,1405.7 L910.0,1405.8 L920.0,1405.8 L930.0,1405.9 L940.0,1406.0 L950.0,1406.1 L960.0,1406.2 L970.0,1406.2 L980.0,1406.3 L990.0,1406.4 L1000.0,1406.5 L1010.0,1406.6 L1020.0,1406.7 L1030.0,1406.8 L1040.0,1406.9 L1050.0,1407.0 L1060.0,1407.1 L1070.0,1407.2 L1080.0,1407.3 L1090.0,1407.4 L1100.0,1407.5 L1110.0,1407.6 L1120.0,1407.7 L1130.0,1407.8 L1140.0,1407.9 L1150.0,1408.0 L1160.0,1408.1 L1170.0,1408.1 L1180.0,1408.2 L1190.0,1408.3 L1200.0,1408.4 L1210.0,1408.5 L1220.0,1408.6 L1230.0,1408.7 L1240.0,1408.7 L1250.0,1408.8 L1260.0,1408.9 L1270.0,1408.9 L1280.0,1409.0 L1290.0,1409.0 L1300.0,1409.0 L1310.0,1409.1 L1320.0,1409.1 L1330.0,1409.1 L1340.0,1409.2 L1350.0,1409.2 L1360.0,1409.3 L1370.0,1409.3 L1380.0,1409.3 L1390.0,1409.3 L1400.0,1409.4 L1410.0,1409.4 L1420.0,1409.4 L1430.0,1409.5 L1440.0,1409.5 L1450.0,1409.5 L1460.0,1409.5 L1470.0,1409.5 L1480.0,1409.6 L1490.0,1409.6 L1500.0,1409.6 L1510.0,1409.6 L1520.0,1409.6 L1530.0,1409.6 L1539.5,1409.6"/>
<path stroke="#FB6501" d="M337.2,71.5 L337.5,74.3 L337.8,82.1 L338.0,90.5 L338.2,98.9 L338.5,107.2 L338.8,115.6 L339.0,124.0 L339.2,132.4 L339.5,140.8 L339.8,149.1 L340.0,157.5 L340.2,165.9 L340.5,174.2 L340.8,182.6 L341.0,190.9 L341.2,199.3 L341.5,207.6 L341.8,216.0 L342.0,224.3 L342.2,232.7 L342.5,241.0 L342.8,249.4 L343.0,257.7 L343.2,266.0 L343.5,274.4 L343.8,282.7 L344.0,291.0 L344.2,299.3 L344.5,307.7 L344.8,316.3 L345.0,324.9 L345.2,333.7 L345.5,342.6 L345.8,351.5 L346.0,360.5 L346.2,369.5 L346.5,378.5 L346.8,387.4 L347.0,396.3 L347.2,405.1 L347.5,413.8 L347.8,422.3 L348.0,430.7 L348.2,439.0 L348.5,447.0 L348.8,454.9 L349.0,462.6 L349.2,470.1 L349.5,477.5 L349.8,484.7 L350.0,491.6 L350.2,498.4 L350.5,505.0 L350.8,511.4 L351.0,517.6 L351.2,523.7 L351.5,529.6 L351.8,535.3 L352.0,541.0 L352.2,546.5 L352.5,551.9 L352.8,557.3 L353.0,562.5 L353.2,567.7 L353.5,572.9 L353.8,577.9 L354.0,583.0 L354.2,587.9 L354.5,592.9 L354.8,597.8 L355.0,602.6 L355.2,607.5 L355.5,612.3 L355.8,617.0 L356.0,621.8 L356.2,626.5 L356.5,631.2 L356.8,636.0 L357.0,640.7 L357.2,645.3 L357.5,650.0 L357.8,654.7 L358.0,659.4 L358.2,664.1 L358.5,668.8 L358.8,673.5 L359.0,678.2 L359.2,683.0 L359.5,687.7 L359.8,692.5 L360.0,697.3 L360.2,702.1 L360.5,707.0 L360.8,711.8 L361.0,716.7 L361.2,721.6 L361.5,726.6 L361.8,731.5 L362.0,736.4 L362.2,741.4 L362.5,746.4 L362.8,751.3 L363.0,756.3 L363.2,761.3 L363.5,766.2 L363.8,771.2 L364.0,776.1 L364.2,781.0 L364.5,786.0 L364.8,790.8 L365.0,795.7 L365.2,800.6 L365.5,805.4 L365.8,810.2 L366.0,814.9 L366.2,819.6 L366.5,824.3 L366.8,829.0 L367.0,833.6 L367.2,838.2 L367.5,842.7 L367.8,847.2 L368.0,851.7 L368.2,856.1 L368.5,860.5 L368.8,864.8 L369.0,869.1 L369.2,873.3 L369.5,877.5 L369.8,881.6 L370.0,885.7 L370.2,889.8 L370.5,893.8 L370.8,897.8 L371.0,901.7 L371.2,905.6 L371.5,909.4 L371.8,913.2 L372.0,917.0 L372.2,920.7 L372.5,924.3 L372.8,927.9 L373.0,931.5 L373.2,935.0 L373.5,938.5 L373.8,941.9 L374.0,945.2 L374.2,948.5 L374.5,951.8 L374.8,955.0 L375.0,958.2 L375.2,961.4 L375.5,964.5 L375.8,967.5 L376.0,970.6 L376.2,973.6 L376.5,976.6 L376.8,979.5 L377.0,982.4 L377.2,985.3 L377.5,988.1 L377.8,991.0 L378.0,993.8 L378.2,996.5 L378.5,999.3 L378.8,1002.0 L379.0,1004.7 L379.2,1007.4 L379.5,1010.0 L379.8,1012.6 L380.0,1015.2 L380.2,1017.8 L380.5,1020.3 L380.8,1022.9 L381.0,1025.3 L381.2,1027.8 L381.5,1030.2 L381.8,1032.6 L382.0,1035.0 L382.2,1037.3 L382.5,1039.6 L382.8,1041.9 L383.0,1044.2 L383.2,1046.5 L383.5,1048.7 L383.8,1050.9 L384.0,1053.1 L384.2,1055.3 L384.5,1057.5 L384.8,1059.6 L385.0,1061.8 L385.2,1063.9 L385.5,1066.0 L385.8,1068.1 L386.0,1070.1 L386.2,1072.2 L386.5,1074.2 L386.8,1076.2 L387.0,1078.3 L387.2,1080.3 L387.5,1082.2 L387.8,1084.2 L388.0,1086.2 L388.2,1088.1 L388.5,1090.1 L388.8,1092.0 L389.0,1093.9 L389.2,1095.8 L389.5,1097.6 L389.8,1099.4 L390.0,1101.2 L390.2,1102.9 L390.5,1104.6 L390.8,1106.3 L391.0,1108.0 L391.2,1109.7 L391.5,1111.4 L391.8,1113.1 L392.0,1114.8 L392.2,1116.5 L392.5,1118.3 L392.8,1120.0 L393.0,1121.8 L393.2,1123.7 L393.5,1125.5 L393.8,1127.3 L394.0,1129.2 L394.2,1131.1 L394.5,1132.9 L394.8,1134.7 L395.0,1136.5 L395.2,1138.2 L395.5,1139.9 L395.8,1141.6 L396.0,1143.2 L396.2,1144.8 L396.5,1146.3 L396.8,1147.8 L397.0,1149.3 L397.2,1150.7 L397.5,1152.2 L397.8,1153.6 L398.0,1155.0 L398.2,1156.4 L398.5,1157.7 L398.8,1159.1 L399.0,1160.4 L399.2,1161.8 L399.5,1163.1 L399.8,1164.4 L400.0,1165.7 L400.2,1167.0 L400.5,1168.3 L400.8,1169.5 L401.0,1170.8 L401.2,1172.0 L401.5,1173.2 L401.8,1174.4 L402.0,1175.6 L402.2,1176.8 L402.5,1178.0 L402.8,1179.2 L403.0,1180.4 L403.2,1181.5 L403.5,1182.7 L403.8,1183.8 L404.0,1184.9 L404.2,1186.0 L404.5,1187.1 L404.8,1188.2 L405.0,1189.3 L405.2,1190.3 L405.5,1191.4 L405.8,1192.4 L406.0,1193.5 L406.2,1194.5 L406.5,1195.5 L406.8,1196.5 L407.0,1197.5 L407.2,1198.5 L407.5,1199.5 L407.8,1200.5 L408.0,1201.4 L408.2,1202.4 L408.5,1203.3 L408.8,1204.2 L409.0,1205.2 L409.2,1206.1 L409.5,1207.0 L409.8,1207.9 L410.0,1208.8 L410.2,1209.7 L410.5,1210.6 L410.8,1211.4 L411.0,1212.3 L411.2,1213.2 L411.5,1214.1 L411.8,1214.9 L412.0,1215.8 L412.2,1216.6 L412.5,1217.4 L412.8,1218.3 L413.0,1219.1 L413.2,1219.9 L413.5,1220.7 L413.8,1221.5 L414.0,1222.3 L414.2,1223.0 L414.5,1223.8 L414.8,1224.6 L415.0,1225.3 L415.2,1226.1 L415.5,1226.8 L415.8,1227.5 L416.0,1228.3 L416.2,1229.0 L416.5,1229.7 L416.8,1230.4 L417.0,1231.1 L417.2,1231.7 L417.5,1232.4 L417.8,1233.0 L418.0,1233.7 L418.2,1234.3 L418.5,1235.0 L418.8,1235.6 L419.0,1236.2 L419.2,1236.8 L419.5,1237.4 L419.8,1238.0 L420.0,1238.6 L421.0,1240.8 L422.0,1243.0 L423.0,1245.1 L424.0,1247.2 L425.0,1249.2 L426.0,1251.3 L427.0,1253.3 L428.0,1255.2 L429.0,1256.9 L430.0,1258.4 L431.0,1259.8 L432.0,1261.0 L433.0,1262.0 L434.0,1262.9 L435.0,1263.6 L436.0,1264.3 L437.0,1265.0 L438.0,1265.6 L439.0,1266.2 L440.0,1266.7 L441.0,1267.3 L442.0,1267.9 L443.0,1268.4 L444.0,1268.9 L445.0,1269.2 L446.0,1269.4 L447.0,1269.5 L448.0,1269.5 L449.0,1269.4 L450.0,1269.3 L451.0,1269.2 L452.0,1269.0 L453.0,1268.9 L454.0,1268.7 L455.0,1268.5 L456.0,1268.4 L457.0,1268.2 L458.0,1267.9 L459.0,1267.7 L460.0,1267.4 L461.0,1267.1 L462.0,1266.7 L463.0,1266.3 L464.0,1265.9 L465.0,1265.4 L466.0,1265.0 L467.0,1264.5 L468.0,1264.0 L469.0,1263.5 L470.0,1263.0 L471.0,1262.4 L472.0,1261.8 L473.0,1261.2 L474.0,1260.5 L475.0,1259.8 L476.0,1259.1 L477.0,1258.3 L478.0,1257.6 L479.0,1256.8 L480.0,1256.0 L481.0,1255.2 L482.0,1254.4 L483.0,1253.6 L484.0,1252.8 L485.0,1252.1 L486.0,1251.3 L487.0,1250.5 L488.0,1249.6 L489.0,1248.8 L490.0,1247.9 L491.0,1247.1 L492.0,1246.2 L493.0,1245.3 L494.0,1244.5 L495.0,1243.6 L496.0,1242.7 L497.0,1241.8 L498.0,1240.9 L499.0,1240.0 L500.0,1239.1 L501.0,1238.1 L502.0,1237.2 L503.0,1236.2 L504.0,1235.3 L505.0,1234.4 L506.0,1233.4 L507.0,1232.5 L508.0,1231.6 L509.0,1230.7 L510.0,1229.8 L511.0,1228.9 L512.0,1228.0 L513.0,1227.1 L514.0,1226.2 L515.0,1225.3 L516.0,1224.4 L517.0,1223.6 L518.0,1222.7 L519.0,1221.8 L520.0,1220.9 L521.0,1220.0 L522.0,1219.1 L523.0,1218.2 L524.0,1217.3 L525.0,1216.4 L526.0,1215.5 L527.0,1214.6 L528.0,1213.7 L529.0,1212.8 L530.0,1211.9 L531.0,1211.0 L532.0,1210.1 L533.0,1209.1 L534.0,1208.2 L535.0,1207.3 L536.0,1206.3 L537.0,1205.4 L538.0,1204.4 L539.0,1203.5 L540.0,1202.5 L541.0,1201.6 L542.0,1200.7 L543.0,1199.8 L544.0,1198.9 L545.0,1198.0 L546.0,1197.2 L547.0,1196.3 L548.0,1195.5 L549.0,1194.7 L550.0,1193.9 L551.0,1193.1 L552.0,1192.3 L553.0,1191.6 L554.0,1190.8 L555.0,1190.1 L556.0,1189.3 L557.0,1188.6 L558.0,1187.9 L559.0,1187.2 L560.0,1186.5 L561.0,1185.8 L562.0,1185.1 L563.0,1184.5 L564.0,1183.8 L565.0,1183.2 L566.0,1182.6 L567.0,1181.9 L568.0,1181.4 L569.0,1180.8 L570.0,1180.2 L571.0,1179.7 L572.0,1179.2 L573.0,1178.7 L574.0,1178.2 L575.0,1177.7 L576.0,1177.2 L577.0,1176.7 L578.0,1176.3 L579.0,1175.8 L580.0,1175.4 L581.0,1175.0 L582.0,1174.6 L583.0,1174.2 L584.0,1173.8 L585.0,1173.4 L586.0,1173.0 L587.0,1172.7 L588.0,1172.3 L589.0,1172.0 L590.0,1171.7 L591.0,1171.4 L592.0,1171.1 L593.0,1170.9 L594.0,1170.7 L595.0,1170.6 L596.0,1170.4 L597.0,1170.2 L598.0,1170.1 L599.0,1169.9 L600.0,1169.8 L601.0,1169.6 L602.0,1169.5 L603.0,1169.4 L604.0,1169.3 L605.0,1169.2 L606.0,1169.1 L607.0,1169.1 L608.0,1169.1 L609.0,1169.0 L610.0,1169.0 L611.0,1169.1 L612.0,1169.1 L613.0,1169.2 L614.0,1169.3 L615.0,1169.4 L616.0,1169.6 L617.0,1169.7 L618.0,1169.9 L619.0,1170.1 L620.0,1170.2 L621.0,1170.4 L622.0,1170.6 L623.0,1170.8 L624.0,1171.1 L625.0,1171.4 L626.0,1171.7 L627.0,1172.0 L628.0,1172.4 L629.0,1172.8 L630.0,1173.2 L631.0,1173.6 L632.0,1174.1 L633.0,1174.6 L634.0,1175.0 L635.0,1175.5 L636.0,1176.0 L637.0,1176.5 L638.0,1177.0 L639.0,1177.5 L640.0,1178.0 L641.0,1178.6 L642.0,1179.2 L643.0,1179.8 L644.0,1180.4 L645.0,1181.1 L646.0,1181.7 L647.0,1182.4 L648.0,1183.1 L649.0,1183.9 L650.0,1184.6 L651.0,1185.4 L652.0,1186.2 L653.0,1187.1 L654.0,1187.9 L655.0,1188.8 L656.0,1189.8 L657.0,1190.7 L658.0,1191.7 L659.0,1192.7 L660.0,1193.8 L661.0,1194.9 L662.0,1196.1 L663.0,1197.3 L664.0,1198.6 L665.0,1199.9 L666.0,1201.2 L667.0,1202.6 L668.0,1203.9 L669.0,1205.3 L670.0,1206.7 L671.0,1208.1 L672.0,1209.6 L673.0,1211.0 L674.0,1212.5 L675.0,1214.0 L676.0,1215.5 L677.0,1217.1 L678.0,1218.7 L679.0,1220.3 L680.0,1222.0 L681.0,1223.6 L682.0,1225.3 L683.0,1226.9 L684.0,1228.6 L685.0,1230.3 L686.0,1231.9 L687.0,1233.6 L688.0,1235.3 L689.0,1237.1 L690.0,1238.8 L691.0,1240.5 L692.0,1242.3 L693.0,1244.0 L694.0,1245.8 L695.0,1247.5 L696.0,1249.3 L697.0,1251.0 L698.0,1252.7 L699.0,1254.4 L700.0,1256.0 L701.0,1257.7 L702.0,1259.3 L703.0,1260.9 L704.0,1262.6 L705.0,1264.2 L706.0,1265.9 L707.0,1267.5 L708.0,1269.2 L709.0,1270.9 L710.0,1272.6 L711.0,1274.4 L712.0,1276.2 L713.0,1278.0 L714.0,1279.8 L715.0,1281.7 L716.0,1283.5 L717.0,1285.4 L718.0,1287.2 L719.0,1289.1 L720.0,1290.9 L721.0,1292.7 L722.0,1294.5 L723.0,1296.3 L724.0,1298.0 L725.0,1299.8 L726.0,1301.5 L727.0,1303.2 L728.0,1304.8 L729.0,1306.5 L730.0,1308.1 L731.0,1309.8 L732.0,1311.4 L733.0,1313.1 L734.0,1314.7 L735.0,1316.3 L736.0,1318.0 L737.0,1319.6 L738.0,1321.2 L739.0,1322.9 L740.0,1324.5 L741.0,1326.2 L742.0,1327.9 L743.0,1329.6 L744.0,1331.3 L745.0,1333.0 L746.0,1334.7 L747.0,1336.5 L748.0,1338.2 L749.0,1340.0 L750.0,1341.7 L751.0,1343.5 L752.0,1345.2 L753.0,1347.0 L754.0,1348.7 L755.0,1350.5 L756.0,1352.2 L757.0,1353.9 L758.0,1355.6 L759.0,1357.3 L760.0,1359.1 L761.0,1360.8 L762.0,1362.6 L763.0,1364.3 L764.0,1366.0 L765.0,1367.7 L766.0,1369.4 L767.0,1371.0 L768.0,1372.5 L769.0,1374.0 L770.0,1375.5 L771.0,1377.0 L772.0,1378.4 L773.0,1379.9 L774.0,1381.2 L775.0,1382.6 L776.0,1383.9 L777.0,1385.1 L778.0,1386.3 L779.0,1387.4 L780.0,1388.4 L781.0,1389.4 L782.0,1390.4 L783.0,1391.3 L784.0,1392.2 L785.0,1393.1 L786.0,1393.9 L787.0,1394.7 L788.0,1395.4 L789.0,1396.1 L790.0,1396.7 L791.0,1397.3 L792.0,1397.8 L793.0,1398.3 L794.0,1398.8 L795.0,1399.2 L796.0,1399.6 L797.0,1400.0 L798.0,1400.4 L799.0,1400.7 L800.0,1401.0 L801.0,1401.3 L802.0,1401.5 L803.0,1401.8 L804.0,1402.0 L805.0,1402.2 L806.0,1402.4 L807.0,1402.6 L808.0,1402.7 L809.0,1402.9 L810.0,1403.0 L811.0,1403.2 L812.0,1403.3 L813.0,1403.4 L814.0,1403.5 L815.0,1403.6 L816.0,1403.7 L817.0,1403.8 L818.0,1403.9 L819.0,1404.0 L820.0,1404.0 L821.0,1404.1 L822.0,1404.2 L823.0,1404.2 L824.0,1404.3 L825.0,1404.4 L826.0,1404.4 L827.0,1404.5 L828.0,1404.5 L829.0,1404.5 L830.0,1404.6 L831.0,1404.6 L832.0,1404.6 L833.0,1404.6 L834.0,1404.7 L835.0,1404.7 L836.0,1404.7 L837.0,1404.7 L838.0,1404.8 L839.0,1404.8 L840.0,1404.8 L850.0,1405.0 L860.0,1405.2 L870.0,1405.3 L880.0,1405.4 L890.0,1405.6 L900.0,1405.7 L910.0,1405.8 L920.0,1405.8 L930.0,1405.9 L940.0,1406.0 L950.0,1406.1 L960.0,1406.2 L970.0,1406.2 L980.0,1406.3 L990.0,1406.4 L1000.0,1406.5 L1010.0,1406.6 L1020.0,1406.7 L1030.0,1406.8 L1040.0,1406.9 L1050.0,1407.0 L1060.0,1407.1 L1070.0,1407.2 L1080.0,1407.3 L1090.0,1407.4 L1100.0,1407.5 L1110.0,1407.6 L1120.0,1407.7 L1130.0,1407.8 L1140.0,1407.9 L1150.0,1408.0 L1160.0,1408.1 L1170.0,1408.1 L1180.0,1408.2 L1190.0,1408.3 L1200.0,1408.4 L1210.0,1408.5 L1220.0,1408.6 L1230.0,1408.7 L1240.0,1408.7 L1250.0,1408.8 L1260.0,1408.9 L1270.0,1408.9 L1280.0,1409.0 L1290.0,1409.0 L1300.0,1409.0 L1310.0,1409.1 L1320.0,1409.1 L1330.0,1409.1 L1340.0,1409.2 L1350.0,1409.2 L1360.0,1409.3 L1370.0,1409.3 L1380.0,1409.3 L1390.0,1409.3 L1400.0,1409.4 L1410.0,1409.4 L1420.0,1409.4 L1430.0,1409.5 L1440.0,1409.5 L1450.0,1409.5 L1460.0,1409.5 L1470.0,1409.5 L1480.0,1409.6 L1490.0,1409.6 L1500.0,1409.6 L1510.0,1409.6 L1520.0,1409.6 L1530.0,1409.6 L1539.5,1409.6"/>
<path stroke="#6699CC" d="M337.0,71.5 L337.2,71.5 L337.5,74.6 L337.8,82.8 L338.0,91.2 L338.2,99.6 L338.5,108.0 L338.8,116.4 L339.0,124.8 L339.2,133.2 L339.5,141.6 L339.8,150.0 L340.0,158.4 L340.2,166.8 L340.5,175.2 L340.8,183.6 L341.0,192.0 L341.2,200.3 L341.5,208.7 L341.8,217.1 L342.0,225.5 L342.2,233.8 L342.5,242.2 L342.8,250.6 L343.0,258.9 L343.2,267.3 L343.5,275.6 L343.8,284.0 L344.0,292.3 L344.2,300.7 L344.5,309.1 L344.8,317.7 L345.0,326.4 L345.2,335.3 L345.5,344.2 L345.8,353.2 L346.0,362.2 L346.2,371.2 L346.5,380.2 L346.8,389.2 L347.0,398.1 L347.2,406.9 L347.5,415.6 L347.8,424.1 L348.0,432.5 L348.2,440.8 L348.5,448.8 L348.8,456.7 L349.0,464.4 L349.2,471.9 L349.5,479.2 L349.8,486.4 L350.0,493.3 L350.2,500.1 L350.5,506.7 L350.8,513.1 L351.0,519.2 L351.2,525.2 L351.5,531.1 L351.8,536.8 L352.0,542.5 L352.2,548.0 L352.5,553.4 L352.8,558.7 L353.0,564.0 L353.2,569.2 L353.5,574.3 L353.8,579.4 L354.0,584.4 L354.2,589.3 L354.5,594.3 L354.8,599.2 L355.0,604.0 L355.2,608.9 L355.5,613.7 L355.8,618.4 L356.0,623.2 L356.2,627.9 L356.5,632.6 L356.8,637.4 L357.0,642.1 L357.2,646.8 L357.5,651.5 L357.8,656.2 L358.0,660.9 L358.2,665.6 L358.5,670.3 L358.8,675.0 L359.0,679.7 L359.2,684.5 L359.5,689.3 L359.8,694.0 L360.0,698.9 L360.2,703.7 L360.5,708.6 L360.8,713.5 L361.0,718.4 L361.2,723.3 L361.5,728.2 L361.8,733.2 L362.0,738.1 L362.2,743.1 L362.5,748.1 L362.8,753.0 L363.0,758.0 L363.2,763.0 L363.5,767.9 L363.8,772.9 L364.0,777.8 L364.2,782.7 L364.5,787.7 L364.8,792.5 L365.0,797.4 L365.2,802.2 L365.5,807.0 L365.8,811.8 L366.0,816.6 L366.2,821.3 L366.5,826.0 L366.8,830.6 L367.0,835.2 L367.2,839.8 L367.5,844.3 L367.8,848.8 L368.0,853.3 L368.2,857.7 L368.5,862.1 L368.8,866.4 L369.0,870.7 L369.2,874.9 L369.5,879.1 L369.8,883.3 L370.0,887.4 L370.2,891.5 L370.5,895.5 L370.8,899.5 L371.0,903.4 L371.2,907.3 L371.5,911.2 L371.8,915.0 L372.0,918.7 L372.2,922.5 L372.5,926.1 L372.8,929.8 L373.0,933.3 L373.2,936.8 L373.5,940.3 L373.8,943.8 L374.0,947.1 L374.2,950.5 L374.5,953.8 L374.8,957.0 L375.0,960.2 L375.2,963.4 L375.5,966.6 L375.8,969.7 L376.0,972.8 L376.2,975.8 L376.5,978.8 L376.8,981.8 L377.0,984.7 L377.2,987.7 L377.5,990.5 L377.8,993.4 L378.0,996.2 L378.2,999.1 L378.5,1001.8 L378.8,1004.6 L379.0,1007.3 L379.2,1010.0 L379.5,1012.7 L379.8,1015.4 L380.0,1018.0 L380.2,1020.6 L380.5,1023.2 L380.8,1025.8 L381.0,1028.3 L381.2,1030.7 L381.5,1033.2 L381.8,1035.6 L382.0,1038.0 L382.2,1040.4 L382.5,1042.7 L382.8,1045.0 L383.0,1047.3 L383.2,1049.6 L383.5,1051.9 L383.8,1054.1 L384.0,1056.3 L384.2,1058.5 L384.5,1060.7 L384.8,1062.9 L385.0,1065.0 L385.2,1067.2 L385.5,1069.3 L385.8,1071.4 L386.0,1073.5 L386.2,1075.5 L386.5,1077.6 L386.8,1079.6 L387.0,1081.7 L387.2,1083.7 L387.5,1085.7 L387.8,1087.7 L388.0,1089.7 L388.2,1091.7 L388.5,1093.6 L388.8,1095.6 L389.0,1097.5 L389.2,1099.5 L389.5,1101.3 L389.8,1103.1 L390.0,1104.9 L390.2,1106.6 L390.5,1108.4 L390.8,1110.1 L391.0,1111.8 L391.2,1113.5 L391.5,1115.2 L391.8,1116.9 L392.0,1118.7 L392.2,1120.4 L392.5,1122.2 L392.8,1124.0 L393.0,1125.8 L393.2,1127.7 L393.5,1129.6 L393.8,1131.5 L394.0,1133.5 L394.2,1135.4 L394.5,1137.3 L394.8,1139.2 L395.0,1141.0 L395.2,1142.8 L395.5,1144.6 L395.8,1146.4 L396.0,1148.0 L396.2,1149.7 L396.5,1151.3 L396.8,1152.8 L397.0,1154.3 L397.2,1155.8 L397.5,1157.3 L397.8,1158.8 L398.0,1160.2 L398.2,1161.6 L398.5,1163.0 L398.8,1164.4 L399.0,1165.7 L399.2,1167.0 L399.5,1168.4 L399.8,1169.7 L400.0,1171.0 L400.2,1172.3 L400.5,1173.6 L400.8,1174.8 L401.0,1176.1 L401.2,1177.3 L401.5,1178.6 L401.8,1179.8 L402.0,1181.0 L402.2,1182.2 L402.5,1183.4 L402.8,1184.6 L403.0,1185.8 L403.2,1187.0 L403.5,1188.1 L403.8,1189.3 L404.0,1190.4 L404.2,1191.5 L404.5,1192.6 L404.8,1193.7 L405.0,1194.8 L405.2,1195.9 L405.5,1197.0 L405.8,1198.1 L406.0,1199.1 L406.2,1200.2 L406.5,1201.2 L406.8,1202.2 L407.0,1203.3 L407.2,1204.3 L407.5,1205.3 L407.8,1206.3 L408.0,1207.3 L408.2,1208.3 L408.5,1209.2 L408.8,1210.2 L409.0,1211.2 L409.2,1212.1 L409.5,1213.1 L409.8,1214.0 L410.0,1215.0 L410.2,1215.9 L410.5,1216.9 L410.8,1217.8 L411.0,1218.7 L411.2,1219.6 L411.5,1220.5 L411.8,1221.5 L412.0,1222.4 L412.2,1223.2 L412.5,1224.1 L412.8,1225.0 L413.0,1225.9 L413.2,1226.8 L413.5,1227.6 L413.8,1228.5 L414.0,1229.3 L414.2,1230.1 L414.5,1230.9 L414.8,1231.8 L415.0,1232.6 L415.2,1233.4 L415.5,1234.2 L415.8,1234.9 L416.0,1235.7 L416.2,1236.5 L416.5,1237.2 L416.8,1238.0 L417.0,1238.7 L417.2,1239.4 L417.5,1240.1 L417.8,1240.8 L418.0,1241.5 L418.2,1242.2 L418.5,1242.9 L418.8,1243.6 L419.0,1244.2 L419.2,1244.9 L419.5,1245.5 L419.8,1246.2 L420.0,1246.8 L421.0,1249.3 L422.0,1251.6 L423.0,1254.0 L424.0,1256.2 L425.0,1258.5 L426.0,1260.8 L427.0,1263.0 L428.0,1265.1 L429.0,1267.1 L430.0,1268.9 L431.0,1270.5 L432.0,1271.9 L433.0,1273.1 L434.0,1274.2 L435.0,1275.2 L436.0,1276.1 L437.0,1276.9 L438.0,1277.7 L439.0,1278.5 L440.0,1279.2 L441.0,1280.0 L442.0,1280.7 L443.0,1281.4 L444.0,1282.0 L445.0,1282.5 L446.0,1282.9 L447.0,1283.0 L448.0,1283.2 L449.0,1283.2 L450.0,1283.3 L451.0,1283.3 L452.0,1283.3 L453.0,1283.3 L454.0,1283.2 L455.0,1283.2 L456.0,1283.1 L457.0,1283.0 L458.0,1282.8 L459.0,1282.6 L460.0,1282.4 L461.0,1282.2 L462.0,1281.9 L463.0,1281.5 L464.0,1281.2 L465.0,1280.8 L466.0,1280.4 L467.0,1280.0 L468.0,1279.6 L469.0,1279.1 L470.0,1278.7 L471.0,1278.2 L472.0,1277.7 L473.0,1277.1 L474.0,1276.5 L475.0,1275.8 L476.0,1275.1 L477.0,1274.4 L478.0,1273.7 L479.0,1273.0 L480.0,1272.3 L481.0,1271.5 L482.0,1270.8 L483.0,1270.1 L484.0,1269.4 L485.0,1268.7 L486.0,1267.9 L487.0,1267.2 L488.0,1266.4 L489.0,1265.7 L490.0,1264.9 L491.0,1264.1 L492.0,1263.3 L493.0,1262.5 L494.0,1261.7 L495.0,1260.9 L496.0,1260.2 L497.0,1259.4 L498.0,1258.6 L499.0,1257.8 L500.0,1257.0 L501.0,1256.1 L502.0,1255.3 L503.0,1254.5 L504.0,1253.7 L505.0,1252.9 L506.0,1252.1 L507.0,1251.3 L508.0,1250.5 L509.0,1249.7 L510.0,1249.0 L511.0,1248.2 L512.0,1247.5 L513.0,1246.8 L514.0,1246.0 L515.0,1245.3 L516.0,1244.6 L517.0,1243.9 L518.0,1243.2 L519.0,1242.4 L520.0,1241.7 L521.0,1241.0 L522.0,1240.2 L523.0,1239.5 L524.0,1238.8 L525.0,1238.1 L526.0,1237.3 L527.0,1236.6 L528.0,1235.9 L529.0,1235.1 L530.0,1234.4 L531.0,1233.6 L532.0,1232.9 L533.0,1232.1 L534.0,1231.3 L535.0,1230.5 L536.0,1229.7 L537.0,1228.9 L538.0,1228.1 L539.0,1227.3 L540.0,1226.5 L541.0,1225.7 L542.0,1224.9 L543.0,1224.1 L544.0,1223.3 L545.0,1222.6 L546.0,1221.8 L547.0,1221.1 L548.0,1220.4 L549.0,1219.7 L550.0,1219.0 L551.0,1218.4 L552.0,1217.7 L553.0,1217.0 L554.0,1216.4 L555.0,1215.7 L556.0,1215.1 L557.0,1214.5 L558.0,1213.9 L559.0,1213.3 L560.0,1212.6 L561.0,1212.0 L562.0,1211.4 L563.0,1210.9 L564.0,1210.3 L565.0,1209.7 L566.0,1209.2 L567.0,1208.7 L568.0,1208.1 L569.0,1207.7 L570.0,1207.2 L571.0,1206.7 L572.0,1206.3 L573.0,1205.9 L574.0,1205.4 L575.0,1205.0 L576.0,1204.6 L577.0,1204.2 L578.0,1203.8 L579.0,1203.5 L580.0,1203.1 L581.0,1202.8 L582.0,1202.4 L583.0,1202.1 L584.0,1201.8 L585.0,1201.4 L586.0,1201.1 L587.0,1200.8 L588.0,1200.5 L589.0,1200.2 L590.0,1200.0 L591.0,1199.7 L592.0,1199.5 L593.0,1199.3 L594.0,1199.2 L595.0,1199.0 L596.0,1198.9 L597.0,1198.8 L598.0,1198.7 L599.0,1198.6 L600.0,1198.4 L601.0,1198.4 L602.0,1198.3 L603.0,1198.2 L604.0,1198.1 L605.0,1198.0 L606.0,1198.0 L607.0,1198.0 L608.0,1197.9 L609.0,1197.9 L610.0,1197.9 L611.0,1197.9 L612.0,1198.0 L613.0,1198.1 L614.0,1198.1 L615.0,1198.2 L616.0,1198.4 L617.0,1198.5 L618.0,1198.6 L619.0,1198.8 L620.0,1198.9 L621.0,1199.1 L622.0,1199.3 L623.0,1199.4 L624.0,1199.7 L625.0,1199.9 L626.0,1200.2 L627.0,1200.5 L628.0,1200.9 L629.0,1201.3 L630.0,1201.7 L631.0,1202.1 L632.0,1202.5 L633.0,1202.9 L634.0,1203.4 L635.0,1203.8 L636.0,1204.3 L637.0,1204.7 L638.0,1205.2 L639.0,1205.7 L640.0,1206.2 L641.0,1206.7 L642.0,1207.2 L643.0,1207.8 L644.0,1208.4 L645.0,1208.9 L646.0,1209.5 L647.0,1210.2 L648.0,1210.8 L649.0,1211.5 L650.0,1212.2 L651.0,1212.9 L652.0,1213.6 L653.0,1214.3 L654.0,1215.1 L655.0,1215.9 L656.0,1216.7 L657.0,1217.5 L658.0,1218.4 L659.0,1219.3 L660.0,1220.2 L661.0,1221.2 L662.0,1222.2 L663.0,1223.2 L664.0,1224.3 L665.0,1225.4 L666.0,1226.6 L667.0,1227.7 L668.0,1228.9 L669.0,1230.1 L670.0,1231.3 L671.0,1232.5 L672.0,1233.8 L673.0,1235.1 L674.0,1236.4 L675.0,1237.7 L676.0,1239.1 L677.0,1240.5 L678.0,1241.9 L679.0,1243.4 L680.0,1244.8 L681.0,1246.3 L682.0,1247.8 L683.0,1249.3 L684.0,1250.8 L685.0,1252.2 L686.0,1253.7 L687.0,1255.2 L688.0,1256.8 L689.0,1258.3 L690.0,1259.9 L691.0,1261.4 L692.0,1263.0 L693.0,1264.5 L694.0,1266.1 L695.0,1267.6 L696.0,1269.1 L697.0,1270.6 L698.0,1272.1 L699.0,1273.6 L700.0,1275.0 L701.0,1276.5 L702.0,1277.9 L703.0,1279.3 L704.0,1280.7 L705.0,1282.2 L706.0,1283.6 L707.0,1285.1 L708.0,1286.5 L709.0,1288.0 L710.0,1289.5 L711.0,1291.1 L712.0,1292.7 L713.0,1294.3 L714.0,1295.9 L715.0,1297.6 L716.0,1299.2 L717.0,1300.9 L718.0,1302.6 L719.0,1304.2 L720.0,1305.9 L721.0,1307.5 L722.0,1309.1 L723.0,1310.7 L724.0,1312.2 L725.0,1313.8 L726.0,1315.3 L727.0,1316.8 L728.0,1318.2 L729.0,1319.7 L730.0,1321.1 L731.0,1322.5 L732.0,1324.0 L733.0,1325.4 L734.0,1326.8 L735.0,1328.2 L736.0,1329.6 L737.0,1331.1 L738.0,1332.5 L739.0,1333.9 L740.0,1335.4 L741.0,1336.8 L742.0,1338.3 L743.0,1339.8 L744.0,1341.3 L745.0,1342.8 L746.0,1344.3 L747.0,1345.8 L748.0,1347.4 L749.0,1348.9 L750.0,1350.5 L751.0,1352.0 L752.0,1353.6 L753.0,1355.1 L754.0,1356.7 L755.0,1358.2 L756.0,1359.7 L757.0,1361.2 L758.0,1362.7 L759.0,1364.2 L760.0,1365.8 L761.0,1367.3 L762.0,1368.9 L763.0,1370.4 L764.0,1371.9 L765.0,1373.4 L766.0,1374.8 L767.0,1376.2 L768.0,1377.6 L769.0,1378.9 L770.0,1380.2 L771.0,1381.4 L772.0,1382.7 L773.0,1383.9 L774.0,1385.1 L775.0,1386.3 L776.0,1387.4 L777.0,1388.5 L778.0,1389.5 L779.0,1390.4 L780.0,1391.3 L781.0,1392.2 L782.0,1393.0 L783.0,1393.8 L784.0,1394.6 L785.0,1395.3 L786.0,1396.0 L787.0,1396.6 L788.0,1397.2 L789.0,1397.8 L790.0,1398.3 L791.0,1398.8 L792.0,1399.2 L793.0,1399.6 L794.0,1399.9 L795.0,1400.3 L796.0,1400.6 L797.0,1400.9 L798.0,1401.2 L799.0,1401.5 L800.0,1401.7 L801.0,1402.0 L802.0,1402.3 L803.0,1402.6 L804.0,1402.9 L805.0,1403.1 L806.0,1403.4 L807.0,1403.6 L808.0,1403.8 L809.0,1404.1 L810.0,1404.3 L811.0,1404.5 L812.0,1404.7 L813.0,1404.9 L814.0,1405.1 L815.0,1405.2 L816.0,1405.4 L817.0,1405.6 L818.0,1405.7 L819.0,1405.9 L820.0,1406.0 L821.0,1406.2 L822.0,1406.3 L823.0,1406.4 L824.0,1406.6 L825.0,1406.7 L826.0,1406.9 L827.0,1407.0 L828.0,1407.1 L829.0,1407.2 L830.0,1407.4 L831.0,1407.4 L832.0,1407.4 L833.0,1407.5 L834.0,1407.5 L835.0,1407.5 L836.0,1407.5 L837.0,1407.6 L838.0,1407.6 L839.0,1407.6 L840.0,1407.6 L850.0,1407.8 L860.0,1408.0 L870.0,1408.1 L880.0,1408.2 L890.0,1408.3 L900.0,1408.4 L910.0,1408.5 L920.0,1408.6 L930.0,1408.7 L940.0,1408.8 L950.0,1408.9 L960.0,1409.0 L970.0,1409.0 L980.0,1409.1 L990.0,1409.2 L1000.0,1409.3 L1010.0,1409.4 L1020.0,1409.5 L1030.0,1409.6 L1040.0,1409.7 L1050.0,1409.8 L1060.0,1409.9 L1070.0,1410.0 L1080.0,1410.1 L1090.0,1409.3 L1100.0,1408.4 L1110.0,1407.6 L1120.0,1407.7 L1130.0,1407.8 L1140.0,1407.9 L1150.0,1408.0 L1160.0,1408.1 L1170.0,1408.1 L1180.0,1408.2 L1190.0,1408.3 L1200.0,1408.4 L1210.0,1408.5 L1220.0,1408.6 L1230.0,1408.7 L1240.0,1408.7 L1250.0,1408.8 L1260.0,1408.9 L1270.0,1408.9 L1280.0,1409.0 L1290.0,1409.0 L1300.0,1409.0 L1310.0,1409.1 L1320.0,1409.1 L1330.0,1409.1 L1340.0,1409.2 L1350.0,1409.2 L1360.0,1409.3 L1370.0,1409.3 L1380.0,1409.3 L1390.0,1409.3 L1400.0,1409.4 L1410.0,1409.4 L1420.0,1409.4 L1430.0,1409.5 L1440.0,1409.5 L1450.0,1409.5 L1460.0,1409.5 L1470.0,1409.5 L1480.0,1409.6 L1490.0,1409.6 L1500.0,1409.6 L1510.0,1409.6 L1520.0,1409.6 L1530.0,1409.6 L1539.5,1409.6"/>
<path stroke="#6FB802" d="M337.0,71.5 L337.2,71.5 L337.5,74.9 L337.8,83.3 L338.0,91.7 L338.2,100.2 L338.5,108.6 L338.8,117.0 L339.0,125.4 L339.2,133.9 L339.5,142.3 L339.8,150.7 L340.0,159.1 L340.2,167.5 L340.5,175.9 L340.8,184.3 L341.0,192.7 L341.2,201.1 L341.5,209.5 L341.8,217.9 L342.0,226.3 L342.2,234.7 L342.5,243.0 L342.8,251.4 L343.0,259.8 L343.2,268.2 L343.5,276.6 L343.8,284.9 L344.0,293.3 L344.2,301.7 L344.5,310.1 L344.8,318.8 L345.0,327.5 L345.2,336.4 L345.5,345.3 L345.8,354.4 L346.0,363.4 L346.2,372.5 L346.5,381.5 L346.8,390.5 L347.0,399.4 L347.2,408.2 L347.5,416.9 L347.8,425.4 L348.0,433.8 L348.2,442.1 L348.5,450.1 L348.8,458.0 L349.0,465.7 L349.2,473.2 L349.5,480.5 L349.8,487.6 L350.0,494.6 L350.2,501.3 L350.5,507.9 L350.8,514.2 L351.0,520.4 L351.2,526.3 L351.5,532.2 L351.8,537.9 L352.0,543.5 L352.2,549.0 L352.5,554.4 L352.8,559.8 L353.0,565.0 L353.2,570.2 L353.5,575.3 L353.8,580.4 L354.0,585.4 L354.2,590.3 L354.5,595.3 L354.8,600.2 L355.0,605.0 L355.2,609.8 L355.5,614.6 L355.8,619.4 L356.0,624.2 L356.2,628.9 L356.5,633.7 L356.8,638.4 L357.0,643.1 L357.2,647.8 L357.5,652.5 L357.8,657.2 L358.0,661.9 L358.2,666.6 L358.5,671.3 L358.8,676.1 L359.0,680.8 L359.2,685.6 L359.5,690.3 L359.8,695.1 L360.0,700.0 L360.2,704.8 L360.5,709.7 L360.8,714.6 L361.0,719.5 L361.2,724.5 L361.5,729.4 L361.8,734.4 L362.0,739.3 L362.2,744.3 L362.5,749.3 L362.8,754.3 L363.0,759.2 L363.2,764.2 L363.5,769.2 L363.8,774.1 L364.0,779.0 L364.2,784.0 L364.5,788.9 L364.8,793.7 L365.0,798.6 L365.2,803.4 L365.5,808.2 L365.8,813.0 L366.0,817.7 L366.2,822.5 L366.5,827.1 L366.8,831.8 L367.0,836.4 L367.2,841.0 L367.5,845.5 L367.8,850.0 L368.0,854.4 L368.2,858.8 L368.5,863.2 L368.8,867.5 L369.0,871.8 L369.2,876.1 L369.5,880.3 L369.8,884.4 L370.0,888.6 L370.2,892.6 L370.5,896.7 L370.8,900.7 L371.0,904.6 L371.2,908.5 L371.5,912.4 L371.8,916.2 L372.0,920.0 L372.2,923.7 L372.5,927.4 L372.8,931.0 L373.0,934.6 L373.2,938.1 L373.5,941.6 L373.8,945.1 L374.0,948.5 L374.2,951.8 L374.5,955.2 L374.8,958.4 L375.0,961.7 L375.2,964.9 L375.5,968.0 L375.8,971.2 L376.0,974.3 L376.2,977.3 L376.5,980.4 L376.8,983.4 L377.0,986.4 L377.2,989.3 L377.5,992.2 L377.8,995.1 L378.0,998.0 L378.2,1000.8 L378.5,1003.6 L378.8,1006.4 L379.0,1009.2 L379.2,1011.9 L379.5,1014.6 L379.8,1017.3 L380.0,1020.0 L380.2,1022.6 L380.5,1025.2 L380.8,1027.8 L381.0,1030.3 L381.2,1032.8 L381.5,1035.3 L381.8,1037.7 L382.0,1040.1 L382.2,1042.5 L382.5,1044.9 L382.8,1047.2 L383.0,1049.5 L383.2,1051.8 L383.5,1054.1 L383.8,1056.3 L384.0,1058.5 L384.2,1060.8 L384.5,1062.9 L384.8,1065.1 L385.0,1067.3 L385.2,1069.4 L385.5,1071.6 L385.8,1073.7 L386.0,1075.8 L386.2,1077.8 L386.5,1079.9 L386.8,1082.0 L387.0,1084.0 L387.2,1086.1 L387.5,1088.1 L387.8,1090.1 L388.0,1092.1 L388.2,1094.1 L388.5,1096.1 L388.8,1098.0 L389.0,1100.0 L389.2,1101.9 L389.5,1103.8 L389.8,1105.6 L390.0,1107.4 L390.2,1109.2 L390.5,1110.9 L390.8,1112.6 L391.0,1114.3 L391.2,1116.1 L391.5,1117.8 L391.8,1119.5 L392.0,1121.3 L392.2,1123.0 L392.5,1124.8 L392.8,1126.7 L393.0,1128.5 L393.2,1130.4 L393.5,1132.4 L393.8,1134.3 L394.0,1136.3 L394.2,1138.2 L394.5,1140.2 L394.8,1142.1 L395.0,1144.0 L395.2,1145.9 L395.5,1147.7 L395.8,1149.5 L396.0,1151.2 L396.2,1152.9 L396.5,1154.5 L396.8,1156.1 L397.0,1157.7 L397.2,1159.2 L397.5,1160.7 L397.8,1162.1 L398.0,1163.6 L398.2,1165.0 L398.5,1166.4 L398.8,1167.7 L399.0,1169.1 L399.2,1170.4 L399.5,1171.8 L399.8,1173.1 L400.0,1174.4 L400.2,1175.7 L400.5,1176.9 L400.8,1178.2 L401.0,1179.4 L401.2,1180.7 L401.5,1181.9 L401.8,1183.1 L402.0,1184.4 L402.2,1185.6 L402.5,1186.8 L402.8,1188.0 L403.0,1189.1 L403.2,1190.3 L403.5,1191.5 L403.8,1192.6 L404.0,1193.7 L404.2,1194.9 L404.5,1196.0 L404.8,1197.1 L405.0,1198.2 L405.2,1199.3 L405.5,1200.3 L405.8,1201.4 L406.0,1202.5 L406.2,1203.5 L406.5,1204.5 L406.8,1205.6 L407.0,1206.6 L407.2,1207.6 L407.5,1208.6 L407.8,1209.7 L408.0,1210.7 L408.2,1211.6 L408.5,1212.6 L408.8,1213.6 L409.0,1214.6 L409.2,1215.6 L409.5,1216.5 L409.8,1217.5 L410.0,1218.5 L410.2,1219.4 L410.5,1220.4 L410.8,1221.3 L411.0,1222.3 L411.2,1223.2 L411.5,1224.1 L411.8,1225.1 L412.0,1226.0 L412.2,1226.9 L412.5,1227.8 L412.8,1228.7 L413.0,1229.6 L413.2,1230.5 L413.5,1231.3 L413.8,1232.2 L414.0,1233.1 L414.2,1233.9 L414.5,1234.7 L414.8,1235.6 L415.0,1236.4 L415.2,1237.2 L415.5,1238.0 L415.8,1238.8 L416.0,1239.6 L416.2,1240.4 L416.5,1241.1 L416.8,1241.9 L417.0,1242.6 L417.2,1243.4 L417.5,1244.1 L417.8,1244.8 L418.0,1245.5 L418.2,1246.2 L418.5,1246.9 L418.8,1247.6 L419.0,1248.2 L419.2,1248.9 L419.5,1249.6 L419.8,1250.2 L420.0,1250.8 L421.0,1253.3 L422.0,1255.8 L423.0,1258.1 L424.0,1260.4 L425.0,1262.7 L426.0,1265.1 L427.0,1267.4 L428.0,1269.6 L429.0,1271.6 L430.0,1273.5 L431.0,1275.2 L432.0,1276.6 L433.0,1277.9 L434.0,1279.0 L435.0,1280.1 L436.0,1281.0 L437.0,1281.9 L438.0,1282.8 L439.0,1283.6 L440.0,1284.4 L441.0,1285.3 L442.0,1286.1 L443.0,1286.9 L444.0,1287.6 L445.0,1288.2 L446.0,1288.6 L447.0,1288.9 L448.0,1289.1 L449.0,1289.3 L450.0,1289.4 L451.0,1289.6 L452.0,1289.7 L453.0,1289.8 L454.0,1289.9 L455.0,1290.0 L456.0,1290.0 L457.0,1290.0 L458.0,1290.0 L459.0,1290.0 L460.0,1289.9 L461.0,1289.8 L462.0,1289.6 L463.0,1289.4 L464.0,1289.2 L465.0,1289.0 L466.0,1288.8 L467.0,1288.5 L468.0,1288.2 L469.0,1288.0 L470.0,1287.7 L471.0,1287.3 L472.0,1286.9 L473.0,1286.5 L474.0,1286.0 L475.0,1285.5 L476.0,1285.0 L477.0,1284.4 L478.0,1283.8 L479.0,1283.2 L480.0,1282.6 L481.0,1282.0 L482.0,1281.4 L483.0,1280.8 L484.0,1280.2 L485.0,1279.6 L486.0,1279.0 L487.0,1278.4 L488.0,1277.7 L489.0,1277.1 L490.0,1276.4 L491.0,1275.7 L492.0,1275.0 L493.0,1274.3 L494.0,1273.7 L495.0,1273.0 L496.0,1272.3 L497.0,1271.6 L498.0,1270.9 L499.0,1270.2 L500.0,1269.5 L501.0,1268.8 L502.0,1268.1 L503.0,1267.4 L504.0,1266.7 L505.0,1266.0 L506.0,1265.3 L507.0,1264.6 L508.0,1263.9 L509.0,1263.3 L510.0,1262.6 L511.0,1262.0 L512.0,1261.4 L513.0,1260.7 L514.0,1260.1 L515.0,1259.5 L516.0,1258.9 L517.0,1258.3 L518.0,1257.7 L519.0,1257.1 L520.0,1256.5 L521.0,1255.9 L522.0,1255.3 L523.0,1254.7 L524.0,1254.1 L525.0,1253.5 L526.0,1252.9 L527.0,1252.3 L528.0,1251.7 L529.0,1251.1 L530.0,1250.4 L531.0,1249.8 L532.0,1249.2 L533.0,1248.5 L534.0,1247.8 L535.0,1247.1 L536.0,1246.4 L537.0,1245.7 L538.0,1245.0 L539.0,1244.2 L540.0,1243.5 L541.0,1242.8 L542.0,1242.1 L543.0,1241.4 L544.0,1240.7 L545.0,1240.1 L546.0,1239.4 L547.0,1238.8 L548.0,1238.2 L549.0,1237.6 L550.0,1236.9 L551.0,1236.3 L552.0,1235.8 L553.0,1235.2 L554.0,1234.6 L555.0,1234.0 L556.0,1233.5 L557.0,1232.9 L558.0,1232.4 L559.0,1231.8 L560.0,1231.3 L561.0,1230.7 L562.0,1230.2 L563.0,1229.7 L564.0,1229.2 L565.0,1228.7 L566.0,1228.2 L567.0,1227.7 L568.0,1227.2 L569.0,1226.8 L570.0,1226.4 L571.0,1226.0 L572.0,1225.6 L573.0,1225.2 L574.0,1224.9 L575.0,1224.5 L576.0,1224.1 L577.0,1223.8 L578.0,1223.5 L579.0,1223.2 L580.0,1222.9 L581.0,1222.6 L582.0,1222.3 L583.0,1222.0 L584.0,1221.7 L585.0,1221.4 L586.0,1221.1 L587.0,1220.9 L588.0,1220.6 L589.0,1220.3 L590.0,1220.1 L591.0,1219.9 L592.0,1219.7 L593.0,1219.6 L594.0,1219.4 L595.0,1219.3 L596.0,1219.2 L597.0,1219.1 L598.0,1219.1 L599.0,1219.0 L600.0,1218.9 L601.0,1218.8 L602.0,1218.8 L603.0,1218.7 L604.0,1218.6 L605.0,1218.6 L606.0,1218.6 L607.0,1218.5 L608.0,1218.5 L609.0,1218.5 L610.0,1218.5 L611.0,1218.5 L612.0,1218.6 L613.0,1218.6 L614.0,1218.7 L615.0,1218.8 L616.0,1218.9 L617.0,1219.0 L618.0,1219.1 L619.0,1219.3 L620.0,1219.4 L621.0,1219.5 L622.0,1219.7 L623.0,1219.8 L624.0,1220.0 L625.0,1220.3 L626.0,1220.5 L627.0,1220.8 L628.0,1221.2 L629.0,1221.5 L630.0,1221.9 L631.0,1222.3 L632.0,1222.8 L633.0,1223.2 L634.0,1223.6 L635.0,1224.0 L636.0,1224.4 L637.0,1224.9 L638.0,1225.3 L639.0,1225.8 L640.0,1226.2 L641.0,1226.7 L642.0,1227.2 L643.0,1227.7 L644.0,1228.3 L645.0,1228.8 L646.0,1229.4 L647.0,1229.9 L648.0,1230.5 L649.0,1231.1 L650.0,1231.8 L651.0,1232.4 L652.0,1233.1 L653.0,1233.8 L654.0,1234.5 L655.0,1235.2 L656.0,1235.9 L657.0,1236.7 L658.0,1237.5 L659.0,1238.3 L660.0,1239.1 L661.0,1239.9 L662.0,1240.8 L663.0,1241.7 L664.0,1242.7 L665.0,1243.6 L666.0,1244.6 L667.0,1245.6 L668.0,1246.7 L669.0,1247.7 L670.0,1248.8 L671.0,1249.9 L672.0,1251.1 L673.0,1252.2 L674.0,1253.4 L675.0,1254.6 L676.0,1255.9 L677.0,1257.1 L678.0,1258.4 L679.0,1259.8 L680.0,1261.1 L681.0,1262.5 L682.0,1263.8 L683.0,1265.2 L684.0,1266.6 L685.0,1267.9 L686.0,1269.3 L687.0,1270.6 L688.0,1272.0 L689.0,1273.5 L690.0,1274.9 L691.0,1276.3 L692.0,1277.7 L693.0,1279.1 L694.0,1280.5 L695.0,1281.9 L696.0,1283.3 L697.0,1284.7 L698.0,1286.0 L699.0,1287.3 L700.0,1288.6 L701.0,1289.9 L702.0,1291.1 L703.0,1292.4 L704.0,1293.7 L705.0,1295.0 L706.0,1296.2 L707.0,1297.5 L708.0,1298.9 L709.0,1300.2 L710.0,1301.6 L711.0,1303.0 L712.0,1304.5 L713.0,1305.9 L714.0,1307.4 L715.0,1308.9 L716.0,1310.5 L717.0,1312.0 L718.0,1313.5 L719.0,1315.0 L720.0,1316.6 L721.0,1318.0 L722.0,1319.5 L723.0,1321.0 L724.0,1322.4 L725.0,1323.8 L726.0,1325.1 L727.0,1326.5 L728.0,1327.8 L729.0,1329.1 L730.0,1330.4 L731.0,1331.6 L732.0,1332.9 L733.0,1334.2 L734.0,1335.5 L735.0,1336.7 L736.0,1338.0 L737.0,1339.2 L738.0,1340.5 L739.0,1341.8 L740.0,1343.1 L741.0,1344.4 L742.0,1345.7 L743.0,1347.0 L744.0,1348.4 L745.0,1349.7 L746.0,1351.1 L747.0,1352.5 L748.0,1353.9 L749.0,1355.3 L750.0,1356.7 L751.0,1358.1 L752.0,1359.5 L753.0,1360.9 L754.0,1362.3 L755.0,1363.7 L756.0,1365.1 L757.0,1366.4 L758.0,1367.8 L759.0,1369.2 L760.0,1370.6 L761.0,1371.9 L762.0,1373.3 L763.0,1374.7 L764.0,1376.0 L765.0,1377.4 L766.0,1378.7 L767.0,1379.9 L768.0,1381.1 L769.0,1382.3 L770.0,1383.5 L771.0,1384.6 L772.0,1385.7 L773.0,1386.8 L774.0,1387.9 L775.0,1388.9 L776.0,1389.9 L777.0,1390.9 L778.0,1391.8 L779.0,1392.6 L780.0,1393.4 L781.0,1394.1 L782.0,1394.9 L783.0,1395.6 L784.0,1396.2 L785.0,1396.8 L786.0,1397.4 L787.0,1398.0 L788.0,1398.5 L789.0,1399.0 L790.0,1399.4 L791.0,1399.8 L792.0,1400.2 L793.0,1400.5 L794.0,1400.8 L795.0,1401.1 L796.0,1401.3 L797.0,1401.6 L798.0,1401.8 L799.0,1402.0 L800.0,1402.2 L801.0,1402.4 L802.0,1402.6 L803.0,1402.7 L804.0,1402.8 L805.0,1403.0 L806.0,1403.1 L807.0,1403.2 L808.0,1403.3 L809.0,1403.5 L810.0,1403.6 L811.0,1403.7 L812.0,1403.7 L813.0,1403.8 L814.0,1403.9 L815.0,1404.0 L816.0,1404.0 L817.0,1404.1 L818.0,1404.1 L819.0,1404.2 L820.0,1404.2 L821.0,1404.3 L822.0,1404.3 L823.0,1404.3 L824.0,1404.4 L825.0,1404.4 L826.0,1404.5 L827.0,1404.5 L828.0,1404.5 L829.0,1404.5 L830.0,1404.6 L831.0,1404.6 L832.0,1404.6 L833.0,1404.7 L834.0,1404.7 L835.0,1404.7 L836.0,1404.7 L837.0,1404.8 L838.0,1404.8 L839.0,1404.8 L840.0,1404.8 L850.0,1405.0 L860.0,1405.2 L870.0,1405.3 L880.0,1405.4 L890.0,1405.5 L900.0,1405.6 L910.0,1405.7 L920.0,1405.8 L930.0,1405.9 L940.0,1406.0 L950.0,1406.1 L960.0,1406.1 L970.0,1406.2 L980.0,1406.3 L990.0,1406.4 L1000.0,1406.5 L1010.0,1406.6 L1020.0,1406.7 L1030.0,1406.8 L1040.0,1406.9 L1050.0,1407.0 L1060.0,1407.1 L1070.0,1407.2 L1080.0,1407.3 L1090.0,1407.4 L1100.0,1407.5 L1110.0,1407.6 L1120.0,1407.7 L1130.0,1407.8 L1140.0,1407.9 L1150.0,1408.0 L1160.0,1408.1 L1170.0,1408.1 L1180.0,1408.2 L1190.0,1408.3 L1200.0,1408.4 L1210.0,1408.5 L1220.0,1408.6 L1230.0,1408.7 L1240.0,1408.7 L1250.0,1408.8 L1260.0,1408.9 L1270.0,1408.9 L1280.0,1409.0 L1290.0,1409.0 L1300.0,1409.0 L1310.0,1409.1 L1320.0,1409.1 L1330.0,1409.1 L1340.0,1409.2 L1350.0,1409.2 L1360.0,1409.3 L1370.0,1409.3 L1380.0,1409.3 L1390.0,1409.3 L1400.0,1409.4 L1410.0,1409.4 L1420.0,1409.4 L1430.0,1409.5 L1440.0,1409.5 L1450.0,1409.5 L1460.0,1409.5 L1470.0,1409.5 L1480.0,1409.6 L1490.0,1409.6 L1500.0,1409.6 L1510.0,1409.6 L1520.0,1409.6 L1530.0,1409.6 L1539.5,1409.6"/>
</g>
<g class="tick">
<text x="236" y="87.3" text-anchor="end">1.2</text>
<text x="236" y="310.4" text-anchor="end">1.0</text>
<text x="236" y="533.5" text-anchor="end">0.8</text>
<text x="236" y="756.5" text-anchor="end">0.6</text>
<text x="236" y="979.6" text-anchor="end">0.4</text>
<text x="236" y="1202.7" text-anchor="end">0.2</text>
<text x="236" y="1425.8" text-anchor="end">0.0</text>
<text x="270.0" y="1485.7" text-anchor="middle">300</text>
<text x="523.9" y="1485.7" text-anchor="middle">400</text>
<text x="777.8" y="1485.7" text-anchor="middle">500</text>
<text x="1031.7" y="1485.7" text-anchor="middle">600</text>
<text x="1285.6" y="1485.7" text-anchor="middle">700</text>
<text x="1539.5" y="1485.7" text-anchor="middle">800</text>
</g>
<text class="ttl" x="638.6" y="1586.6" style="font-kerning:auto;letter-spacing:-0.12px">Wavelength (nm)</text>
<text class="ttl" transform="translate(80.1,967.5) rotate(-90)" style="letter-spacing:0.35px">Absorbance (a.u.)</text>
<text class="cap" x="824.8" y="1840.4" font-size="87">(</text>
<text class="cap b" x="852.2" y="1839.8" font-size="85">c</text>
<text class="cap" x="887.7" y="1840.4" font-size="87">)</text>
<text class="b" x="765" y="740.6" font-size="53.33">λ = 428 nm</text>
<polygon points="836.3,768 843.7,768 846.9,1252 865.1,1251.2 844.1,1336.7 822.8,1251.2 839.5,1252" fill="#000"/>
<g class="lg">
<text x="879.3" y="853.8">Acid yellow 23</text>
<text x="879.3" y="893.9">Adsorption (30 min)</text>
<text x="879.3" y="934.9">10 min</text>
<text x="879.3" y="976.2">20 min</text>
<text x="879.3" y="1019.9">30 min</text>
<text x="905.9" y="1090.2">.</text>
<text x="905.9" y="1115.3">.</text>
<text x="905.9" y="1138.4">.</text>
<text x="905.9" y="1160.2">.</text>
<text x="905.9" y="1183.1">.</text>
<text x="878.5" y="1221.6" font-size="48">100 min</text>
</g>
<ellipse cx="1067.1" cy="466.5" rx="64.5" ry="62.2" fill="none" stroke="#FF0000" stroke-width="15"/>
<g class="bond">
<line x1="940" y1="347.8" x2="986" y2="372"/>
<line x1="986" y1="372" x2="986" y2="424.5"/>
<line x1="986" y1="424.5" x2="940" y2="450.9"/>
<line x1="940" y1="450.9" x2="894.1" y2="424.5"/>
<line x1="894.1" y1="424.5" x2="894.1" y2="372"/>
<line x1="894.1" y1="372" x2="940" y2="347.8"/>
<line x1="940" y1="356.7" x2="977.7" y2="379"/>
<line x1="902.8" y1="379.4" x2="902.8" y2="419.3"/>
<line x1="940" y1="442" x2="977.7" y2="419.7"/>
<line x1="862.9" y1="356.2" x2="894.1" y2="372"/>
<line x1="817.4" y1="332" x2="831.9" y2="338.1"/>
<line x1="856.4" y1="333.9" x2="868.5" y2="323.3"/>
<line x1="863.3" y1="338.5" x2="873.5" y2="329.6"/>
<line x1="821.6" y1="367.3" x2="831.7" y2="359"/>
<line x1="826.7" y1="372.3" x2="838.4" y2="363.6"/>
<line x1="986" y1="424.5" x2="1011.5" y2="439.8"/>
<line x1="1050.3" y1="465" x2="1055.9" y2="468.7"/>
<line x1="1053.1" y1="458.5" x2="1060.9" y2="462.7"/>
<line x1="1097.1" y1="487.8" x2="1125.2" y2="503"/>
<line x1="1125.2" y1="503" x2="1173.9" y2="483.5"/>
<line x1="1133.9" y1="508.6" x2="1172" y2="492.8"/>
<line x1="1173.9" y1="483.5" x2="1182.2" y2="451.4"/>
<line x1="1173.9" y1="483.5" x2="1192.4" y2="503.4"/>
<line x1="1196.7" y1="541.1" x2="1194.3" y2="546.3"/>
<line x1="1129.3" y1="555.4" x2="1161.8" y2="562.1"/>
<line x1="1138.2" y1="549.1" x2="1164.6" y2="553.6"/>
<line x1="1125.2" y1="503" x2="1129.3" y2="555.4"/>
<line x1="1129.3" y1="555.4" x2="1099.5" y2="571.2"/>
<line x1="1226" y1="519.3" x2="1260.9" y2="514.7"/>
<line x1="1260.9" y1="514.7" x2="1284.5" y2="466.8"/>
<line x1="1284.5" y1="466.8" x2="1337.8" y2="462.3"/>
<line x1="1337.8" y1="462.3" x2="1367.8" y2="505.4"/>
<line x1="1367.8" y1="505.4" x2="1347.3" y2="553.1"/>
<line x1="1347.3" y1="553.1" x2="1294.2" y2="557.8"/>
<line x1="1294.2" y1="557.8" x2="1260.9" y2="514.7"/>
<line x1="1289.7" y1="476.2" x2="1332.8" y2="471.6"/>
<line x1="1272.5" y1="514.1" x2="1298.5" y2="549.1"/>
<line x1="1357.9" y1="505.4" x2="1339.9" y2="544.4"/>
<line x1="1367.8" y1="505.4" x2="1402.9" y2="501.3"/>
<line x1="1415.9" y1="466.9" x2="1415.9" y2="480.9"/>
<line x1="1424.8" y1="466.9" x2="1424.8" y2="480.9"/>
<line x1="1415.9" y1="516.5" x2="1415.9" y2="532.7"/>
<line x1="1424.8" y1="516.5" x2="1424.8" y2="532.7"/>
<line x1="1434.4" y1="498.5" x2="1456" y2="498.5"/>
</g>
<g class="at" text-anchor="middle">
<text x="886.1" y="325">O</text>
<text x="803.1" y="335.7">O</text>
<text x="810.1" y="399.4">O</text>
<text x="849.9" y="360.4">S</text>
<text x="1033.2" y="465">N</text>
<text x="1079.2" y="491.9">N</text>
<text x="1209.2" y="534.6">N</text>
<text x="1183" y="579.8">N</text>
<text x="1421" y="516.1">S</text>
<text x="1420.1" y="462.6">O</text>
<text x="1420.1" y="566.3">O</text>
<text x="1474.9" y="514.7">O</text>
</g>
<text class="at" x="1171.3" y="446.5">OH</text>
<text class="at" x="964.4" y="595.5" style="letter-spacing:-0.5px">NaCOO</text>
<g class="ch" text-anchor="middle">
<text x="790.9" y="314.4" font-size="23">−</text>
<text x="1052.9" y="574.5" font-size="33">−</text>
<text x="1484" y="492.6" font-size="23">−</text>
</g>
</svg></body></html>
